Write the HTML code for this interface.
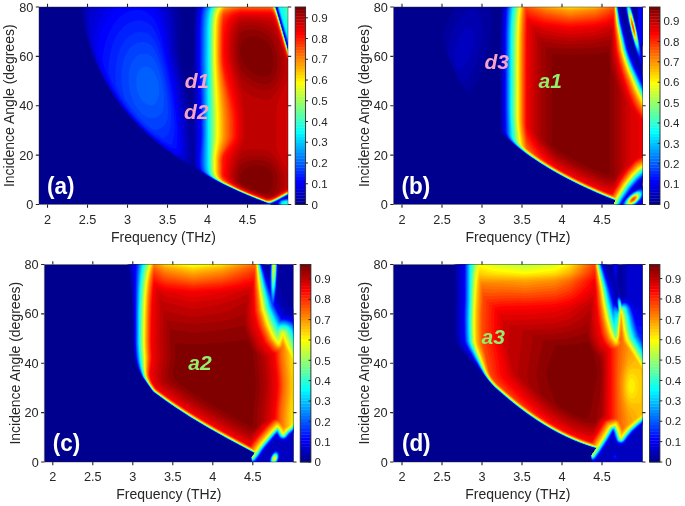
<!DOCTYPE html>
<html><head><meta charset="utf-8"><style>
html,body{margin:0;padding:0;background:#fff;width:685px;height:506px;overflow:hidden}
svg{display:block;font-family:"Liberation Sans",sans-serif;will-change:transform}
</style></head><body>
<svg width="685" height="506" viewBox="0 0 685 506">
<clipPath id="ca"><rect x="39" y="7" width="249" height="197.5"/></clipPath>
<g clip-path="url(#ca)">
<rect x="39.0" y="7.0" width="249.0" height="197.5" fill="#00008f"/>
<path fill="#00009f" d="M289.8 206.4l-22-0.2 0.4-0.4 0.6 0 0.4-0.5 0.6 0 0.4-0.5 0.6 0 0-0.2-2-0.6-0.3-0.2-2.3-0.7-0.4-0.4-1-0.1-0.4-0.4-0.6-0.1-0.7-0.3-0.9-0.2-0.3-0.4-2.1-0.6-0.4-0.4-1.2-0.2-0.2-0.2-0.8-0.2-0.4-0.4-1-0.2-0.3-0.2-0.7-0.2-0.5-0.4-1.1-0.2-0.2-0.2-0.8-0.2-0.4-0.4-2-0.6-0.4-0.4-0.6 0-0.6-0.4-1-0.2-0.3-0.4-0.7-0.1-0.4-0.4-2-0.6-0.4-0.3-0.6-0.2-0.4-0.4-2.2-0.6-0.3-0.4-0.7-0.1-0.3-0.3-0.7-0.2-0.4-0.4-2-0.6-0.4-0.4-0.6-0.1-0.4-0.3-0.6-0.2-0.4-0.4-0.6-0.1-0.6-0.4-0.4 0-0.7-0.5-0.9-0.2-0.2-0.2-0.8-0.2-0.3-0.4-0.7-0.1-0.3-0.3-0.7-0.2-0.3-0.4-0.7-0.1-0.3-0.3-0.7-0.2-0.4-0.4-0.6-0.1-0.4-0.3-0.6-0.2-0.4-0.4-0.6-0.1-0.4-0.3-0.6-0.2-0.4-0.4-0.6-0.1-3.4-1.9-0.6-0.1-0.4-0.4-0.6-0.1-0.4-0.4-0.6-0.1-0.3-0.3-1.7-0.8-0.2-0.2-0.8-0.3-5.4-3.1-7.6-4.6-3.1-2.6-1.2-1.4-0.1-0.8-2 0.2-1-0.3-2.6-1.2-5.4-3.2-8.6-5.6-7-5-9-7-6.4-5.5-9-8.3-7.4-7.3-6.8-7.6-5-6-5-6.4-5-7-4.5-7-4.9-8.6-4.2-8-4.4-9.4-3-7.6-2.4-7-2.5-8-2.4-9-1.8-8.4-1.4-8.6-1-9 96.2 0 1.4 4 0.9 3.6 0.7 3.4 0.4 4 0 7-0.8 16 0.1 7 0.6 6 0.8 5 3.4 16.6 3 16.2 2.4 15.6 2 14.6 0.3-7 1-48.4 0.3-40.5 0.5-13.1 0.5-5.4 0.7-4.6 29.3-0.1 46.4 0 4.6 0.1 14-0.1 0.1 0.1-0.1 48.6 0.2 4 0 8.4 0 122-0.2 7 0.1 11z"/>
<path fill="#0000af" d="M189.8 162.8l-2.6 0.3-1.3-0.3-3.1-1.8-5-3.1-6-4.1-7.6-5.5-6.4-5.1-7-6-10-9.3-5.1-5.1-5.1-5.6-8.3-10-4.2-5.4-3.8-5.6-7-11-6.2-11.4-5.1-11-2.4-6-2.6-7-1.9-6-1.9-7-2.4-10.6-1.3-10.4-0.4-10.6 88.6 0 1.4 3.6 1 3 1 4 0.5 3.4 0.4 7.6 0.3 19 0.5 6.7 0.5 4.3 0.9 5.5 3.3 15.5 2.6 13.4 2.4 15.6 2.1 15.4 1.5 14.6 1.1 18 0 4-0.8 3.4zM289.8 206.4l-22-0.2 0.4-0.4 0.6 0 0.4-0.4 0.6 0 0.4-0.5 0.6 0 0.1-0.1-0.1-0.4-1.6-0.4-2-0.8-1-0.2-0.2-0.2-6.2-2.3-0.3-0.3-2.3-0.7-0.3-0.3-2.1-0.7-0.3-0.3-5.7-2.1-0.4-0.3-5.6-2.3-0.3-0.3-0.7-0.1-0.5-0.3-2.1-0.8-1.3-0.8-4.1-1.7-0.3-0.3-0.7-0.2-0.4-0.2-9.2-4.3-9-4.6-10.8-6.1-5.8-4-1.7-1.6-0.7-1-0.5-1.4-0.2-2.6-0.7-23 0-30 0.9-84 0.7-13 0.6-4.4 0.7-3.6 48.5-0.1 26.6 0 4 0.1 14-0.1 0.1 0.1-0.1 48.6 0.2 7 0 127.4-0.2 7 0.1 11z"/>
<path fill="#0000bf" d="M186.8 160.8l-2 0-2.6-0.6-2.4-1.3-6-4-6.6-4.6-7.4-5.8-6.6-5.4-6.4-5.7-9.6-9.3-5-5.3-4.8-5.6-7.9-10-3.6-5-4-6-6.7-11-5.6-11-4.9-11.4-3.4-9.6-1.9-7-1.7-8-1.2-7-0.8-6-0.4-5.4 0.5-5.6 0.7-5 81.6 0 1.7 4 1 3 0.9 3.6 0.7 3.4 0.8 8 0.9 19.6 0.8 8.4 1 5.6 3.3 15.4 2.6 13.8 2.2 13.8 1.8 13.4 1.8 18.6 0.6 8.4 0.3 8 0 4.6-1.3 3.8zM289.8 206.4l-21.9-0.2 0.3-0.3 0.6 0 0.4-0.5 0.6 0 0.4-0.4 0.6 0 0.4-0.6 1.6-0.1 4.4-2.4 0.7-0.7-0.7 0.5-0.4-0.1-0.6 0.6-0.4-0.1-0.8 0.7-0.2 0.4-0.8 0-0.2 0.5-0.6-0.1-2 0.5-1 0-2.4-0.7-4-1.5-15-5.9-18-8-10.6-5.1-8.4-4.5-6.4-3.6-4.2-2.7-4.1-3.3-1.2-2-0.5-3-0.1-4-0.3-23.6 0.4-101 0.3-11.4 0.4-8 0.7-6 1.1-4.6 73.9-0.1 3.8 0.1 0.2 0.4 0.1-0.4 2.3 0 11.6-0.1 0.1 0.1-0.2 48.6 0.3 7 0 127.4-0.2 7 0.1 11zM276.3 7.2l-0.1-0.6zM276.8 8.8l0-0.4 0 0.5zM277.3 10.2l-0.1-0.1 0 0.4zM277.8 12.2l0-0.2zM278.4 13.8l-0.2-0.3 0 0.6zM278.8 15.8l0-0.2zM279.3 17.2l-0.1-0.2 0 0.5zM280.3 20.8l-0.1-0.3 0 0.5zM281.3 24.2l-0.1-0.2 0 0.4zM282.3 27.8l-0.1-0.3 0 0.4zM283.3 31.2l-0.1-0.2 0 0.4zM284.3 34.8l-0.1-0.3 0 0.4zM285.3 38.2l-0.1-0.2 0 0.4zM286.3 41.8l-0.1-0.3zM286.8 43.2l0 0.2zM287.3 45.2l-0.1-0.1zM287.8 46.8l0 0.1zM288.3 48.8l-0.1-0.2zM288.8 50.2l0-0.1 0 0.3zM289.3 52.2l-0.1-0.1zM284 198.2l4.9-2.4 0.5-0.6-0.3 0-0.3 0.5-0.6 0-0.4 0.5-0.6 0-0.4 0.5-0.6 0-0.4 0.5-0.6-0.1-0.4 0.6-0.6-0.1-0.4 0.6-0.7 0 0.1 0.2z"/>
<path fill="#0000cf" d="M184.8 158.9l-0.6 0.1-1 0-3-0.9-3-1.4-4-2.4-7.4-5.4-7.3-5.7-6.6-5.4-7.1-6.5-5.6-5.4-4.4-4.7-4.6-5-5-6-5.1-6.4-4-5.6-4-6-3.4-5.4-4-7-2.9-5.9-2.4-5.1-2.7-6.6-2.1-6-2.2-7-1.5-6-1.3-6-0.9-4.4-0.2-2.6 0-7.4 0.5-7.6 0.2-1.4 0.6-1.6 3.2-7 71.3 0 1.9 4 1.3 3.6 1.2 4 0.8 4 0.9 7 1.3 18 1.1 9.4 0.8 5 3 13.6 2.2 11.4 2 11.6 1.8 12 1.8 16.4 1.1 15.6 0.6 14.4-0.6 2zM289.8 206.4l-21.9-0.2 0.3-0.3 0.6 0 0.4-0.4 0.6 0 0.4-0.5 0.6 0.1 0.4-0.6 1 0.4 0.6-0.1 4.4-2.4 1-1.2-0.4-0.1-0.6 0.4-0.4 0-0.6 0.5-0.4 0-0.6 0.5-2 0.9-2.4 0.6-1-0.1-3-0.9-5.6-2.1-13.4-5.4-17-7.6-8.6-4.1-9.7-5-6.8-4-4.5-3-3-2.6-1.3-2-0.5-2.4-0.2-4.6 0.1-125.4 0.3-11.6 0.5-8 0.8-6 1.2-4 25.7-0.1 48.4 0 2.3 0.1 0.3 0.8 0.3 0.2 0.1 1.5 0.3-0.5-0.3-1.1-0.2-0.3 0-0.6 12.2-0.1 1.6 0 0.1 0.1 0 38-0.1 9.9-0.2 0.7 0.3 3 0.1 4-0.1 131.4-0.1 3-0.6-0.1-1 0.4-1.4 0.9-0.6 0.1-0.4 0.4-0.6 0.1-0.4 0.5-0.6 0-0.4 0.5-0.6 0.1-0.4 0.6-0.6 0.1 0.6 0 2.2-0.6 4.2-2.1 0.6-0.5 0.1 6.6 0 4zM277.5 10.8l-0.3-1.2-0.3-0.4 0.1-0.4-0.2-1-0.2 1 0.2 0.5 0.3 0.5 0.1 1.2zM278 12.2l-0.2-0.9-0.2 0.5 0.2 0.9zM278.4 14.2l0.1-0.4-0.3-0.8-0.1 0.8 0.1 0.6zM279 15.8l-0.2-1-0.2 0.4 0.2 0.9zM279.4 17.8l0.1-0.6-0.3-0.7-0.1 0.7 0.1 0.7zM280 19.2l-0.2-0.9-0.2 0.5 0.2 0.8zM280.9 22.8l-0.1-1.1-0.4-0.5 0.1-0.4-0.3-0.8-0.1 0.8 0.1 0.5 0.5 0.5-0.1 0.4 0.2 0.9zM281.9 26.2l-0.1-1-0.5-0.4 0.2-0.6-0.3-0.7-0.1 0.7 0.1 0.6 0.5 0.4-0.1 0.6 0.2 0.7zM282.9 29.8l-0.1-1.1-0.5-0.5 0.2-0.4-0.3-0.8-0.1 0.8 0.1 0.5 0.5 0.5-0.1 0.4 0.2 0.8zM283.9 33.2l-0.1-1-0.5-0.4 0.2-0.6-0.3-0.8-0.1 0.8 0.1 0.6 0.5 0.4-0.1 0.6 0.2 0.7zM284.5 34.8l-0.3-0.9-0.1 0.9 0.1 0.4zM284.9 36.8l-0.1-1.1-0.2 0.5 0.2 0.8zM285.5 38.2l-0.3-0.8-0.1 0.8 0.1 0.5zM285.9 40.2l-0.1-1-0.2 0.6 0.2 0.7zM286.5 41.8l-0.3-0.9-0.1 0.9 0.1 0.4zM286.9 43.8l-0.1-1.2-0.2 0.6 0.2 0.7zM287.5 45.2l-0.3-0.8-0.1 0.8 0.1 0.5zM287.9 47.2l-0.1-1.1-0.2 0.7 0.2 0.6zM288.5 48.8l-0.3-0.9-0.1 0.3 0.1 1zM288.9 50.8l0-0.6-0.1-0.6-0.2 0.6 0.2 0.7zM289.5 52.2l-0.3-0.9-0.1 0.5 0.1 0.8z"/>
<path fill="#0000df" d="M182.2 157.3l-1-0.1-2-0.7-3.4-1.7-5-3.1-6-4.1-6.6-4.9-6-4.9-5-4.6-6.3-6-8.7-9-6-6.9-4-5.1-3-4-5.4-8-3.6-6-3.1-5.4-2.9-5.6-2.8-6-2.3-5.4-2.5-6.6-2.1-6.4-1.8-6.6-0.5-2-0.3-4-0.4-9 0-3.4 0.3-1.6 1.7-5.4 2.3-5.6 2.4-5.1 2.9-4.9 58.9 0 1.8 3.2 1.6 3.4 1.3 3.4 1.1 3.6 1 4.3 1 6.7 1.7 17 1.1 8.4 0.9 5 2.8 12.6 2 10 2.1 11.4 1.5 10 2 17.6 2 27.4 0.1 4.6-0.8 1.9zM289.8 206.4l-21.8-0.2 0.2-0.2 0.6 0 0.4-0.5 0.6 0 0.4-0.4 0.6 0 0.4-0.4 1 0.6 0.6 0 1-0.5 3.4-1.9 2.2-2.7-0.2 0-0.4 0.4-1 0.3-4 2.1-3.6 0.9-3.4-1-10.6-4-12-5-9-4-12-5.7-7.7-4-7.3-4.1-6-3.8-2.4-2.1-1.9-2.4-0.6-2.6-0.2-4.4 0.4-25.6-0.4-72 0.1-29.4 0.3-11 0.6-8 0.9-5.6 0.5-2 0.8-2 44.9-0.1 26.6 0 3.6 0.1 3.5 11.6 10.5 36.4 0.4 1.5 0.1 2.1 0 136-0.1 2.3-0.6-0.1-0.4 0.1-6.9 3.7 0.3 0.2 0.6 0 3.1-0.8 3.9-1.9 0.1 5.9zM289.8 52.5l-13.6-47.3 12-0.1 1.6 0 0.1 0.1zM281.7 199.2l-0.5-0.1-0.2 0.1 0.2 0.2zM280.4 199.8l-0.3 0z"/>
<path fill="#0000ef" d="M179.2 155.3l-3.4-1.6-5-3-6-4.1-6.6-4.8-6-4.8-5-4.4-5.4-5.1-5.7-5.7-5-5.6-4.6-5.4-4.6-6-3.9-5.6-3.6-5.4-4-6.6-3.5-6.4-3-6-3.9-9-3.2-8.9-0.9-4.1-0.8-5.6-0.6-5.4-0.2-4.6 1.3-5 1.4-4.4 1.6-4.6 1.7-4 1.9-3.8 2.2-3.6 2.4-3.5 2.4-3.1 46.6 0 2.4 3.8 2 3.8 1.3 3 1.2 3.4 1.1 3.9 0.8 3.7 1 6 1.9 15 1.1 7 5.8 27.4 1.9 10.6 1.6 11 3.1 26.4 0.7 9 0.3 7.6 0.1 5.4-0.3 0.8-1 1.2zM270.2 203.8l-2-0.4-3-1.1-17.4-7-12.6-5.4-12.4-6-9-4.7-8-4.8-3.3-2.2-1.8-1.4-1.8-2.6-0.6-2.4-0.4-4.6 0.1-6.4 0.8-19.6-0.1-23.4-0.7-48 0.1-30 0.3-11.6 0.6-7.4 1-5.6 1.4-4 71.4-0.1 2.4 0.1 0.4 1 14.2 48.8 0.1 1.2 0 136-0.1 2.9-0.6-0.2-0.4 0.1-15 7.8zM289.8 52l-13.5-46.8 11.9-0.1 1.7 0.1zM289.8 206.4l-21.8-0.2 0.2-0.2 0.6 0 0.4-0.4 0.6 0 0.4-0.4 0.9 0 0.7 0.5 0.4 0.1 1-0.2 4-2.1 2-2.8 1.5-0.9 0.1-0.2 6.2-1.4 2.8-1.3z"/>
<path fill="#0000ff" d="M177.8 151.8l-2.6 0.1-1-0.1-1-0.5-5-3.2-7.4-5.3-6.6-5.1-6.4-5.5-6-5.6-6.7-6.8-4.9-5.6-4.9-6-4.1-5.4-4.1-6-4.1-6.6-3.7-6.4-3.3-6.6-2.8-5.9-1.8-6.1-1.5-5.4-1.4-6.6-0.9-5 0.1-2 1.4-6.4 1.5-5.6 1.9-5.4 2.3-5.1 2.4-4.6 2.9-4.3 2.8-3.6 3.3-3.3 3.4-2.7 30.3 0 2.9 3 2.4 3.2 2.1 3.4 1.9 4.1 2 6.1 1.7 7.2 4.1 23.6 3.8 17.4 2.6 13 1.9 11 1.9 13.1 1.1 8.5 0.9 9.3 0.6 7.7 0.2 7-0.2 8-0.6 0.5zM271.2 203.5l-1.4 0.2-1.6-0.4-10.4-4-14.6-6-16.4-7.5-11.9-6-8.1-4.9-3.3-2.1-1.9-1.6-1.8-2.4-0.6-2.6-0.4-4.4 0.1-6.6 1-14 0.2-6-0.2-23.4-1-48 0.1-29.6 0.3-11 0.5-7.4 0.6-4 0.6-3 1.2-3.6 43-0.1 26.6 0 3.4 0.1 3.5 11.6 11.1 38.5 0.1 0.9 0 134.6-0.1 4.2-1-0.2-13.6 7.1-2 0.9zM289.8 51.5l-13.3-46.3 11.7-0.1 1.7 0.1zM289.8 206.3l-16.6-0.1 4-2.1 1.9-2.9 0.7-0.7 1-0.6 1.4-0.5 6-1.2 1.6-0.7zM271.2 206.3l-3.1-0.1 0.1-0.1 0.6 0 0.4-0.5 0.6 0.1 0.4-0.5 1.4 1z"/>
<path fill="#0010ff" d="M271.2 203.3l-1.4 0.3-1.6-0.4-11-4.1-14-5.8-16.4-7.5-9-4.6-7.6-4.2-7.1-4.8-1.1-1-1.5-2-0.6-2.4-0.3-4.6 0.1-5.4 1.2-15 0.2-6.6-0.2-28.4-0.9-27.6-0.3-17 0.1-28.4 0.3-11 0.6-8 0.9-5.6 0.6-2 0.8-2 42.2-0.1 26.6 0 3.3 0.1 4.5 15 9.7 34 0.5 1.2 0 0.8 0.1 134.6-0.1 4.1-0.6-0.3-0.4 0-13.6 7.2-2 0.9zM289.8 50.9l-13.2-45.7 13.3 0zM176.2 148.4l-2 0.2-3-0.7-5-2.3-3.4-2.2-8-6.1-6.6-5.5-6.4-6-6.4-6.6-5.2-6-5.6-7-4.3-6-4.6-7-2.5-4-2-3.8-2.8-6.6-2.5-6.6-2.3-7.4-1.2-5 0.8-6.6 1.1-6 1.5-6 2-5.5 2-4.6 2.3-4.3 2.3-3.6 2.8-3.4 3-3 3-2.4 3-1.7 3.6-1.6 2.4-0.7 2.6-0.4 2.4-0.2 2 0.1 2 0.3 2 0.5 2 0.9 2 1.1 3.6 2.7 1.4 1.6 1.6 1.9 1.4 2.3 1.4 2.6 2.2 5.4 1.4 4.6 1.6 6 7.4 34 2.8 14 2.3 14 1.9 15.4 1 13 0.1 5.6-0.1 5-0.4 5-0.4 2.4zM289.8 206.3l-15.3-0.1 2.7-1.5 0.6-0.5 1.5-3 1.5-1.1 1.4-0.5 5-0.8 2.6-0.7zM270.2 206.3l-2.1-0.1 0.1-0.1 0.6 0 0.4-0.4 0.8 0.1 0.5 0.4z"/>
<path fill="#0020ff" d="M270.8 203.4l-1 0.1-2-0.5-15.6-6-13.4-5.8-15.6-7.2-10-5.3-7-4.5-3.3-2.4-1.6-2-0.2-0.6-0.6-2.4-0.3-4 0.2-7.6 1-14 0.2-6-0.1-23.4-1.2-48 0.1-31 0.4-11 0.6-7.6 1-5.4 1.4-3.6 41.4-0.1 26.6 0 3.2 0.1 4.1 13.6 9.7 34 1 2.6 0 0.8 0.1 135-0.1 3.6-0.6-0.3-0.4 0-13.6 7.1-2 1zM289.8 50.4l-13-45.2 13.1 0zM171.2 144.9l-3.4-1.5-5-2.5-5-2.9-5-3.3-4-3.3-6-5.5-5.1-5.1-4.9-5.5-4.7-5.5-3.8-5-4.3-7-3.3-6-2.8-5.6-2.6-6-2.5-6.5-0.4-1.5 0.1-5.4 0.5-5.6 0.7-5 0.9-4.4 1-4 1.3-4 1.7-4 1.7-3.6 1.9-3.1 2-2.7 2.4-2.6 2.2-2 2.4-1.8 2.6-1.4 3-1.2 2.3-0.6 2.1-0.4 2-0.1 2 0.2 2 0.4 2 0.6 1.6 0.7 2 1.3 3 2.8 1.4 1.9 1.6 2.4 2.4 5.3 2 5.7 3 10.9 3.6 14.2 2 9.1 3 15.5 2.2 15.9 1.2 13.6 0.2 6-0.1 5-0.4 4.4-0.7 3.9-1.1 3.7-0.5 1zM289.8 206.3l-14.3-0.1 1.7-0.9 0.6-0.5 1.8-3.6 1.2-0.9 2-0.7 7-1.2zM269.8 206.3l-1.7-0.1 0.7 0 0.4-0.5z"/>
<path fill="#0030ff" d="M270.8 203.3l-1 0.1-2-0.4-11-4.2-16.6-6.9-13.4-6.3-10-5.1-7-4.1-5.5-3.6-1.9-2-0.6-1-0.7-2.6-0.3-4.4 0.1-7.6 1-14 0.2-6-0.1-23.4-1.1-48 0.1-31 0.4-11 0.6-7.6 0.5-3 0.6-2.4 0.7-2 0.8-1.6 40.6-0.1 26.6 0 3.2 0.1 4 13.6 10.2 35.8 0.6 0.9 0 0.7 0.1 135-0.1 3.5-0.6-0.4-0.4 0-13.6 7.2-2 0.9zM289.8 49.9l-12.9-44.7 12.9 0zM163.8 137.8l-0.6 0.3-0.4-0.1-2-0.9-4.6-2.6-5-3.5-3.4-2.7-3.6-3.1-3.7-3.4-3.4-3.6-6.3-7.5-5.3-7.5-5.1-8.4-4.2-8.6-0.4-3-0.4-6 0-5 0.3-5 0.3-3.4 0.9-5 1-4 1.5-4.6 1.6-3.4 1.9-3.6 1.9-2.5 2-2.4 2.4-2.2 2.6-1.7 2.4-1.2 2.6-0.8 2.4-0.4 2-0.1 2.6 0.3 2 0.5 3.4 1.7 1.6 1.3 1.7 2.1 1.7 2.4 1.3 2.6 2.6 6 2.4 7.4 3.1 11 2.9 13 2.5 14 1.5 12.6 0.4 6 0.2 5-0.1 4.4-0.4 4-0.5 3-0.9 3-0.6 1.6-0.8 0.9-2 1.8zM289.8 206.3l-13.2-0.1 0.6-0.3 0.6-0.6 1.7-3.5 1.3-1.3 2-0.7 7-1.1zM268.8 206.3l-0.6-0.1 0.9 0z"/>
<path fill="#0040ff" d="M270.2 203.3l-1.4-0.1-3-1-14-5.5-12.8-5.5-15.2-7.1-8.6-4.5-5.6-3.4-4.4-3-1.9-2-0.8-1-0.7-2.4-0.4-4.6 0.1-8 0.9-14 0.2-6-0.1-23.4-1-48.6 0.1-30.4 0.4-11 0.6-7.6 0.5-3 0.7-2.3 0.8-2.1 0.8-1.6 39.8-0.1 26.6 0 3.1 0.1 5.1 17 9.2 32.6 0.6 0.8 0 0.6 0.1 135.6-0.1 2.8-0.6-0.4-0.6 0-13.8 7.4-2 0.9zM289.8 49.5l-12.8-44.3 12.8 0zM156.2 129.8l-2.4 0.3-1.6-0.8-2.6-2.1-4.2-3.4-3.6-3.5-3.6-3.6-3-3.5-5.8-7.4-4.6-7-1.1-4-1-4.6-0.6-4-0.5-4.4-0.2-4.6 0.1-4 0.8-7 0.8-4 1.1-3.9 1.5-3.5 1.5-3 1.6-2.3 2-2.3 2.1-2 2.3-1.4 2.3-1 2.3-0.6 2.4-0.2 2 0.1 2.5 0.7 2.1 0.8 2.4 1.5 1.6 1.8 1.4 2.2 1.6 2.8 1.4 3.4 3 8.6 2.6 9.1 2.4 11.6 1.6 9.6 1 10 0.2 9-0.2 3.3-0.5 3.3-1.1 3.3-2.4 2.9-1.6 1.3-2 1.2-2 0.8zM289.8 206.3l-12.4-0.1 1.3-2 1-2.4 1.1-1.1 2-0.8 7-1zM268.2 206.3l0.4-0.1z"/>
<path fill="#0050ff" d="M269.8 203.3l-1.6-0.3-2.4-0.9-17.6-6.9-13-5.7-12.4-5.9-8.6-4.6-6.6-4.2-2-1.6-1.5-1.4-0.9-1-0.3-1-0.6-2-0.3-4.6 0.1-8 0.8-14 0.2-6-0.1-23.4-1-48.6 0.2-31.4 0.4-11 0.7-7 1.2-5 0.8-2 0.9-1.6 39-0.1 26.6 0 3.1 0.1 4.6 15.6 9.7 34.1 0.6 0.8 0.1 1.1 0 135.4-0.1 2.2-0.6-0.3-0.7 0.1-13.7 7.3-4 1.6zM289.8 49.2l-12.7-44 12.7 0zM153.2 118.3l-1.4 0-2-0.2-2-0.6-2-0.9-3.6-2.4-2-1.9-1.4-1.7-3.1-4.4-2.8-5.4-2.1-6.1-1.4-5.9-0.8-6.6 0-6 0.6-5.6 0.7-2.8 0.8-2.6 1.1-2.4 1-1.9 1-1.7 1.4-1.6 1.6-1.4 1.4-1 1.6-0.8 2-0.5 1.4-0.2 1.9 0.1 1.7 0.3 1.4 0.5 2 1.1 1.6 1 2 1.8 0.4 0.7 2.6 5 2.4 7 2 7.5 1.6 7.5 1 7.1 0.4 6.5 0 5-0.6 4.4-0.8 2-1 1.7-1.1 1.3-1.5 1.5-1.4 1.1-1.6 0.7-1.4 0.5zM289.8 206.3l-11.9-0.1 0.9-1.5 1.2-2.9 0.9-1 1.9-0.7 7-1z"/>
<path fill="#0060ff" d="M271.2 202.9l-1 0.3-1.4-0.1-8-2.9-17.6-7.2-17-7.8-10-5.2-6.2-3.8-2.9-2-1.7-1.4-1.4-1.6-0.6-1.4-0.4-1.6-0.4-4.4 0.1-8 0.7-14.6 0.2-6-0.1-23.4-0.9-49 0.2-32 0.4-10 0.7-7 0.5-2.6 0.8-2.4 0.8-2 0.9-1.6 38.3-0.1 26 0 3.6 0.1 3.6 12 10.8 37.8 0.6 0.7 0 0.5 0.1 134.6-0.1 3.5-0.6-0.2-0.9 0.1-13.5 7.2zM289.8 48.8l-12.6-43.6 12.6 0zM152.2 105.3l-2 0.3-2.4-0.6-2.6-1.4-2-1.8-2-2.5-1.7-3.1-1.5-3.4-1.1-4-0.6-4-0.1-3.6 0.3-3.4 0.8-3.6 1.2-3 1.7-2.3 2-1.6 2-0.7 2-0.1 2.6 0.8 2 1.3 2 2 1.8 2.6 1.6 3.2 1.3 3.4 1 4 0.6 4 0.1 3.4-0.2 3.6-0.8 3.5-1 2.5-1.4 2.3-1.6 1.3zM289.8 206.3l-11.6-0.1 2-4.4 1-1 1.6-0.6 7-1z"/>
<path fill="#0070ff" d="M271.2 202.8l-1.4 0.4-1.6-0.3-11.4-4.3-17.6-7.4-16-7.5-9-4.9-5.5-3.6-1.9-1.4-2-2-1-2.6-0.6-5 0-8.4 0.9-20.6-0.1-23.4-0.8-49.6 0.2-32.4 0.5-10 0.8-6.6 1.1-4.4 1-2 0.9-1.6 65.5-0.1 1.5 0.1 0.7 2 13.8 48 0.6 0.6 0.1 1 0 134-0.1 3.4-0.6-0.2-1 0.2-13.4 7.1zM289.8 48.4l-12.4-43.2 12.4 0zM289.8 206.3l-11.3-0.1 1.9-4.4 0.4-0.6 0.8-0.4 1.2-0.5 7-0.9z"/>
<path fill="#0080ff" d="M270.8 202.9l-1.6 0.2-2-0.6-14-5.4-14-5.9-16-7.6-8-4.3-5.7-3.5-3.9-3.6-0.4-0.4-0.9-2.6-0.5-4.4 0-9 0.8-20.6-0.1-23.4-0.7-49.6 0.2-33 0.5-9.4 0.8-6.6 1.2-4.4 1-2 1-1.6 64.7 0 1.5 0 0.6 2 13.9 48 0.6 0.6 0.1 1 0 134.4-0.1 2.9-0.6-0.2-1 0.2-13.4 7.1zM289.8 48l-12.3-42.8 12.3 0zM289.8 206.3l-11-0.1 1.9-4.4 1.1-1 1-0.3 7-1z"/>
<path fill="#008fff" d="M270.8 202.8l-1 0.2-2-0.4-14.6-5.5-14-6-16-7.5-8.4-4.6-5.1-3.2-3.7-3.6-1-2.4-0.7-5 0.1-9 0.6-20.6 0-23.4-0.6-50 0.2-32.6 0.5-9.4 0.8-6.6 0.6-2.4 0.7-2 1-2 1.1-1.6 63.9 0 1.4 0 0.7 2 13.9 48 0.6 0.7 0 0.9 0.1 134.4-0.1 2.8-0.6-0.2-1 0.2-13.4 7.2zM289.8 47.6l-12.2-42.4 12.2 0zM289.8 206.3l-10.7-0.1 1.9-4.4 0.8-0.8 1-0.3 7-1z"/>
<path fill="#009fff" d="M270.2 202.9l-1.4-0.1-2.6-0.7-14-5.5-13-5.5-16-7.6-8.7-4.7-4.6-3-3.2-3-1.2-3-0.6-4.6 0.1-9.4 0.5-20.6 0-23-0.5-50.4 0.2-32.6 0.5-9.4 0.8-6.6 0.7-2.4 0.7-2 1.1-2 1.1-1.6 64.1 0 0.4 0 0.2 0.5 1.5 5.1 12.9 44.4 0.6 0.7 0 0.9 0.1 135.4-0.1 1.8-0.6-0.2-1 0.1-13.4 7.2zM289.8 47.2l-12.1-42 12.1 0zM289.8 206.3l-10.4-0.1 0.1-0.4 1.5-3.6 0.2-0.4 0.6-0.6 1.4-0.4 6.6-0.9z"/>
<path fill="#00afff" d="M270.2 202.9l-1.4-0.1-2.6-0.8-14-5.5-13-5.5-16-7.5-7.7-4.3-4.8-3-3.1-3-1.5-3-0.6-5 0.1-9.4 0.4-20.6-0.5-74 0.3-32 0.5-9.4 0.9-6.6 0.6-2.4 0.8-2 2.1-3.6 63.5 0 0.3 0 0.3 0.7 1.5 4.9 12.8 44.4 0.7 0.7 0 0.9 0.1 135.4-0.1 1.7-0.6-0.2-1 0.2-13.4 7.1zM289.8 46.9l-12-41.7 12 0zM289.8 206.3l-10-0.1 0-0.4 1.4-3.6 0.3-0.4 0.6-0.6 1.1-0.3 6.6-0.9z"/>
<path fill="#00bfff" d="M270.2 202.8l-1.4-0.1-2.6-0.7-14-5.5-13-5.5-16-7.6-7.6-4.2-4.6-3-3-3-1.3-3-0.6-4.4 0.4-30-0.4-75 0.3-31 0.4-9.6 0.9-6.4 0.6-2.6 0.7-2 2.2-4 34-0.1 29.3 0.1 3.8 12.6 10.8 37.4 0.7 0.8 0.1 10.2 0 122-0.1 5.6-0.6-0.2-1 0.2-13.4 7.1zM289.8 46.4l-11.8-41.2 11.8 0zM289.8 206.3l-9.7-0.1 0-0.4 1.4-3.6 0.3-0.4 0.4-0.4 1-0.3 6.6-1z"/>
<path fill="#00cfff" d="M269.8 202.8l-1.6-0.2-3-1-16.4-6.6-14-6.1-11.6-5.5-7.5-4.2-3.9-2.4-3.1-3-1.4-3-0.6-4.6 0.3-30.4-0.3-75.6 0.3-30.4 0.4-9 0.8-6.6 1.1-4 1.2-3 1.2-2 62.7 0 3.4 11 11.2 39 0.4 0.6 0.4 0.2 0.1 10.2 0 122-0.1 5.5-1-0.2-0.6 0.2-13.4 7.1-2.6 1.2zM289.8 45.6l-11.6-40.4 11.6 0zM289.8 206.3l-9.4-0.1 0-0.4 0.8-2.4 1-1.7 1.5-0.5 6.1-0.9z"/>
<path fill="#00dfff" d="M269.8 202.8l-1.6-0.3-3-1-16.4-6.5-12.6-5.5-13-6.2-7.4-4.1-3.8-2.4-2.7-2.6-1.3-3-0.7-4.4 0.2-31.6-0.2-79 0.2-25.4 0.5-9.6 0.7-6.4 0.7-3 1-3 0.9-2 0.9-1.6 62.1 0 3.5 11 11.2 39 0.3 0.6 0.5 0.2 0.1 10.2 0 122-0.1 5.4-1-0.1-0.6 0.1-14 7.4zM289.8 44.9l-11.4-39.7 11.4 0zM289.8 206.3l-9.1-0.1 0-1 1.1-2.2 0.9-1.2 2.1-0.6 5-0.7z"/>
<path fill="#00efff" d="M270.8 202.4l-1 0.3-2-0.4-11.6-4.3-17-7.2-16-7.5-7-3.9-3.4-2.2-3.2-3-1.1-3-0.6-4.4 0.1-31.6-0.1-79 0.2-25.4 0.5-10 0.9-7 1.3-5 0.9-2 1-1.6 61.6 0 3.5 11.1 11.2 38.9 0.2 0.6 0.6 0.3 0.1 10.1 0 122-0.1 5.4-1-0.2-0.6 0.2-13.4 7.1zM289.8 44.1l-11.2-38.9 11.2 0zM289.8 206.3l-8.8-0.1 0-1 0.8-1.6 1-1.4 0.9-0.4 2.1-0.6 4-0.5z"/>
<path fill="#00ffff" d="M270.8 202.3l-1 0.3-1.6-0.2-3-1-9-3.5-16.4-6.9-16.5-7.8-7.2-4-3.1-2-2.8-2.4-1.2-3-0.6-4.6 0-111 0.3-25.4 0.3-9 0.9-8 0.6-2.6 0.8-2.4 0.9-2 1.1-1.6 60.9 0 3.1 9.6 11.6 40.4 0.3 0.6 0.6 0.3 0.1 10.1 0 122-0.1 5.3-1-0.2-0.6 0.2-13.4 7.1zM289.8 43.3l-10.9-38.1 10.9 0zM289.8 206.3l-8.5-0.1 0-1 0.1-0.4 0.8-1.5 0.6-0.5 0.9-0.6 1.1-0.4 2.1-0.6 2.9-0.3z"/>
<path fill="#10ffef" d="M270.2 202.4l-0.4 0.2-1-0.1-2-0.6-14-5.4-13-5.5-16.4-7.8-6.4-3.4-3.2-2-3.3-3-1-2.6-0.6-5 0.1-32-0.1-79 0.2-26.4 0.5-10 0.8-6.6 0.6-2.4 0.7-2 1-2 1.1-1.6 60.4 0 3.6 11.3 11.1 38.7 0.3 0.7 0.6 0.3 0.1 10 0 122-0.1 5.2-1-0.1-0.6 0.1-13.4 7.1zM289.8 38.7l-2.6-8.9-2.3-6-1.7-7.6-3.1-11 9.7 0zM289.8 206.3l-8.1-0.1 0-1.4 1.1-1.5 3-1.5 2.4-0.6 1.6 0z"/>
<path fill="#20ffdf" d="M270.2 202.4l-0.4 0.1-1-0.1-2.6-0.7-13.4-5.3-13-5.5-16.3-7.7-6.4-3.4-3.1-2-2.8-2.6-0.4-0.4-1-2.6-0.5-4.4 0.2-32-0.2-76 0.2-30.6 0.5-9.4 0.8-6.6 0.6-2.4 0.7-2 1.1-2 1.1-1.6 59.8 0 3.7 11.5 11.1 38.5 0.3 0.7 0.6 0.3 0.1 10 0 122-0.1 5.1-1-0.1-0.6 0.1-13.4 7.2zM289.8 29.7l-0.9-1.9-2.2-4-1.1-3-1-4.6-1.4-8.9-0.5-2.1 7.1 0zM289.8 206.3l-7.5-0.1 0-1.4 0.2-0.6 0.5-0.4 3.9-2 2.9-0.2z"/>
<path fill="#30ffcf" d="M270.2 202.3l-0.4 0.1-1 0-2.6-0.7-13.4-5.3-13.6-5.8-16-7.5-5.9-3.3-3.7-2.6-2.2-2-1.2-3-0.6-4.4 0.1-11.6 0.4-21-0.4-74.4 0.2-31.6 0.5-9.4 0.9-6.6 0.6-2.4 0.7-2 1-2 1.2-1.6 59.2 0 1.6 4.6 2.2 7 10.7 37.4 0.5 1.6 0.8 0.4 0.1 10 0 122-0.1 5.1-1-0.2-0.6 0.2-13.4 7.1zM289.8 24.8l-2.6-3.5-1.1-3.1-1-5-0.8-8 5.5 0z"/>
<path fill="#40ffbf" d="M269.8 202.4l-1.6-0.2-2.4-0.8-17.6-6.9-13-5.7-12-5.8-5-2.8-4.4-3-2.1-2-1.1-2.4-0.6-5 0.1-11.6 0.5-21 0-23-0.5-51 0.2-32 0.5-9.4 0.9-6.6 0.6-2.4 0.7-2 1.1-2 1.2-1.6 58.7 0 1.5 4.6 2.2 7 10.8 37.4 0.5 1.6 0.8 0.5 0.1 9.9 0 122-0.1 5-1-0.1-0.6 0.1-13.4 7.1-3.2 1.5zM289.8 19.5l-1.6-0.1-0.8-1.2-0.6-1.6-0.6-2.4-0.5-3-0.1-6 4.2 0z"/>
<path fill="#50ffaf" d="M269.8 202.3l-1.6-0.1-2.4-0.8-17.6-7-12.9-5.6-12.1-5.8-4.8-2.8-4.4-3-1.7-1.4-1.3-3-0.6-4.6 0.1-12 0.7-21-0.1-23.4-0.7-50 0.3-32.6 0.5-9.4 0.9-6.6 0.6-2.4 0.8-2 1.1-2 1.2-1.6 58.1 0 1.6 4.6 2.1 7 11 38 0.3 1 0.9 0.5 0.1 9.9 0 122-0.1 4.9-1-0.1-0.6 0.1-14 7.4-2.7 1.3zM289.8 13.6l-1.6 0-0.4-0.1-0.3-0.7-0.4-2 0-5.6 2.7 0z"/>
<path fill="#60ff9f" d="M269.8 202.3l-1.6-0.2-2.4-0.7-17.6-7-12.8-5.6-12.2-5.9-5.5-3.1-4.1-3-1-1-1.3-3-0.5-4.6 0-12 0.9-21-0.1-23.4-0.8-50 0.1-20 0.2-13 0.5-9 0.9-6.6 0.6-2.4 0.8-2 1.2-2 1.3-1.6 57.4 0 1.6 4.6 2.2 7 10.9 38 0.4 1 0.9 0.6 0.1 9.8 0 122-0.1 4.9-1-0.1-0.6 0.1-14 7.3-2.9 1.4z"/>
<path fill="#70ff8f" d="M270.8 201.9l-1.6 0.3-1.4-0.2-8-3-16-6.6-16.6-7.6-6.9-3.6-5.5-3.7-1.6-1.3-1.4-3-0.6-5 0-12 0.9-15 0.2-6-0.1-23.4-1-49.6 0-20 0.3-13.4 0.5-9.6 0.4-3.4 0.6-3 0.7-2.6 0.9-2 1.2-1.7 1.3-1.3 56.7 0 1.6 4.6 2.1 7 11 38 0.3 1 0.4 0.4 0.6 0.2 0.1 9.8-0.1 126.8-1-0.1-1 0.3-10.6 5.7-3.4 1.7z"/>
<path fill="#80ff80" d="M270.8 201.8l-1.6 0.3-1.4-0.2-6.6-2.4-17.4-7.1-16.6-7.6-6.7-3.6-5.7-3.8-1.3-1.2-1.4-3-0.5-4 0-10.4 1.1-20.6 0.1-14.4-0.2-15.6-1-45.4 0-20.6 0.3-14 0.5-9.4 0.5-3.6 0.6-3 0.9-2.4 1-2 0.8-1.3 1.5-1.3 55.9 0 1.4 3.6 2.2 7.2 11.4 39.2 0.2 0.6 0.4 0.4 0.6 0.3 0.1 9.7-0.1 126.7-1-0.1-1 0.4-11 5.8-3 1.5z"/>
<path fill="#8fff70" d="M270.2 201.9l-1 0.2-1.4-0.2-10.6-4-17-7.1-12.9-6-6.7-3.6-5.2-3.4-1.2-1-1.6-3-0.7-4.6 0-10.4 0.2-5 1.2-15.6 0-14.4-0.2-15.6-1.1-45.4 0-20.6 0.3-14.4 0.6-9.6 0.5-3.4 0.6-2.6 0.8-2.4 1-1.9 1-1.2 1.6-1.5 55.1 0 1.4 3.6 2.2 7 11.4 39.4 0.7 1 0.6 0.3 0 136.4-1-0.1-1 0.3-11 5.9-3.6 1.7z"/>
<path fill="#9fff60" d="M270.2 201.8l-1 0.2-1.4-0.2-10.6-3.9-17-7.1-12.8-6-6.6-3.6-5.2-3.4-1.2-1-1.4-3-0.7-4.6 0-10.4 0.3-5 1.2-15.6 0.1-14.4-0.2-15.6-1.3-45.4 0-21 0.3-14.6 0.6-9.4 0.6-3.6 0.6-2.4 0.7-2 0.8-1.6 1.3-1.4 1.8-1.6 54.3 0 1.4 3.3 2.1 6.7 11.6 40 0.6 1 0.7 0.4 0 136.2-1-0.1-1 0.3-11 5.9-3.6 1.7z"/>
<path fill="#afff50" d="M270.2 201.8l-1.4 0.1-1-0.1-10.6-3.9-13.5-5.7-14.2-6.4-6.9-3.6-6.1-4-1.3-1-0.4-0.4-1.5-3-0.6-4 0-11 0.3-5 1.3-15.6 0.1-14-0.2-16-1.4-45.4 0-21 0.2-14.6 0.7-9.4 0.6-3.6 0.6-2.4 0.9-2.2 0.8-1.4 1.4-1.4 1.8-1.6 53.5 0 1.5 3.4 2.1 6.6 11.5 40 0.6 1 0.8 0.4 0 136.1-1-0.1-1 0.4-11 5.8-3.6 1.8z"/>
<path fill="#bfff40" d="M269.2 201.8l-1.3 0-1.7-0.6-12.8-5-13-5.4-10.8-5-6.9-3.6-6-4-1.2-1-1.7-3-0.7-4.4 0-11 0.3-5 1.5-15.6 0.1-14-0.3-16-1.2-32-0.4-13.4 0-21 0.3-15 0.7-9 0.5-3 0.6-2.7 0.8-1.9 1.2-2 1.4-1.4 2-1.6 52.6 0 1.6 3.6 2 6.3 11.6 40.1 0.5 1 0.9 0.5 0 136-1-0.1-1 0.3-14 7.4-2.6 1.1z"/>
<path fill="#cfff30" d="M268.8 201.8l-2.4-0.6-1.4-0.4-16.4-6.6-11.4-4.9-9.5-4.5-4.9-2.6-5.9-4-1-1-1.1-1.7-0.7-1.3-0.7-4.4 0.1-11 0.3-5 1.6-15.6 0.1-14-0.3-16-1.3-32-0.4-13.4 0-21.6 0.3-15 0.7-8.4 0.6-3.6 0.7-2.2 1-2.1 1-1.7 2-1.9 1.5-1.1 51.8 0 1.7 3.9 2 6.2 11.5 39.9 0.6 1 0.9 0.5 0 135.9-1-0.1-1 0.3-14.6 7.7-2 0.8z"/>
<path fill="#dfff20" d="M270.8 201.4l-2.6 0.3-1.6-0.5-2.8-1-18.6-7.4-14.3-6.6-8.1-4.1-5.1-3.3-1.1-1-1.8-2.9-0.3-0.7-0.7-4 0.1-12 0.3-5 1.7-14.4 0.1-14.6-0.3-16-1.4-32-0.4-13.4 0-21.6 0.3-15 0.3-5 0.5-4 0.3-2 0.9-3 0.9-2 1.4-2 1.4-1.4 2.2-1.6 50.8 0 1.8 4 2.1 6.2 11.5 39.8 0.5 1 1 0.6 0 135.7-1 0-1 0.3-11.2 6-3.4 1.6z"/>
<path fill="#efff10" d="M270.8 201.3l-1 0.2-1.6 0.1-3-0.8-17.4-7-12.6-5.6-11.4-5.7-3.7-2.3-2.7-2-2.3-3.4-0.9-4.6 0-11.4 0.4-5 1.4-11 0.5-4.6 0.1-14.4-0.3-14.6-1.6-33.4-0.4-13.6 0-20.4 0.3-15.6 0.7-8 0.7-3.4 0.8-2.6 1.2-2.4 1.2-1.8 1.4-1.2 2.3-1.6 49.9 0 1.8 4 2.2 6.4 11.3 39.2 0.6 1.4 1.1 0.7 0 135.6-1-0.1-1 0.3-11.4 6.1-3.2 1.5z"/>
<path fill="#ffff00" d="M270.2 201.3l-2 0.2-2.8-0.7-2.7-1-18.5-7.6-13-6-8.4-4.4-4-2.6-1.1-1-1-1.4-1-1.6-0.3-1-0.8-3.4 0.1-12.6 0.5-6.2 1.4-8.8 0.5-5 0.1-14.4-0.1-8.6-0.4-11.4-1.4-26-0.5-13.6-0.1-21.4 0.3-15 0.3-5.6 0.5-4 0.7-3.4 0.8-2.6 1-2 1.5-2 1.5-1.4 2.4-1.6 48.9 0 0.6 1 1 2.3 2.6 7.3 11.4 39.4 0.6 1.2 1 0.5 0 135.5-1-0.1-1 0.3-11.6 6.2-3 1.5z"/>
<path fill="#ffef00" d="M270.2 201.3l-1.4 0.2-3.2-0.7-12.8-5.1-13-5.5-8.6-4.1-7.4-3.8-3.3-2.1-2-1.4-2.2-3-0.9-3.6-0.3-1.4 0.1-13.6 0.6-5 2-11.4 0.4-6-0.1-13.6-0.2-10-2.1-36-0.6-13 0-21 0.4-15 0.3-4.4 0.5-4 0.8-3.6 0.9-2.4 1.1-2 1.1-1.6 1.9-1.6 2.3-1.4 47.8 0 0.9 1.3 0.6 1 2.4 7 11.9 40.7 0.7 1.3 1 0.5 0 135.3-1 0-1 0.2-11.7 6.3-3 1.4z"/>
<path fill="#ffdf00" d="M269.8 201.3l-1 0.1-2.9-0.6-17.7-7-12.4-5.6-13-6.6-3.5-2.4-1.6-2-1-1.4-1-4 0-12 0.1-3 0.6-4.6 2.2-11 0.5-6 0-13.4-0.3-10-2.4-36.6-0.6-13-0.1-21 0.4-15 0.3-4.4 0.5-4 0.7-3 0.9-2.6 1.3-2.4 1.2-1.6 1.7-1.4 2.1-1.2 2.6-0.4 44.6 0 1.2 1.5 0.6 1.1 2.4 7 11.8 40.4 0.8 1.3 1 0.6 0 135.2-1-0.1-1 0.2-11.8 6.4-3.1 1.4z"/>
<path fill="#ffcf00" d="M269.2 201.3l-0.4 0-2.7-0.5-17.9-7.1-12.4-5.6-13-6.6-2.7-1.7-2.7-3.6-1.2-4.4 0-12 0.1-3 0.8-4.6 2.3-11 0.5-3 0.2-3-0.1-13.4-0.3-10-0.7-10.6-2-26-0.7-13-0.1-20 0.4-15.4 0.3-4.6 0.5-4 0.6-3 0.8-2.4 1-2 1.4-2 2-1.9 1-0.7 0.6-0.1 5.8-0.9 41.2 0 1.2 1.6 0.8 1.2 2.2 6.2 3.6 12 8.4 29 0.4 1 0.4 0.4 1 0.5 0 135.1-1-0.1-1 0.2-12 6.5-3 1.4z"/>
<path fill="#ffbf00" d="M270.2 200.9l-1.4 0.3-2.6-0.5-13.4-5.2-13-5.6-8.6-4.1-7.8-4-3-2-2.3-3-0.3-0.6-1-4-0.1-12.4 0.2-3 0.8-4.6 2.7-11.4 0.4-3 0.2-3 0-13.6-0.4-10-0.8-10.4-2.2-25-0.8-13-0.1-18.6 0.3-16.4 0.8-8.6 0.6-3.4 0.8-2.6 0.9-2 1.4-2 2-2 0.7-0.5 0.6-0.1 9.8-1.4 36.4 0 0.8 0.4 2 2.6 2.1 6 3.6 12 8.4 29 0.4 1 0.5 0.5 1 0.5 0 134.8-1 0-1 0.2-11.1 6-3.9 1.9z"/>
<path fill="#ffaf00" d="M270.2 200.8l-1.4 0.3-2.6-0.5-13.4-5.2-13-5.6-8.5-4-7.7-4-2.4-1.6-2.8-3.4-1.2-4.6 0-12.4 0.2-3 0.9-4.6 3-11.4 0.5-3 0.1-3 0-13.6-0.4-10-0.9-10.4-2.4-25-0.9-13-0.1-17 0.3-17 0.7-8.6 0.4-3 0.6-2.5 1-2.5 1.2-2 1.2-1.4 1.6-1.6 8-1.3 7.4-0.7 30.3 0 1.9 0.7 2 2.7 2 5.6 3.2 10.6 9 31 0.7 1 1.1 0.4 0 134.7-1-0.1-1 0.3-11.4 6.1-3.6 1.7z"/>
<path fill="#ff9f00" d="M269.8 200.9l-1 0.1-2.6-0.5-17.4-6.9-13-5.8-12-6-2.2-1.6-2.4-3-0.4-0.4-1-4-0.1-13 0.3-3 0.9-4.6 3.3-11.4 0.5-3 0.2-3-0.1-13.6-0.4-10-1-10.4-2.6-25-0.9-13-0.2-15.6 0.3-17.4 0.6-9 0.5-3 0.6-2.6 0.9-2.4 1.1-2 1.1-1.6 1.4-1.4 8-1.5 9.6-0.8 27.4 0 0.6 0.1 2 0.7 0.8 0.9 1.2 1.9 1 2.2 1 3 3.3 10.9 8.8 30.6 0.7 1 1.2 0.5 0 134.5-1-0.1-1 0.2-11.6 6.3-4 1.8z"/>
<path fill="#ff8f00" d="M269.2 200.9l-1 0-2-0.5-18-7.1-12.4-5.5-11.8-6-1.6-1-2.9-3.6-1.3-4.4 0-13 0.3-3 1-4.6 3.6-11.4 0.5-3 0.2-3 0-13.6-0.5-10-1-10.4-2.8-24.6-1.1-13.4-0.2-6.6 0-12 0.4-17.4 0.4-4.6 0.6-4 0.7-3 0.9-2.4 1.5-2.6 1.5-1.7 3.3-0.7 5.3-1 9-0.9 28 0.1 2.4 1.1 2 3.3 1.6 4.4 12 41 0.6 1 1.4 0.6 0 134.2-1 0-1 0.2-11.6 6.3-4 1.8z"/>
<path fill="#ff8000" d="M269.2 200.8l-1 0-2-0.4-18-7.2-12.4-5.6-11.6-5.8-1.4-1.1-2.5-2.9-0.3-0.6-1.3-4.4 0.1-13 0.3-3 1.1-4.7 3.8-10.9 0.7-3 0.3-3-0.1-14-0.6-10-1-10.4-3.3-25.6-1.1-13-0.2-6.4 0.1-15 0.1-9 0.4-7 0.6-5 0.8-4 1.1-3 1.5-2.6 0.9-0.9 8-1.9 9.6-1.1 26.4 0.1 1.6 0 2.4 1.1 2 3.4 1.6 3.9 11.9 41 0.6 1 0.9 0.6 0.6 0.1 0 134-1 0-1.2 0.3-11.4 6.1-4 1.9z"/>
<path fill="#ff7000" d="M268.8 200.8l-2.6-0.6-17.7-7-8.7-3.7-12.6-6.3-4.4-2.9-1.8-2.1-0.5-1-1.2-4 0-13.4 0.4-3 1.2-4.6 3.3-8 1.2-3.4 0.7-3 0.2-3 0-13.6-0.7-10-1.2-10.4-3.6-25.6-1.3-13-0.2-6.4 0-13.6 0.2-10 0.4-7 0.5-5 0.8-4 1-3 1.6-2.7 0.4-0.3 2.6-0.8 5.4-1.4 9-1.1 7-0.1 21.6 0.1 0.4 0.1 2 1 0.7 0.8 1.5 3 1.8 4.9 11.4 39.1 0.6 1 1 0.7 0.6 0.1 0 133.8-1.6 0-0.9 0.4-11.5 6.2-3.7 1.8z"/>
<path fill="#ff6000" d="M269.8 200.3l-1 0.2-2.3-0.3-8.7-3.3-17.6-7.3-9.9-4.8-2.6-1.6-4.9-3.3-1.7-2.1-1.2-4 0-14 0.3-2.9 1.5-4.7 3.6-8 1.4-3.4 0.7-3 0.3-3-0.1-13.6-0.7-10-1.3-10.4-4.1-25.6-0.9-7-0.5-6-0.3-6.4 0-12.6 0.2-10 0.4-7.4 0.4-4.6 0.7-4 0.9-3 1.4-2.7 2.9-1.3 5.5-1.6 9.6-1.2 26.4 0 2 0.1 2.6 1.5 2 4 2 5.6 10.7 37.2 0.7 1.1 1 0.7 0.6 0 0 133.7-1.6 0-1 0.3-11.4 6.3-4 1.9z"/>
<path fill="#ff5000" d="M268.8 200.3l-1.6 0-1.4-0.4-12.6-4.9-13-5.5-9.6-4.7-7.8-5.3-1-1.3-1.4-4.4 0.1-14 0.4-3 1.6-4.6 3.9-8 1.5-3.4 0.9-3 0.3-3-0.1-13.6-0.8-10-1.5-10.4-4.5-25.6-0.9-7-0.6-6-0.3-6 0-12.4 0.2-10.6 0.4-7.4 0.4-4.6 0.6-3.4 0.9-3 0.9-2.1 4.2-1.9 4.9-1.6 8.9-1.3 26.4 0.1 2 0.1 2.6 1.5 0.7 1.2 1.1 2.4 2.2 5.9 3.5 11.7 7.1 25 0.8 1.3 0.6 0.4 1 0.2 0 133.4-1.6 0-1 0.4-11.4 6.3-4.4 2z"/>
<path fill="#ff4000" d="M267.2 200.3l-8-3-11-4.4-8.3-3.7-7.1-3.4-4.6-2.9-5.4-3.8-0.6-0.9-1.3-4.4 0.2-14 0.4-3 0.6-2 1.1-2.6 4.3-8 1.5-3 1-3 0.4-3 0-14-0.9-10-1.6-10.4-5-26-1.1-7-0.6-6-0.3-6.6 0.1-16 0.3-10 0.6-7 0.8-5 1.1-3 3.3-2 4.7-1.8 9.4-1.8 29 0.1 1.2 0.5 1.8 1.5 2 4.5 2.4 7 9.9 34 1.3 1.4 1 0.3 0 133.1-1.6 0-1 0.3-11.4 6.4-4 1.8-1 0.3z"/>
<path fill="#ff3000" d="M269.8 199.8l-2.6 0.2-1.3-0.2-2.7-1-15-6-8-3.5-4.1-2.1-5.3-3.1-7.2-4.9-0.8-0.9-1.3-4.1 0.1-14.4 0.5-3 0.7-2 1.2-2.6 4.7-8 1.5-3 1.1-3 0.5-3-0.1-14-0.3-5-0.6-5-1.8-10.4-5.4-26-1.1-7-0.7-6-0.3-6.6 0-15.4 0.4-10.6 0.5-7 0.8-4.4 0.6-1.5 2.4-2.1 2.5-1.4 3.1-1.5 4.3-1.1 5.1-0.9 29 0.1 0.6 0.1 0.4 0.3 2 1.7 0.6 0.8 1.2 2.9 2.4 7 9.9 34 0.9 1.2 1.6 0.7 0 132.8-1.6 0-1 0.3-11.9 6.6-3.5 1.6-1 0.3z"/>
<path fill="#ff2000" d="M267.2 199.8l-0.9 0-8.1-3-0.4-0.4-2-0.6-0.6-0.3-2-0.7-0.4-0.3-5.6-2.2-7.9-3.5-8.1-4.7-5.6-3.9-2.8-3.3-0.7-2.1 0.1-15 0.4-2.6 0.9-2.4 1.2-2.6 5.1-8 1.9-3.4 1.1-3 0.4-3-0.1-13.6-0.4-5-0.6-5-1.9-10.4-5.9-26-1.2-7-0.7-6-0.4-6.6 0.1-16 0.3-10.4 0.7-7 0.1-1.3 0.6-1.1 1.1-1.6 1.9-2 2.7-2 2.9-1.6 3.8-1 5-1.1 29 0.2 1 0.2 1.4 1.3 1.2 1.1 0.4 1 2.3 6.3 10.6 36 0.7 1 0.4 0.4 1.6 0.7 0 132.4-1-0.1-1.6 0.3-11.4 6.5-4 1.8z"/>
<path fill="#ff1000" d="M270.2 199.3l-3.4 0.3-2-0.7-12.3-4.7-12.6-5.4-7.7-4.5-4.6-3.1-4.4-5-0.4-0.8-0.2-0.6 0.2-14.6 0.4-3.1 0.6-1.4 1.4-3 1.6-2.5 4.2-6 2-3.4 1.2-3 0.3-1.6 0.1-1.4-0.1-13-0.4-5.6-0.6-4.4-1-5.6-1.5-7-5.8-23.4-1.4-7.8-0.7-4.8-0.5-6.4 0-11 0.2-11.3 0.4-7.6 1.1-3.7 1.3-3 1.7-2.4 1.9-2 2-1.6 1-0.5 4-1.5 5-1.2 27.6 0.2 2.4 0.1 0.6 0.5 2.4 2.9 1.6 3.9 3.6 11.6 7.5 26 0.6 1 0.6 0.6 0.7 0.4 1 0.3 0 131.8-1.6 0-1 0.4-11.4 6.6-3.6 1.4z"/>
<path fill="#ff0000" d="M267.8 199.3l-1-0.1-11-4-8-3.3-8-3.6-7.6-4.3-3.2-2.2-4.9-6-0.2-0.6 1.1-15.4 0.5-2.6 0.7-2 1.2-2.4 5.4-8.4 1.7-3.2 1.4-3.4 0.3-3-0.1-14-0.4-5.6-0.8-5.4-2.5-12.6-6.2-26-1.1-5.4-0.7-5-0.5-5.6-0.2-8.4 0.2-7 0.4-6 0.8-5.6 1-4 1.5-3.4 1.6-2.6 1.8-2 1.5-1 3.3-1.5 5-1.6 15.4-0.1 12.6 0.3 3 0.3 1.3 1.6 1.3 2 0.8 1.6 0.6 1.4 3.7 12 7.2 25 1.1 1.6 1 0.6 1 0.3 0 131.1-1.6 0.1-1.4 0.6-11.4 6.7-5.2 1.8z"/>
<path fill="#ef0000" d="M269.8 198.8l-2.6 0.3-4.4-1.6-11.6-4.4-11-4.9-9.2-5.4-3-3.6-2.3-3 0.7-9 0.8-7.4 0.5-2.6 0.8-2 1.2-2.4 5.1-8.5 1.5-3.1 1.3-3.4 0.3-3-0.1-14.6-0.5-6-0.8-6-1.2-6.4-1.5-7.5-5.9-24.5-1.6-9.6-0.5-5-0.2-7 0.1-6 0.3-6 0.7-5.4 1-4.6 1.1-3.4 1.6-3 1.4-1.8 2.5-1.8 2.8-1.4 3.7-1.5 8-0.1 10 0.2 10.4 0.3 2.6 0.3 0.4 0.2 2.5 4 2.1 4.9 9.7 33.1 0.5 1 0.8 0.8 0.4 0.4 1.6 0.5 0 130.5-1.6 0.1-1.4 0.5-12 7.2z"/>
<path fill="#df0000" d="M268.8 198.8l-1.6 0-9-3.3-9.3-3.7-9.1-4.2-6.6-3.8-2.4-2.5-3.2-4.1 0.1-3.4 0.4-5 1.2-9 0.5-2 0.7-2 1.1-2.6 4.8-8.4 1.7-3.6 1.2-3.4 0.3-3-0.2-15-0.5-6-0.9-7-1.2-7-1.5-7.6-5.7-23.4-1.5-9-0.5-4.6-0.2-6.4 0-5.6 0.3-5 0.6-5 0.8-4.4 0.9-3.6 1.2-3 1.5-2 2.1-2 3-2 3-1.5 8.4-0.1 9 0.3 10.6 0.5 2.4 0.4 1.6 0.4 1.4 2.6 1.1 2.4 2.6 7 2.3 7.3 0.8 2.7 0.2 0.5 0.2 1.1 0.8 2.4 0.2 1 0.8 2.4 3.2 11.2 0.8 1.2 1 0.7 1.6 0.6 0 129.7-1.6 0.1-1.4 0.5-12 7.2z"/>
<path fill="#cf0000" d="M269.2 198.4l-1.4 0.2-8-2.8-10.6-4.2-9-4-4.6-2.8-4.8-4.8-1.4-1.8-0.2-0.4 0.2-4.6 0.6-5 0.8-4.6 1-4.4 1.8-4.4 4.7-8.6 1.9-4 1.3-4 0.4-3.4-0.1-14.6-0.4-6-0.7-6.4-1.3-8-1.5-7.6-1.8-7-3.9-13-1.9-9.4-0.7-5-0.4-5.6-0.1-6 0.3-6 0.4-4.4 0.7-4.6 0.7-3.1 1-2.4 1.7-2.9 2-2.6 2.3-2 2.6-1.6 9-0.2 9 0.4 10 0.9 2.4 0.5 2 0.8 0.6 0.5 1.1 2.7 2.9 8 4.1 13 3.9 13.6 0.5 1 0.9 1.1 1 0.7 1.6 0.5 0 43.5-2 1.4-0.6 0.9-0.4 1.7-0.5 2.6-0.3 7-0.1 16.6 0.1 11.4 0.4 5 0.4 1.8 0.4 1.3 0.6 0.8 2 1.8 0 32.7-1.6 0.1-1.4 0.4-12.7 7.7z"/>
<path fill="#bf0000" d="M268.2 198.3l-0.5-0.1-4.4-1.4-8.5-3.3-7.6-3.1-6.9-3.2-1.7-1-1.8-1.4-4.1-4-1.7-2 0.1-4 0.5-4 0.9-4 1.4-5 0.8-2.6 1-2.4 4.9-9 1.8-4 1.4-4 0.6-4 0-12-0.2-6.6-0.7-8.4-1.1-8.6-1-5.4-1.4-5.6-5.4-17.4-1.9-7-1.3-7-0.5-7 0-5.6 0.3-5.4 0.7-4.6 1.2-4.4 1.5-4 1.7-3 2.4-3 1.5-1.5 0.6-0.3 5-0.3 5.4 0 5 0.3 5.6 0.6 7.4 1.4 2.6 1.1 2.2 1.7 1.2 1.3 1.9 5.1 3.9 12.6 4.2 14.4 0.6 1.1 1 1.2 1 0.7 2 1 0 11.3-0.4 1.7-0.8 3-1 2.6-7.3 16-2.2 6-0.9 3.4-0.5 4-0.3 4.6-0.1 6.4 0.1 22 0.1 3.6 0.4 3 0.8 3 1.2 3 6.6 13 2.6 6 0.9 3 0.4 2.4 0.1 3-0.3 2.6-0.5 2.4-0.5 1-1.4 0.4-13 7.9z"/>
<path fill="#af0000" d="M269.2 99.9l-1 0.2-1 0-4.4-0.5-4-1-3.6-1.3-4-1.8-4-2.4-4-2.8-0.4-1.1-5.6-16.4-2-7-1.5-7.6-0.6-7.4 0-4.6 0.3-4.4 0.5-4 0.9-4 1.1-3.6 1.5-3.4 1.9-3 0.9-1.3 0.6-0.2 3.4-0.5 3.6-0.3 3.4 0 3.6 0.3 3.6 0.4 3.8 0.8 3.6 1 3 1.1 1.4 0.9 1.6 1.2 2.5 3 2.6 4.6 2.9 6.3 0.7 2.7 0.3 0.3 0.1 1.1 0.3 0.6 0.8 3 0.3 0.4 0.6 3 0.3 0.6 1.1 5 0.4 4 0.1 3.4-0.1 3.6-0.5 3.4-0.9 4-1.3 4-1.4 3.6-2 4-2.8 4.8-2.6 3.5-2 2.3zM270.8 197.3l-1.6 0.3-6.4-1.7-6.6-2.2-8.5-3.5-7.5-3.7-3-2.5-3.8-3.8-0.3-0.4 0-0.6 0.3-5 0.6-4 1-4 1.2-3.8 1.6-3.8 1.7-3.4 2.3-3.7 3-0.9 3-0.7 3.4-0.6 3.6-0.2 3 0 3.4 0.3 3.6 0.5 3 0.7 1 0.4 1 0.6 2 1.8 3 3.6 3 4.3 2 3.5 1.7 3.4 1.2 3 1 3 0.6 3 0.2 3 0 3-0.4 3-1.1 4-0.6 0.6-8.9 5.4z"/>
<path fill="#9f0000" d="M269.2 90.3l-1 0.3-2 0-4-0.3-3.4-0.9-4-1.5-4-2.1-4-2.7-4.6-4-0.4-0.5-0.6-1-2.6-7.8-1.9-7-1-6.6-0.4-6.4 0.3-7 1.1-6.6 0.8-3 1.1-3 1.6-3.3 0.6-0.3 2.4-0.7 3-0.5 2.6-0.2 3-0.1 3 0.3 3 0.5 3 0.8 3 1 4.4 2.2 2.6 2.1 1.4 1.9 1.3 1.9 2.6 5 1.4 3.4 1.3 4 1 4 0.7 3.6 0.4 3.4 0.2 3.6-0.1 3.4-0.3 3.6-0.7 3.4-0.9 3.6-1.3 3.4-1.6 3-1.6 2.6-1.8 2.2-2 1.6zM271.2 196.8l-1 0-1.4-0.2-6.6-1.8-6-2.1-6.4-2.6-5-2.3-4.6-2.4-4.5-4.2-0.3-0.4 0-4 0.3-3 0.5-3 0.7-3 1-3 1.9-4.6 0.4-0.7 4.6-2.1 4.4-1.3 4.6-0.6 5-0.1 5 0.7 4.4 1.3 2.6 1.4 1.4 1.3 1.6 1.6 1.5 2.1 1.6 2.4 1.3 2.7 1.2 2.9 0.8 2.9 0.5 2.5 0.3 3-0.1 2.6-0.3 2.4-0.5 2.6-0.8 2.4-1 2.6-0.5 0.4-0.6 0.2-0.2 0.4-4.2 2.4z"/>
<path fill="#8f0000" d="M267.8 83.8l-3.6 0.2-3.4-0.4-4-1.2-3.6-1.6-3.4-2.2-3.5-2.8-2.9-3-2.6-3.5-1.6-5.5-1.1-6-0.4-5.6 0-6 0.7-6 1.4-5.7 0.4-1.4 2.6-1.5 2-0.8 2-0.6 2-0.3 2.4-0.2 4.6 0.4 4.4 1.2 4.6 2 2.2 1.5 1.8 1.3 1.4 1.6 1 1.4 2 3.6 1.3 3.1 1 3 0.8 3 0.7 3.4 0.4 3 0.1 3.6-0.3 6-0.5 3-0.8 3-0.9 2.4-1.2 2.5-1.6 2.2-1.4 1.5-1.6 1zM271.8 195.9l-1 0-1.6-0.2-4.4-1.2-5-1.6-5-1.9-5.6-2.3-5.4-2.6-3.6-1.8-1.7-1.5-0.5-0.6-0.2-0.4-0.1-3.6 0.2-3 0.9-5.4 1-3.3 0.4-0.9 3.4-2.4 3.6-1.7 4-1.1 4-0.5 4.6 0.1 4.4 0.9 4 1.4 1.6 0.8 1.3 1.1 2.4 3 1.2 2 0.9 2 1.3 4.6 0.5 4.4-0.2 4.6-0.4 2-0.8 2.4-1.1 2.6-1.1 2-1.6 2z"/>
<path fill="#800000" d="M266.2 76.3l-3 0.3-3.4-0.3-3.2-1.1-3.4-1.7-3-2.3-3-2.9-2.3-3.1-2-3.4-1.6-4-0.9-3.6-0.2-3 0.1-4 0.9-3.3 1.5-2.7 2.1-2.2 2.4-1.6 3-1 3-0.2 3.6 0.4 3 0.9 3.4 1.7 3 2.3 2.6 2.5 1.4 2.5 1.7 4.3 1.1 5 0.3 5-0.3 5-0.9 4-0.7 2-0.8 1.4-0.8 1.2-1 0.9-1 0.5zM266.2 193.4l-0.4 0.2-1.6-0.3-9.4-3.4-8.5-3.7-4-2-1.3-1-0.4-1.4-0.3-2 0.1-2 0.4-1.9 0.6-1.7 0.8-1.6 1-1.4 1.4-1.4 2.6-2 3-1.4 3-0.8 3.6-0.4 3.4 0.3 3.4 0.7 3.5 1.6 2.1 1.5 1 1.2 1 1.7 1.2 3 0.6 4-0.1 4-0.7 3.6-1.4 3.1-1 1.3-1 0.9z"/>
</g>
<rect x="39" y="7" width="249" height="197.5" fill="none" stroke="#262626" stroke-opacity="0.55" stroke-width="0.8"/>
<path d="M47.5 204.5v3.2M47.5 7v-3.2M87.5 204.5v3.2M87.5 7v-3.2M127.5 204.5v3.2M127.5 7v-3.2M167.5 204.5v3.2M167.5 7v-3.2M207.5 204.5v3.2M207.5 7v-3.2M247.5 204.5v3.2M247.5 7v-3.2M39 204.5h-3.2M288 204.5h3.2M39 155.12h-3.2M288 155.12h3.2M39 105.75h-3.2M288 105.75h3.2M39 56.38h-3.2M288 56.38h3.2M39 7h-3.2M288 7h3.2" stroke="#262626" stroke-width="1.1" fill="none"/>
<g font-size="12.7" fill="#262626"><text x="47.5" y="223.8" text-anchor="middle">2</text><text x="87.5" y="223.8" text-anchor="middle">2.5</text><text x="127.5" y="223.8" text-anchor="middle">3</text><text x="167.5" y="223.8" text-anchor="middle">3.5</text><text x="207.5" y="223.8" text-anchor="middle">4</text><text x="247.5" y="223.8" text-anchor="middle">4.5</text><text x="33.4" y="209.1" text-anchor="end">0</text><text x="33.4" y="159.72" text-anchor="end">20</text><text x="33.4" y="110.35" text-anchor="end">40</text><text x="33.4" y="60.98" text-anchor="end">60</text><text x="33.4" y="11.6" text-anchor="end">80</text></g>
<text x="163.5" y="241.5" font-size="14" fill="#262626" text-anchor="middle">Frequency (THz)</text>
<text transform="translate(14.2 105.75) rotate(-90)" font-size="14" fill="#262626" text-anchor="middle">Incidence Angle (degrees)</text>
<rect x="295.2" y="201.41" width="10.4" height="3.44" fill="#00008f"/><rect x="295.2" y="198.33" width="10.4" height="3.44" fill="#00009f"/><rect x="295.2" y="195.24" width="10.4" height="3.44" fill="#0000af"/><rect x="295.2" y="192.16" width="10.4" height="3.44" fill="#0000bf"/><rect x="295.2" y="189.07" width="10.4" height="3.44" fill="#0000cf"/><rect x="295.2" y="185.98" width="10.4" height="3.44" fill="#0000df"/><rect x="295.2" y="182.9" width="10.4" height="3.44" fill="#0000ef"/><rect x="295.2" y="179.81" width="10.4" height="3.44" fill="#0000ff"/><rect x="295.2" y="176.73" width="10.4" height="3.44" fill="#0010ff"/><rect x="295.2" y="173.64" width="10.4" height="3.44" fill="#0020ff"/><rect x="295.2" y="170.55" width="10.4" height="3.44" fill="#0030ff"/><rect x="295.2" y="167.47" width="10.4" height="3.44" fill="#0040ff"/><rect x="295.2" y="164.38" width="10.4" height="3.44" fill="#0050ff"/><rect x="295.2" y="161.3" width="10.4" height="3.44" fill="#0060ff"/><rect x="295.2" y="158.21" width="10.4" height="3.44" fill="#0070ff"/><rect x="295.2" y="155.12" width="10.4" height="3.44" fill="#0080ff"/><rect x="295.2" y="152.04" width="10.4" height="3.44" fill="#008fff"/><rect x="295.2" y="148.95" width="10.4" height="3.44" fill="#009fff"/><rect x="295.2" y="145.87" width="10.4" height="3.44" fill="#00afff"/><rect x="295.2" y="142.78" width="10.4" height="3.44" fill="#00bfff"/><rect x="295.2" y="139.7" width="10.4" height="3.44" fill="#00cfff"/><rect x="295.2" y="136.61" width="10.4" height="3.44" fill="#00dfff"/><rect x="295.2" y="133.52" width="10.4" height="3.44" fill="#00efff"/><rect x="295.2" y="130.44" width="10.4" height="3.44" fill="#00ffff"/><rect x="295.2" y="127.35" width="10.4" height="3.44" fill="#10ffef"/><rect x="295.2" y="124.27" width="10.4" height="3.44" fill="#20ffdf"/><rect x="295.2" y="121.18" width="10.4" height="3.44" fill="#30ffcf"/><rect x="295.2" y="118.09" width="10.4" height="3.44" fill="#40ffbf"/><rect x="295.2" y="115.01" width="10.4" height="3.44" fill="#50ffaf"/><rect x="295.2" y="111.92" width="10.4" height="3.44" fill="#60ff9f"/><rect x="295.2" y="108.84" width="10.4" height="3.44" fill="#70ff8f"/><rect x="295.2" y="105.75" width="10.4" height="3.44" fill="#80ff80"/><rect x="295.2" y="102.66" width="10.4" height="3.44" fill="#8fff70"/><rect x="295.2" y="99.58" width="10.4" height="3.44" fill="#9fff60"/><rect x="295.2" y="96.49" width="10.4" height="3.44" fill="#afff50"/><rect x="295.2" y="93.41" width="10.4" height="3.44" fill="#bfff40"/><rect x="295.2" y="90.32" width="10.4" height="3.44" fill="#cfff30"/><rect x="295.2" y="87.23" width="10.4" height="3.44" fill="#dfff20"/><rect x="295.2" y="84.15" width="10.4" height="3.44" fill="#efff10"/><rect x="295.2" y="81.06" width="10.4" height="3.44" fill="#ffff00"/><rect x="295.2" y="77.98" width="10.4" height="3.44" fill="#ffef00"/><rect x="295.2" y="74.89" width="10.4" height="3.44" fill="#ffdf00"/><rect x="295.2" y="71.8" width="10.4" height="3.44" fill="#ffcf00"/><rect x="295.2" y="68.72" width="10.4" height="3.44" fill="#ffbf00"/><rect x="295.2" y="65.63" width="10.4" height="3.44" fill="#ffaf00"/><rect x="295.2" y="62.55" width="10.4" height="3.44" fill="#ff9f00"/><rect x="295.2" y="59.46" width="10.4" height="3.44" fill="#ff8f00"/><rect x="295.2" y="56.38" width="10.4" height="3.44" fill="#ff8000"/><rect x="295.2" y="53.29" width="10.4" height="3.44" fill="#ff7000"/><rect x="295.2" y="50.2" width="10.4" height="3.44" fill="#ff6000"/><rect x="295.2" y="47.12" width="10.4" height="3.44" fill="#ff5000"/><rect x="295.2" y="44.03" width="10.4" height="3.44" fill="#ff4000"/><rect x="295.2" y="40.95" width="10.4" height="3.44" fill="#ff3000"/><rect x="295.2" y="37.86" width="10.4" height="3.44" fill="#ff2000"/><rect x="295.2" y="34.77" width="10.4" height="3.44" fill="#ff1000"/><rect x="295.2" y="31.69" width="10.4" height="3.44" fill="#ff0000"/><rect x="295.2" y="28.6" width="10.4" height="3.44" fill="#ef0000"/><rect x="295.2" y="25.52" width="10.4" height="3.44" fill="#df0000"/><rect x="295.2" y="22.43" width="10.4" height="3.44" fill="#cf0000"/><rect x="295.2" y="19.34" width="10.4" height="3.44" fill="#bf0000"/><rect x="295.2" y="16.26" width="10.4" height="3.44" fill="#af0000"/><rect x="295.2" y="13.17" width="10.4" height="3.44" fill="#9f0000"/><rect x="295.2" y="10.09" width="10.4" height="3.44" fill="#8f0000"/><rect x="295.2" y="7" width="10.4" height="3.44" fill="#800000"/>
<rect x="295.2" y="7" width="10.4" height="197.5" fill="none" stroke="#262626" stroke-width="0.9"/>
<path d="M305.6 204.5h2.4M305.6 183.75h2.4M305.6 163.01h2.4M305.6 142.26h2.4M305.6 121.52h2.4M305.6 100.77h2.4M305.6 80.03h2.4M305.6 59.28h2.4M305.6 38.53h2.4M305.6 17.79h2.4" stroke="#262626" stroke-width="1" fill="none"/>
<g font-size="11.5" fill="#262626"><text x="311.6" y="208.7">0</text><text x="311.6" y="187.95">0.1</text><text x="311.6" y="167.21">0.2</text><text x="311.6" y="146.46">0.3</text><text x="311.6" y="125.72">0.4</text><text x="311.6" y="104.97">0.5</text><text x="311.6" y="84.23">0.6</text><text x="311.6" y="63.48">0.7</text><text x="311.6" y="42.73">0.8</text><text x="311.6" y="21.99">0.9</text></g>
<text transform="translate(46.9 193.6) scale(1 1.04)" font-size="22.5" font-weight="bold" fill="#fff">(a)</text>
<clipPath id="cb"><rect x="393.5" y="7" width="249" height="197.5"/></clipPath>
<g clip-path="url(#cb)">
<rect x="393.5" y="7.0" width="249.0" height="197.5" fill="#00008f"/>
<path fill="#00009f" d="M469.2 94.3l-1-0.8-2.4-3.4-5-7.7-4.3-7.6-3.9-8-4-9.6-2.9-8.4-2.6-9.6-0.4-2 0-1.4 2.8-8.6 3.5-8.4 3.4-7 3.8-6.6 33.4 0 0.8 4.6 0.6 5 0.2 5.4 0 6-0.5 6.6-0.7 6-1 6-1.4 6.4-1.6 6.6-1.8 6-2.1 6-2.2 5.4-2.5 5.6-2.6 5-2.7 4.4zM644.2 206.3l-31 0.1-0.4-0.2 0.5-0.4 0-1 0.5-0.6 0-0.4 0.5-0.6 0-0.4 0.5-0.6 0-0.4 0.5-0.6-0.1-0.5-0.4-0.1-0.4-0.4-0.6 0-0.6-0.5-1-0.1-0.3-0.4-0.7 0-0.4-0.5-1-0.1-0.4-0.4-0.6 0-0.6-0.5-1-0.2-0.2-0.3-0.8-0.1-0.3-0.3-2.1-0.7-0.4-0.3-0.6-0.1-0.6-0.5-1-0.1-0.3-0.3-0.7-0.2-0.3-0.4-0.7 0-0.5-0.4-0.9-0.2-0.4-0.4-0.6-0.1-0.4-0.3-0.6-0.1-0.5-0.5-2.1-0.6-0.3-0.4-0.7-0.1-0.3-0.3-0.7-0.1-0.4-0.5-2-0.6-0.4-0.4-0.6-0.1-0.4-0.3-0.6-0.1-0.5-0.5-0.5 0-0.6-0.5-0.4 0-0.7-0.5-1.9-0.6-0.3-0.4-0.7-0.1-0.3-0.3-0.7-0.2-0.4-0.4-0.6-0.1-0.3-0.3-0.7-0.2-0.3-0.4-0.7 0-0.4-0.4-0.6-0.1-0.4-0.5-0.6 0-0.4-0.4-0.6-0.1-0.4-0.5-0.6 0-0.4-0.4-0.6-0.1-0.4-0.5-0.6 0-0.4-0.4-0.6-0.2-0.3-0.4-0.7-0.1-0.3-0.3-0.7-0.2-0.3-0.4-1.7-0.6-0.3-0.4-0.7-0.2-1.4-0.8-0.5-0.4-0.5-0.1-0.6-0.5-0.4 0-0.5-0.4-0.5-0.2-0.4-0.4-0.6-0.1-2-1.4-0.6 0-0.4-0.5-0.6-0.1-1.9-1.3-0.5-0.1-0.5-0.5-0.5-0.1-0.4-0.3-0.6-0.3-1-0.8-0.6-0.1-0.3-0.4-0.7-0.1-0.9-0.9-0.5-0.1-2-1.4-0.6-0.1-1.9-1.4-0.5-0.1-1-0.9-0.6-0.1-1.9-1.3-0.5-0.3-1-0.7-0.6-0.2-1-0.9-0.4-0.1-1-0.9-0.6-0.1-0.9-0.8-0.5-0.2-1-0.8-0.6-0.3-0.9-0.7-1.1-0.7-1-0.9-0.4-0.1-3-2.4-0.6-0.1-1.4-1.4-0.6-0.1-1.4-1.3-0.6-0.3-1.4-1.3-3-2.2-6-5-5.6-5.2-2.6-3-0.5-1-0.4-1.6-0.3-4-0.1-68 0.4-33.4 0.4-10.6 0.8-9 23.9-0.2 88 0 5.4 0.2 25.1 0 0 73.6 0.2 75.4z"/>
<path fill="#0000af" d="M644.2 206.3l-23 0-8 0.1-0.4-0.2 0.5-0.4 0-1 0.5-0.6 0-0.4 0.5-0.6 0-0.4 0.5-0.6 0-0.4 0.5-0.6-0.1-0.6-0.6-0.4-0.8-0.1-0.6-0.4-2-0.6-0.4-0.4-2-0.6-0.6-0.4-2-0.7-0.2-0.2-3.2-1.2-0.6-0.4-2-0.7-0.2-0.3-0.8-0.1-0.4-0.4-2-0.7-0.3-0.2-0.7-0.2-0.4-0.4-3.2-1.2-0.2-0.2-0.8-0.2-0.4-0.4-3-1.2-0.3-0.2-0.7-0.2-0.4-0.4-0.6-0.1-0.4-0.3-0.6-0.2-0.5-0.4-5.1-2.2-1.2-0.8-0.8-0.1-0.3-0.3-0.7-0.2-0.3-0.4-0.7-0.1-0.3-0.3-0.7-0.2-0.3-0.4-0.7-0.1-0.3-0.3-0.7-0.2-0.3-0.4-0.7-0.1-0.3-0.3-0.7-0.3-0.2-0.3-0.8-0.2-5-2.8-0.4-0.1-0.6-0.4-0.4-0.1-0.6-0.4-0.4-0.1-3-1.9-2.6-1.2-2-1.3-0.4-0.1-3-1.9-0.6-0.2-1.8-1.3-0.6-0.2-2-1.3-0.6-0.2-0.9-0.7-0.5-0.2-2-1.4-0.6-0.2-0.9-0.8-0.5-0.1-4.6-3-4.4-3-1-0.9-0.6-0.2-7.4-5.5-6.6-5.1-6-5.1-3.1-3.1-3.1-3.4-1.3-2.6-0.5-4-0.2-25.4 0-47 0.2-22.6 0.5-15.4 0.9-11.6 23.2-0.2 88 0 6.8 0.2 0.1 2 3.6 14.6 8.2 25.4 4.3 9.8 0-0.9-0.5-0.3-0.1-1.3-0.3-0.3-0.1-1.4-0.4-0.6-0.2-1.1-0.3-0.3-0.1-1.3-0.3-0.3-0.3-1.5-0.3-0.5-0.1-1.2-0.4-0.8-0.2-1-0.2-0.4-0.2-1.5-0.3-0.5-0.3-1.4-0.3-0.6-1.9-8-2.9-13-2.5-13.6 6.9 0 3 11 2.3 9.5 0.2 0.5 0.2 1.7 0.1-22.7 7 0-0.1 41.5-3 0 0 0.5 1.1 7.6 0.8 6.4 0.1 4.6-0.3 1.4-0.3 0.6 0 0.4 1.6 3 0.3 52.6 0 37-0.3 20.9-4.5 4.5 0.5-0.4 1.2 0 0.4-0.4 1-0.1 1.4-1.5zM462.8 84.2l-0.2-0.4-0.8-0.9-3.1-5.1-2.5-4.6-2.6-5.4-2-4.6-2.4-6-2-5.8 0-1 1.9-8.2 2.5-8 3.2-7.4 3.4-6.5 3.6-4.9 2-2.2 2-1.8 2-1.3 2-0.9 2-0.4 1.4 0.1 1.6 0.4 1 0.6 2 1.9 1 1.4 1 2 1.3 4 0.7 4.6 0.4 5.4-0.1 6-0.7 6.6-1.2 6.4-1.6 6.6-2 6.4-2.4 5.9-2.5 5.1-2.9 5-3 4zM637.3 57.8l-0.1 0.1z"/>
<path fill="#0000bf" d="M644.2 206.3l-23 0-8 0.1-0.4-0.2 0.5-0.4 0-1 0.5-0.6 0-0.4 0.5-0.6 0-0.4 0.5-0.6 0-0.4 0.5-0.6-0.1-0.7-19.4-8-0.3-0.3-9.7-4.2-0.3-0.2-8.3-3.8-14.4-7.5-12.6-7.1-6.4-3.9-8.6-5.5-8-5.5-5.4-4.1-7-5.5-5.4-4.7-3.1-3-2.3-3-1.2-2-0.4-1.4-0.4-2.6-0.3-26 0-47.4 0.2-22.6 0.5-15.4 0.9-11.6 22.5-0.2 88 0 5.3 0.2 0.1 2.6 3 14 7.4 26.4 3.6 9 4 8.9 7 13.5 0.3 44.2-0.1 37-0.2 19.8-7.1 7.2 0.1 0.1 2.6-0.9 3-0.8 1.4-1.7zM641.8 65.3l-0.6-0.3-1-1.4-1.7-3.8-2.4-7-2.6-8.6-2.5-9.4-2.6-11-1.9-9.6-1.6-9 6.3 0 3.3 12 2.7 11.9 0.3-1.9 0-22 6.8 0-0.1 40.6-3.4 0.1-0.1 0.3 1.3 8.6 0.5 5.4-0.1 3.6-0.2 1zM461.2 68.3l-1 0.2-1 0-1.4-0.5-0.8-0.8-0.8-0.9-1-2.4-0.6-3.1-0.2-3.6 0.2-4 0.6-4 0.9-4 1.2-4 1.7-4 1.8-3.4 2-2.8 2-2.1 2-1.2 1-0.2 1 0 1.4 0.5 1 1 1.1 1.8 0.7 2.4 0.5 3 0.1 3-0.2 3.6-0.6 4-0.9 4-1.1 3.4-1.1 3-1.5 3.2-1.4 2.6-2 2.6-2 1.8z"/>
<path fill="#0000cf" d="M644.2 206.3l-23 0-8 0.1-0.4-0.2 0.5-0.4 0-1 0.5-0.6 0-0.4 0.5-0.6 0-0.4 0.5-0.6 0-0.4 0.5-0.6-0.1-0.7-0.3-0.3-4.7-1.7-11-4.6-15.4-6.9-10.6-5.1-8.4-4.4-13.6-7.5-7.4-4.6-7-4.5-11.6-7.9-6-4.6-6.8-5.6-4.4-4-2.2-2.6-1.9-3-0.7-2-0.4-2-0.3-14.4-0.1-39 0.2-40.6 0.4-17.4 1-12.6 21.8-0.1 88 0 4.9 0.1 0.1 2 3.1 15 7.1 26 3.5 9 4.3 9.4 7.4 14.7 0.3 42.5-0.1 36.4-0.2 19.3-3.4 3.3-7.1 7.4 5.1-2.4 1.4-0.4 2.6-0.5 1.4-1.8zM641.2 63.3l-0.4-0.4-1-1.5-1.7-3.6-2.1-6-2.5-8.6-2.5-9.4-2.5-10.6-2-10-1.4-8 5.8 0 3.6 13 2.7 11.7 0.5 0.3 0.1 2.1 0-27.1 6.5 0-0.1 39.8-3.4 0-0.4 0.2 1.1 8 0.5 5.6-0.1 3.4-0.1 0.6z"/>
<path fill="#0000df" d="M644.2 206.3l-23 0-8 0.1-0.4-0.2 0.5-0.4 0-1 0.5-0.6 0-0.4 0.5-0.6 0-0.4 0.5-0.6 0-0.4 0.5-0.6-0.1-0.8-0.2-0.2-16.8-6.8-16.4-7.4-17-8.6-13.6-7.5-14.4-9-11.6-8-6-4.6-6.1-5.1-3.9-3.4-2.7-3-1-1.6-0.9-2-1-3.4-0.5-20 0-46 0.2-29.6 0.4-17 0.9-12 21.2-0.1 88 0 4.6 0.1 0.1 2 3 15 7.1 26.6 3.4 9 4.1 9 8.1 16.2 0.3 40.8-0.1 36-0.2 18.7-4.4 4.2-6.6 6.9-1.6 2.2 0.2 0.1 0.4-0.1 3-2 3-1.4 2.6-0.7 2-0.1 1.4-1.8zM641.2 61.4l-0.4 0.2-0.6-0.4-1-1.7-1-2.3-2.1-6-2.6-8.4-2.5-9.6-2.5-11-2-10-1.2-7 5.4 0 3.8 13.6 3 12.4 0.3 1.8 0.2-1.2 0-26.6 6.3 0-0.1 38.9-4 0-0.1 0.7 1.4 11.4 0.1 3.6z"/>
<path fill="#0000ef" d="M644.2 206.3l-23 0-8 0.1-0.4-0.2 0.5-0.4 0-1 0.5-0.6 0-0.4 0.5-0.6 0-0.4 0.5-0.6 0-0.4 0.5-0.6-0.1-0.9-0.1-0.1-16.9-6.8-16.4-7.5-16-8-13.6-7.5-13-8-7.4-5-6.6-4.6-7.2-5.6-5.3-4.4-3.8-3.6-2.1-2.4-1.1-2-1.3-4.6-0.6-25.4 0.2-72 0.5-16 0.8-11.6 20.5-0.1 88 0 4.3 0.1 0.1 2 2.9 15 6.9 26.6 3.3 9 4.2 9.4 8.7 17.6 0.3 39-0.1 35.4-0.2 18.2-2.3 2.4-2.4 2-6.7 7.3-4.6 6.1 4-3.1 3.6-2.2 2-0.9 2-0.7 1.4-0.2 2-0.1 1-1.3zM640.8 60.2l-0.6-0.1-0.4-0.6-1.9-3.7-1.9-5.6-2.5-8-2.5-9.4-2-9-2-9.6-1.5-9 5 0 4 14 3.3 14.5 0.3-0.5 0.1-1 0-27 6.1 0-0.1 38-4.4 0-0.1 0.6 0.9 6 0.6 6 0 3z"/>
<path fill="#0000ff" d="M620.2 206.3l-7 0.1-0.4-0.2 0.5-0.4 0-1 0.5-0.6 0-0.4 0.5-0.6 0-0.4 0.5-0.6 0-0.4 0.5-0.6-0.1-1-18-7.3-9-4-10.4-5-9-4.5-8.6-4.5-8-4.6-7.4-4.5-7-4.4-7.6-5.1-10.8-8.1-4.9-4-4.4-4-2.2-2.4-1.4-2-0.8-2-0.6-3-0.6-26 0.2-72 0.4-16 0.9-11.6 19.8-0.1 88 0 4.1 0.1 0 2 2.9 15.3 6.6 26.3 3.5 9.4 3.9 9 9.4 19.4 0.3 37.2-0.1 35-0.2 17.6-2.4 2.5-2.9 2.3-6.8 7.6-8.6 12-1 2-0.3 0.2-1.7 3.2zM640.2 59l-0.4-0.4-1-1.6-1.6-3.8-2.2-6.4-2-7-2.6-10-1.9-8.6-1.5-8-1.3-8 4.7 0 2.1 7 2 7.6 3.3 14.5 0.2 0.5 0.2 2 0.3-0.6 0-31 5.8 0-0.1 36.9-4.4 0-0.2 0.1 0 1.6 0.9 6.4 0.5 5-0.2 3 0 0.4zM633.8 206.3l-12.2-0.1 0.3-2 0.3-0.3 0.2-0.7 0.4-0.4 0-0.6 0.5-0.4 0.1-0.6 0.4-0.2 0.5-0.8 0.1-0.4 3.3-3.6 3.5-3.1 4-2.6 3.6-1.6 1.4-0.3 1.6-0.2 1 0.2 1 0.4 0.4 0.5 0 4.9-0.7 1.8-2 3-2.6 3-3.7 3.3-1.1 0.7z"/>
<path fill="#0010ff" d="M619.8 206.3l-6.6 0.1-0.3-0.2 0.5-0.4 0-1 0.5-0.6 0-0.4 0.5-0.6 0-0.4 0.5-0.6 0-0.4 0.5-0.6-0.2-1-18-7.4-9-4-10.4-4.9-9-4.5-8.6-4.6-8-4.5-9-5.4-13-8.6-10.7-8.1-4.9-4-3.9-3.4-2.2-2.6-1.4-2-0.9-2-0.6-3-0.4-25.4 0.2-75.6 0.5-16 0.7-9 19.2-0.1 88 0 3.9 0.1 0 2.6 0.4 1 1.1 7.5 0.9 3.9 0.1 1.7 4.4 16.9 2.2 9.5 3.4 9.9 0.4 0.6 3.6 8.9 7.6 15.6 1.9 3.9 0.4 0.6 0.1 0.3 0.1 4.7 0.1 61.4-0.2 21.3-2.4 2.5-3.3 2.8-7.3 7.9-8 11.4-3.2 6.1zM640.2 57.9l-0.4-0.1-0.6-0.6-1-1.9-1-2.4-2.2-6.7-2-7-2.4-9.4-2.1-9-1.5-8-1.2-7.6 4.4 0 2.8 9.6 3 12 2.2 10.5 0.4 0.5 0.2 2.2 0.4 0.2 0 2 0.8 5.6 0.6 5.4 0.1 3zM633.2 206.3l-11.3-0.1 0.4-1.4 0.5-1.6 2.2-3.4 3-3.6 3.2-2.8 3.6-2.4 3.4-1.6 1.6-0.4 1.4-0.2 1 0.1 1 0.4 0.6 0.5 0.4 0.7 0 3-0.6 1.7-0.8 1.6-1.7 2.4-2.9 3.3-3.4 3-1.1 0.7z"/>
<path fill="#0020ff" d="M619.2 206.3l-6 0.1-0.3-0.2 0.5-0.4 0-1 0.5-0.6 0-0.4 0.5-0.6 0-0.4 0.5-0.6 0-0.4 0.5-0.6-0.2-1-19-7.8-9-4.1-9.4-4.5-16.6-8.5-8-4.5-10-6-12.4-8.2-5.4-3.8-5.9-4.6-4.8-4-3.3-3-1.8-2-1.9-2.4-0.9-2-0.8-3-0.4-25.6 0.2-73.4 0.4-15.6 0.9-12 18.7-0.1 88 0 3.8 0.1 0.1 2.6 2.5 14.4 6.5 26.6 3.3 9.4 4 9.6 9.2 19 1 1.9 0.2 10.1 0 56-0.2 20.2-2.4 2.5-3.6 3-7 7.8-8.4 12-3.1 5.9zM639.8 56.9l-0.6-0.4-1-1.7-1.6-4-2.1-6.6-2-7-2-8-2-9-1.5-8-1-7 4.1 0 3.4 11.6 3 12.4 2.5 12 1 7.6 0.4 4.4-0.1 3zM633.2 206.3l-10.9-0.1 0.2-1.4 0.6-1.6 1.8-3 2.4-3 3.5-3.2 3.4-2.5 3.6-1.7 1.4-0.4 1.6-0.2 1 0 1 0.3 0.4 0.3 0.7 1 0.2 1.4-0.4 2-1.1 2.6-1.7 2.4-2.2 2.6-2.9 2.7z"/>
<path fill="#0030ff" d="M619.2 206.3l-6 0.1-0.3-0.2 0.5-0.4 0-1 0.5-0.6 0-0.4 0.5-0.6 0-0.4 0.5-0.6 0-0.4 0.5-0.6-0.2-1.1-19-7.8-10-4.5-8.4-4-16.6-8.5-8-4.5-9.4-5.7-12.7-8.3-9.6-7-8.4-7-2.4-2.6-2.5-3-1.1-2.4-0.6-2.6-0.5-25.4 0.2-73.6 0.5-16.4 0.9-11.6 18.2-0.1 88 0 3.7 0.1 0.1 2.6 2.5 14.4 6.4 26.6 3.3 9.4 4 9.6 9.1 19 1.3 2.4 0.1 9 0.1 56.6-0.2 19.9-2.4 2.4-3.7 3.1-7.1 8-8.5 12-3.1 6zM639.8 56l-0.6-0.2-0.4-0.6-2-4.5-2.3-6.9-2-7-2-8-2-9-1.4-8-1-6.6 3.8 0 3.6 12 3 12.6 2.4 12 1.3 10 0 3zM632.8 206.3l-10.2-0.1 0.2-1.4 0.6-1.6 1.7-3 2.9-3.4 3.2-3 3.6-2.3 3-1.4 1.4-0.5 1.6-0.1 1 0.1 1 0.4 0.4 0.5 0.5 0.7 0.1 1.6-0.5 2-1.3 2.4-2.2 3-2 2.3-3 2.6-1.7 1.1z"/>
<path fill="#0040ff" d="M618.8 206.3l-5.6 0.1-0.3-0.2 0.5-0.4 0-1 0.5-0.6 0-0.4 0.5-0.6 0-0.4 0.5-0.6 0-0.4 0.5-0.6-0.2-1.1-10-4-10-4.3-18-8.3-16-8.3-10.4-5.9-7.5-4.5-12.5-8.3-10.5-7.7-7-6-2.9-3-1.8-2.6-1-2-0.7-3-0.6-25.4 0.1-50.6 0.2-23.4 0.5-16 0.9-11.6 17.8-0.1 88 0 3.6 0.1 0.1 2.6 2.5 14.4 6.5 27 3.1 9 4 9.6 9.2 19.2 1.4 2.7 0.2 14.5 0 51.6-0.2 18.6-6.4 5.8-7 7.9-8.2 11.7-3.4 6.4zM639.8 54.9l-0.6 0.2-0.4-0.5-1.6-3.1-2.2-6.3-2-7-2.5-10-2-9-1.4-8-0.8-6 3.5 0 3.2 10.6 3 12 2.5 12.4 1.4 10 0.1 3zM632.8 206.3l-9.9-0.1 0.1-1 0.4-1.4 1.6-3 2.3-3 3.5-3.4 3.4-2.4 3-1.5 1.6-0.5 1.4-0.2 1 0 1 0.3 0.6 0.4 0.5 0.7 0.2 1.6-0.5 2-0.9 2-1.7 2.4-2.2 2.6-2.4 2.3z"/>
<path fill="#0050ff" d="M618.8 206.3l-5.6 0.1-0.3-0.2 0.5-0.4 0-1 0.5-0.6 0-0.4 0.5-0.6 0-0.4 0.5-0.6 0-0.4 0.5-0.6-0.2-1.1-10-4.1-10-4.2-18-8.3-16-8.3-10.4-6-7.4-4.4-12.6-8.4-10.4-7.6-4.2-3.6-2.7-2.4-3.3-3.6-1.3-2-0.9-2-0.7-2.4-0.6-25.6 0.1-50.4 0.2-23.6 0.5-16.4 1-11.6 17.3-0.1 88 0 3.5 0.1 0.1 2.6 2.4 14.4 6.4 26.6 3.2 9.4 4 9.6 9.2 19.4 1.6 3 0.2 11.6 0 53-0.2 19.3-6.4 5.7-7.1 8-8.5 12.1-3.3 6.3zM639.2 54.3l-0.4-0.3-0.6-0.8-1.7-4-2-6-1.9-7-2.2-8.4-1.9-9-1.4-8-0.7-5.6 3.3 0 1.8 5.6 1.9 7 3.2 13 2.3 12.4 0.9 8 0 2.1zM632.2 206.3l-9-0.1 0-0.4 0.6-2.6 1.7-3 2.5-3 3.2-3 3.6-2.3 3-1.4 2.4-0.5 1 0.1 1 0.5 0.6 0.5 0.3 0.7 0.1 1.4-0.6 2-1.3 2.6-1.9 2.4-2.2 2.3-3 2.5z"/>
<path fill="#0060ff" d="M618.2 206.3l-5 0.1-0.3-0.2 0.5-0.4 0-1 0.5-0.6 0-0.4 0.5-0.6 0-0.4 0.5-0.6 0-0.4 0.5-0.6-0.2-1.2-10-4-10-4.2-18-8.4-16-8.3-7.8-4.3-9.9-6-12.7-8.4-5.6-4-4.7-3.6-4.8-4-2.1-2-2.8-3-1.4-2-0.9-2-0.7-2.6-0.7-25.4 0.1-51 0.1-23.6 0.6-16.4 1-11.6 16.9-0.1 88 0 3.4 0.1 0 2 2.5 15 6.4 27 3.3 9.6 4 9.4 8.9 19 1.9 3.5 0.2 13.5 0 51.6-0.2 17.9-0.7 0.5-6.1 5.6-7 8-8.4 12-3.3 6.4zM639.2 53.5l-0.4-0.1-0.6-0.6-1.4-3.3-2.2-6.3-2.1-7.4-2-8-2-9.6-1.4-8-0.6-5 3 0 2 6 2 7 3 12.6 2 10.4 1.1 8.6 0 2.4zM631.8 206.3l-8.3-0.1 0-1 0.4-1.4 1.5-3 1.4-2 2.4-2.6 2.6-2.2 2.4-1.7 2.6-1.2 2-0.7 2-0.1 1.1 0.5 0.8 1 0.2 1.4-0.5 2-1.3 2.6-1.9 2.4-2.4 2.6-3.6 2.8-1 0.6z"/>
<path fill="#0070ff" d="M618.2 206.3l-5 0.1-0.3-0.2 0.5-0.4 0-1 0.5-0.6 0-0.4 0.5-0.6 0-0.4 0.5-0.6 0-0.4 0.5-0.6-0.2-1.2-10-4-9.9-4.2-9.5-4.4-12-5.8-8.6-4.3-8-4.4-7.1-4.1-9.3-5.8-13-8.8-9-7-2.9-2.4-3.5-3.6-1.8-2-1.1-2-1.3-3.4-0.7-26 0-51 0.2-23.6 0.6-16.4 1-11.6 16.5-0.1 88 0 3.3 0.1 0.1 2 2.4 15 6.4 27 3.2 9.6 4 9.4 8.9 19 2.1 4 0.2 13 0 51.6-0.2 17.6-1 0.7-6 5.4-7 8-8.4 12.3-3.3 6.4zM638.8 52.8l-1-1.4-1.8-4.2-2-6.4-1.9-7-2.1-8.6-1.5-7.4-1.1-6.6-0.8-6 2.8 0 2 6 2.5 9 2.6 11 2.1 11 0.6 4.6 0.2 3.4-0.2 2.3zM631.8 206.3l-8-0.1 0-1 0.3-1.4 1.5-3 1.9-2.6 1.9-2 2.4-2 2.4-1.7 2-1 2.6-0.8 1.4-0.2 1.6 0.5 0.4 0.5 0.4 0.7 0 1.6-0.6 2-1.1 2-1.9 2.4-2.2 2.4-3 2.5z"/>
<path fill="#0080ff" d="M617.8 206.3l-4.6 0.1-0.3-0.2 0.5-0.4 0-1 0.5-0.6 0-0.4 0.5-0.6 0-0.4 0.5-0.6 0-0.4 0.6-0.6-0.3-1.3-10-4-9.8-4.1-9.6-4.4-12-5.8-8.5-4.4-8.1-4.4-9.5-5.6-7.3-4.4-12.5-8.6-9.7-7.4-5.7-5.6-1.3-1.4-1.2-2-1-2.6-0.4-1.4-0.7-25.6 0-51.4 0.2-23.6 0.6-16.4 1.1-11.6 16-0.1 88 0 3.2 0.1 0.1 2 2.4 15 6.3 27 3.2 9.6 3.9 9.4 8.9 19 2.4 4.5 0.2 15.5 0 48.6-0.2 17.3-1 0.6-6.1 5.5-7 8-8.6 12.6-3.3 6.4zM638.8 52.1l-0.6-0.3-0.4-0.8-1.6-3.8-2.1-6.4-2.1-7.6-2-8.4-1.5-7.6-1.1-6.4-0.6-5.6 2.5 0 2.2 6.6 2.5 9 2.5 11 2 10.4 0.8 7.6-0.1 1.4zM631.2 206.3l-7.1-0.1-0.1-1 0.3-1.4 0.6-1.6 1.2-2 1.5-2 2.2-2.1 2.4-2.1 2-1.3 2.6-1.3 2-0.5 1.4-0.1 1.3 0.4 0.8 1 0.1 1.6-0.6 2-1.4 2.4-2 2.6-2.2 2.1-3 2.3-1.6 1z"/>
<path fill="#008fff" d="M617.8 206.3l-4.8-0.1 0.5-0.4 0-1 0.5-0.6 0-0.4 0.5-0.6 0-0.4 0.5-0.6 0-0.4 0.5-0.6-0.3-1.3-10-4-10.4-4.5-9-4.1-12-5.7-8.4-4.4-8.2-4.4-9-5.2-7.7-4.8-12.3-8.4-8-6.2-3-2.4-4-4-1.4-1.6-1.5-2.4-1-2.6-0.2-1-0.8-25.4 0-52 0.2-23.6 0.6-16.4 0.5-6 0.6-5.6 15.6-0.1 88 0 3.1 0.1 0.1 2 2.4 15 6.2 27 3.2 9.6 3.9 9.4 9.1 19.5 2.4 4.5 0.2 12.6 0 50-0.2 18-1 0.6-6.4 5.8-7 8-8.2 12-3.6 7zM638.8 51.4l-0.6-0.1-0.4-0.7-1.6-3.4-2.1-6.4-2-7.6-2-8.4-1.6-7.6-1-6.4-0.6-5.6 2.2 0 0.1 0.3 2.2 6.3 2.5 9 2.6 11 1.6 8.4 0.9 7.6 0 2.4zM631.2 206.3l-6.8-0.1-0.2-1 0.3-1.4 0.6-1.6 1.2-2 1.5-2 2-2 2-1.7 2.4-1.7 2-1 2-0.6 1.6-0.2 1.4 0.4 0.6 0.5 0.3 0.9 0 1.4-0.7 2-1.2 2-1.5 2-2.5 2.5-2.4 2z"/>
<path fill="#009fff" d="M617.8 206.3l-4.8-0.1 0.5-0.4 0-1 0.5-0.6 0-0.4 0.5-0.6 0-0.4 0.5-0.6 0-0.4 0.5-0.6-0.3-1.4-10-4-10.4-4.4-9-4.1-12-5.8-8.3-4.3-8.3-4.4-9-5.3-7.6-4.7-12.4-8.4-8-6.2-2.8-2.4-3.6-3.6-1.7-2-1.3-2-1.3-3.4-0.6-14-0.3-12 0.1-52 0.2-23.6 0.6-16.4 0.5-6 0.7-5.6 15.1-0.1 88 0 3.1 0.1 0 2 2.4 15 6.1 27 3.2 9.6 3.9 9.4 9 19.6 2.7 5 0.2 12 0 50-0.2 17.7-1.3 0.7-6.1 5.7-7.3 8.3-8.3 12.2zM638.8 50.5l-0.6 0.2-0.4-0.5-1.6-3.3-2.1-6.7-2.1-7.4-2-8.6-1.5-7.4-1-6.6-0.4-5 1.9 0 0.2 0.7 2.3 6.3 2.5 9 2.4 10.6 1.6 8.4 0.8 6.6 0.1 2.4zM630.8 206.3l-6.1-0.1-0.2-1.4 0.3-1.6 0.7-1.4 1.3-2 1.6-2 1.8-1.9 2.6-1.9 2-1.3 2-0.9 2-0.5 1.4 0 1 0.5 0.6 1 0.1 1.4-0.7 2-1.5 2.6-2.1 2.4-2.4 2.2-2.4 1.8z"/>
<path fill="#00afff" d="M617.2 206.3l-4.2-0.1 0.5-0.4 0-1 0.5-0.6 0-0.4 0.5-0.6 0-0.4 0.5-0.6 0-0.4 0.5-0.6-0.3-1.4-10-4-10.4-4.5-9-4-12-5.8-8.2-4.3-8.3-4.4-7.7-4.6-8.9-5.4-12.5-8.5-7.8-6.1-3.4-3-3-3-1.3-1.4-1.6-2.6-1.2-3-0.6-14-0.3-12 0.1-52.4 0.2-23.6 0.6-16.4 0.5-6 0.7-5.6 14.7-0.1 88 0 3 0.1 0 2 2.4 15 6.1 27 3.1 9.6 3.9 9.4 8.9 19.6 3 5.5 0.2 28.5-0.2 50.4-1.4 0.8-6.3 5.8-7.3 8.4-8.1 12-3.5 7zM638.2 50.2l-0.4-0.5-0.6-0.8-1.6-4.1-2-6.6-2-7.4-1.6-7-1.5-7.6-1-6.4-0.3-4.6 1.6 0 1 2.2 2.2 6.8 2.4 9 2.1 9.6 1.6 9 0.7 6.4-0.1 1zM630.2 206.3l-5.1-0.1-0.4-1 0.2-1.4 0.8-2 1.2-2 1.7-2 1.6-1.7 2-1.6 2-1.4 2-1 2-0.6 1.6 0 1 0.3 0.4 0.4 0.3 0.6 0.1 1.4-0.6 2-1.5 2.6-2.1 2.4-2.2 2.1-3 2.1-1.6 0.8z"/>
<path fill="#00bfff" d="M617.2 206.3l-4.2-0.1 0.5-0.4 0-1 0.5-0.6 0-0.4 0.5-0.6 0-0.4 0.5-0.6 0-0.4 0.5-0.6-0.3-1.4-10-4-10.4-4.5-9-4.1-12-5.8-16.4-8.6-7.8-4.6-8.9-5.4-10.9-7.4-7.5-5.6-4.6-4-3.1-3-1.3-1.6-1.6-2.4-1.1-2.6-0.2-1-0.7-13.4-0.3-12 0.1-52.6 0.2-24 0.7-16.4 0.5-6 0.7-5.6 14.2-0.1 88 0 2.9 0.1 0 2 2.4 15 6 27 3.1 9.6 4 9.9 8.8 19.1 3.2 6 0.2 19 0 43-0.2 16.1-1.5 0.9-6.5 5.8-7 8.2-8.4 12.4zM638.2 49.5l-0.4-0.2-0.6-0.8-1.4-3.6-2.2-6.7-2.1-8-2-9-1.3-7.4-0.7-5.6 0-3 1.1 0 1.2 2.5 2.1 6.5 2.6 9.6 2 9 1.5 8.4 0.6 6-0.1 1.6zM630.2 206.3l-4.8-0.1-0.3-0.4-0.2-1 0.3-1.6 0.6-1.4 1.3-2 1.6-2 2.1-2 2-1.5 2-1.3 2-0.9 1.4-0.4 1.6 0 1 0.4 0.4 0.6 0.2 0.5 0 1.6-0.8 2-1.6 2.4-1.8 2.1-2.4 2.2-2 1.5z"/>
<path fill="#00cfff" d="M616.8 206.3l-3.8-0.1 0.5-0.4 0-1 0.5-0.6 0-0.4 0.5-0.6 0-0.4 0.5-0.6 0-0.4 0.5-0.6-0.2-1.4-15.5-6.4-18-8.1-16.1-8.1-14.9-8.3-13.1-8.1-11.5-8-4.4-3.6-4.5-4-3-3-2-3-1.2-2.4-0.3-1-0.7-13.6-0.3-12 0-53 0.3-24 0.7-16.2 0.5-6.2 0.7-5.6 13.8-0.1 88 0 2.8 0.1 0.1 2 2.2 15 6 27 3.1 9.6 4 10 8.8 19.1 3.4 6.5 0.2 28.8-0.2 48.4-1.9 1.2-6.1 5.4-7.3 8.6-8.1 12.1-3.7 7.3zM638.2 48.8l-0.4 0-0.6-0.7-1.4-3.4-2.2-6.9-2.1-8-1.9-8.6-1.4-8-0.6-5 0-2 0.1-1 0.6 0 0.5 0.7 1.4 3.4 2.2 6.9 2.1 8 1.9 8.6 1.4 8 0.6 5 0 2zM629.8 206.3l-4-0.1-0.6-1 0-1 0.3-1.4 1.1-2 1-1.6 3.2-3.2 2-1.6 2-1.3 2-0.8 1.4-0.4 1.6 0 0.7 0.3 0.7 1 0 1.6-0.7 2-1.6 2.4-1.8 2-2.3 2.2-2.6 1.7z"/>
<path fill="#00dfff" d="M616.8 206.3l-3.8-0.1 0.5-0.4 0-1 0.5-0.6 0-0.4 0.5-0.6 0-0.4 0.5-0.6 0-0.4 0.5-0.6-0.1-1.4-15.6-6.4-18-8.1-16-8.1-15-8.4-13-8-11.5-8-5-4-4.4-4-2.3-2.6-2-3-1.4-3-0.7-14-0.3-12 0-53 0.3-24 0.7-16.4 0.5-6 0.8-5.6 13.3-0.1 88 0 2.7 0.1 0.1 2 2.3 15.6 5.9 26.5 3 9.5 4 10 8.9 19.4 3.5 6.7 0.2 28.3-0.2 48.1-2 1.1-6.4 5.8-7 8.4-8.2 12.2-3.7 7.4zM637.8 48.3l-0.6-0.5-1-2.1-1.5-4.5-2.2-7.4-2-8.6-1.5-7.4-1-6.6-0.3-4.4 0.1-0.6 0.4-0.5 0.6 0.5 1 2.1 1.5 4.5 2.2 7.4 2 8.6 1.5 7.4 1 6.6 0.3 4.4-0.1 0.6zM629.2 206.3l-3-0.1-0.4-0.4-0.3-0.6-0.1-1 0.3-1.4 0.7-1.6 1.4-2 3-3.1 3.4-2.5 2-1 1.6-0.5 1.4 0 1 0.3 0.6 0.5 0.2 0.9-0.1 1.4-0.9 2-1.7 2.6-2.1 2.2-2.4 2-2.6 1.5z"/>
<path fill="#00efff" d="M616.2 206.3l-3.2-0.1 0.5-0.4 0-1 0.5-0.6 0-0.4 0.5-0.6 0-0.4 0.5-0.6 0-0.4 0.5-0.6 0.1-1.4-15.8-6.5-18-8.1-15.9-8-8.1-4.4-7.1-4-13.6-8.6-5.9-4-5.4-4-5.5-4.4-3.8-3.6-2.4-3-1.5-2.4-0.9-2-1-20-0.2-6 0.1-45.6 0.1-24 0.4-15.4 0.7-11.6 1.1-9 12.9-0.1 88 0 2.6 0.1 0.1 2 2.3 15.6 5.9 27 3.1 9.4 3.8 9.6 8.8 19.4 3.8 7.2 0.2 58.8-0.2 16.7-2.2 1.3-6.2 5.8-7.1 8.2-8.3 12.6-3.7 7.4zM637.8 47.8l-0.6-0.4-0.4-0.9-2-5.3-1.8-6-2-8-1.9-9-0.9-6-0.4-4.4 0.2-1 0.2-0.6 0.6 0.4 0.4 0.9 2 5.3 1.8 6 2 8 1.9 9 0.9 6 0.4 4.4-0.2 1zM628.8 206.3l-2-0.1-0.8-0.4-0.4-1 0-1 0.5-1.6 0.8-1.4 1.4-2 2.9-3 3.6-2.4 2-0.8 1.4-0.4 1 0.1 1 0.4 0.6 1.1 0 1-0.2 1-1 2-1.4 2-2 2-2.4 2.1-2.6 1.5z"/>
<path fill="#00ffff" d="M616.2 206.3l-3.2-0.1 0.6-0.4-0.1-1 0.6-0.6-0.1-0.4 0.6-0.6-0.1-0.4 0.6-0.6-0.1-0.4 0.6-0.6-0.1-1 0.2-0.4-15.9-6.5-17.9-8.1-9.1-4.4-9.6-5-12.4-7-13.6-8.6-6-4-5.4-4-5.4-4.4-3.7-3.6-2.4-3-1.4-2.4-0.7-1.6 0-0.4-0.9-13.6-0.4-11 0.1-52 0.1-21.4 0.4-14 0.8-11 1.1-8.6 12.4-0.1 88 0 2.6 0.1 0 2 2.3 15.6 5.9 27 3 9.4 3.8 9.6 8.7 19.4 4.1 7.7 0.2 58.3-0.2 16.4-2.4 1.5-6.2 5.7-7.2 8.4-8.3 12.6-3.6 7.4zM637.8 47.2l-0.6-0.2-0.4-0.8-1.6-3.7-2.1-7.3-2.1-8-1.4-7-1.2-7-0.4-4.4 0.2-2 0.6 0.2 0.4 0.8 1.6 3.7 2.1 7.3 2.1 8 1.4 7 1.2 7 0.4 4.4zM629.8 205.9l-1.6 0.3-1-0.1-1-0.5-0.4-0.8 0-1 0.4-1.6 0.8-1.4 1-1.6 1.3-1.4 1.9-1.9 3.6-2.3 1.4-0.7 1.6-0.4 1-0.1 1.1 0.4 0.5 0.4 0.2 0.6-0.1 1.4-0.8 2-1.3 2-1.7 2-2.5 2.2-2.4 1.6z"/>
<path fill="#10ffef" d="M616.2 206.3l-3.1-0.1 0.5-0.4 0-1 0.5-0.6 0-0.4 0.5-0.6 0-0.4 0.5-0.6 0-0.4 0.5-0.6-0.1-1 0.3-0.5-16-6.5-17.7-8-8.3-4-10.6-5.4-12.3-7-13.6-8.6-6.1-4.1-5.8-4.3-4.8-4-3.3-3-2.4-3-1.7-3-0.5-1-0.3-3.6-0.6-10.4-0.5-11.6 0.1-55.4 0.2-20 0.4-13 0.7-10.6 1.1-8 12-0.1 90.5 0.1 0 2 2.3 15.6 5.8 27 3 9.4 3.8 9.8 8.7 19.2 4.3 8.2 0.2 57.8-0.2 16.2-2.4 1.3-6.6 6-7 8.4-8.3 12.7zM637.8 46.5l-0.6 0.1-0.4-0.7-1.6-3.7-1.7-5.4-1.9-7.6-1.6-7-1.3-7.4-0.5-4.6 0-2.7 0.6-0.1 0.4 0.7 1.6 3.7 1.7 5.4 1.9 7.6 1.6 7 1.3 7.4 0.5 4.6zM629.2 205.9l-1.4 0.1-1-0.2-0.6-0.6-0.2-1 0.1-1 0.5-1.4 0.9-1.6 1.1-1.4 2.6-2.7 2-1.5 1.6-0.9 1.4-0.7 1.6-0.4 1 0 1 0.4 0.4 0.6 0.2 0.6-0.2 1.6-0.9 2-1.4 2-1.9 2-2.2 1.8-2.6 1.5z"/>
<path fill="#20ffdf" d="M615.8 206.3l-2.7-0.1 0.5-0.4 0-1 0.5-0.6 0-0.4 0.5-0.6 0-0.4 0.5-0.6 0-0.4 0.5-0.6-0.1-1 0.3-0.5-15.9-6.5-17.7-8-17-8.4-13.4-7.6-7.6-4.6-6.8-4.4-6.2-4.2-5.7-4.2-4.8-4-3.2-3-2.3-3-1.7-3-0.4-1-0.5-6.6-0.9-18.4 0.1-59.6 0.2-18 0.4-12.4 0.7-9.6 1.1-8 102 0 0.1 2 2.2 15.6 5.7 27 3 9.4 4 10 8.6 19.4 4.4 8.3 0.2 58.9-0.2 14.3-2.4 1.2-6.6 6.1-7 8.4-8.4 12.7-3.7 7.7zM637.2 46.1l-1-1.6-1.4-4-2.2-7.3-1.7-7-1.4-7-1-6-0.3-4.4 0.2-0.6 0.4-0.3 1 1.6 1.4 4 2.2 7.3 1.7 7 1.4 7 1 6 0.3 4.4-0.2 0.6zM628.8 205.8l-1 0-1-0.4-0.5-0.6-0.1-1 0.2-1 0.6-1.6 2.2-3 3-2.8 3-1.8 2.6-0.8 1 0 0.9 0.4 0.5 1 0 1-0.3 1-1 2-1.6 2-2.1 2.1-2.4 1.9-2 1z"/>
<path fill="#30ffcf" d="M615.8 206.3l-2.7-0.1 0.5-0.4 0-1 0.5-0.6 0-0.4 0.5-0.6 0-0.4 0.5-0.6 0-0.4 0.5-0.6-0.1-1 0.3-0.4 0-0.2-15.7-6.4-17.9-8-16.8-8.4-15.1-8.6-12.7-8-6.4-4.3-5.6-4.1-4.2-3.6-3.2-3-2.5-3-2-3.4-1-13-0.5-12.6 0-62.4 0.3-16.6 0.4-12 0.7-9.4 1.1-7.6 101.4 0 0.1 2 2.2 15.6 5.6 27 3.1 9.4 3.8 10 8.7 19.6 4.6 8.6 0.2 58.4-0.2 14-2.8 1.4-6.4 6-7.1 8.6-8.5 13-3.5 7.4zM637.2 45.6l-0.4-0.4-0.6-1-1.4-3.9-1.8-6.1-1.9-7.4-1.5-7-0.9-6-0.3-4 0.4-1.4 0.4 0.4 0.6 1 1.4 3.9 1.8 6.1 1.9 7.4 1.5 7 0.9 6 0.3 4zM630.2 205.3l-1.4 0.3-1 0-1-0.5-0.4-0.9 0-1 0.3-1 0.7-1.4 1.1-1.6 2.7-2.9 3-2.1 1.6-0.7 1.4-0.5 1 0 1.1 0.2 0.5 0.6 0.2 0.4-0.1 1.6-0.6 1.4-1.3 2-1.8 2-2 1.8-2 1.3z"/>
<path fill="#40ffbf" d="M615.2 206.3l-2.1-0.1 0.5-0.4 0-1 0.5-0.6 0-0.4 0.5-0.6 0-0.4 0.5-0.6 0-0.4 0.5-0.6 0-1 0.3-0.4-0.1-0.3-15.6-6.3-18-8-16.7-8.4-7.3-4-7.8-4.6-12.7-8-6.5-4.4-5.5-4-4.2-3.6-3.1-3-2.4-3-1.7-3-0.3-1-0.8-11.4-0.6-13.6 0-61 0.3-17 0.4-12.4 0.7-9.6 1.1-8 101 0 0 2 2.1 15.6 5.7 27 3 9.4 3.8 10 8.6 19.6 4.9 9.1 0.2 57.9-0.2 13.7-3 1.5-6.4 6.1-7.2 8.7-8.2 12.4-2.6 5.5-1.1 2.5zM637.2 45l-0.4-0.2-0.6-0.9-1.4-3.8-1.6-5.3-1.7-6.6-1.4-6.4-1.1-6.6-0.5-4 0.1-1.4 0.2-0.8 0.4 0.2 0.6 0.9 1.4 3.8 1.6 5.3 1.7 6.6 1.4 6.4 1.1 6.6 0.5 4-0.1 1.4zM629.8 205.3l-1 0.2-1-0.1-1-0.6-0.2-0.6 0-1 0.2-1 0.8-1.4 1-1.6 2.6-2.7 3-2.2 1.6-0.7 1.4-0.4 1-0.1 1 0.4 0.6 0.7-0.1 1.6-0.8 2-1.4 2-1.7 1.8-2 1.6-2 1.3z"/>
<path fill="#50ffaf" d="M615.2 206.3l-2.1-0.1 0.5-0.4 0-1 0.5-0.6 0-0.4 0.5-0.6 0-0.4 0.5-0.6 0-0.4 0.5-0.6 0-1 0.3-0.4-0.1-0.3-15.6-6.3-18-8.1-16.6-8.3-14.4-8.1-13.4-8.5-6.6-4.4-5.4-4-4.2-3.6-2.6-2.4-2.4-3-1.8-3-0.3-1-0.7-8.6-0.8-16.4 0.1-59.6 0.2-18.4 0.4-12.6 0.7-10 1.2-8 100.4 0 0 2 2.1 15.6 5.6 27 3 9.4 3.8 10 8.6 19.6 5.1 9.6 0.2 57.4-0.2 13.4-3.1 1.6-6.3 6-7.5 9-8.1 12.4-3 6.2-0.7 1.8zM637.2 44.3l-0.4 0.1-0.6-0.8-1-2.3-1.4-4.7-1.8-6.4-1.5-6.4-1.3-7-0.5-4.6 0.1-2.5 0.4-0.1 0.6 0.8 1 2.3 1.4 4.7 1.8 6.4 1.5 6.4 1.3 7 0.5 4.6zM628.8 205.3l-1-0.1-0.7-0.4-0.3-0.6 0-1 0.2-1 0.7-1.4 1.9-2.6 2.6-2.4 3-1.8 1.6-0.6 1-0.1 1 0.2 0.4 0.3 0.4 1-0.2 1.4-0.9 2-1.6 2-2 2-2.1 1.6-2 1z"/>
<path fill="#60ff9f" d="M615.2 206.3l-2.1-0.1 0.5-0.4 0-1 0.5-0.6 0-0.4 0.5-0.6 0-0.4 0.5-0.6 0-0.4 0.5-0.6 0-1 0.3-0.4-0.1-0.4-15.6-6.3-18-8.1-16.4-8.3-14.6-8.1-13.4-8.5-11.3-7.9-4.8-4-2-2-2.2-2.4-2.2-3.6-0.3-1-0.6-7-1-18 0.1-57.4 0.2-19.6 0.4-13.4 0.8-10.6 1.1-8 99.9 0 0 2 2.1 15.6 5.6 27 2.9 9.4 3.8 10 8.5 19.6 5.4 10.1 0.2 56.9-0.2 13.1-3.4 1.8-6.4 6.1-7.2 8.7-8.2 12.7zM636.8 44l-1-1.7-1.6-4.2-1.6-5.9-1.6-6.4-1.3-6.6-0.7-5-0.2-3 0.2-1 0.2-0.2 1 1.7 1.6 4.2 1.6 5.9 1.6 6.4 1.3 6.6 0.7 5 0.2 3-0.2 1zM630.2 204.8l-1.4 0.3-1-0.2-0.6-0.4-0.3-0.7 0.1-1 0.3-1 1.6-2.6 2.3-2.5 3-2.1 2.6-1 1-0.1 1 0.3 0.4 0.4 0.2 0.6 0 1-0.5 1.4-1.3 2-1.4 1.6-2 1.8-2 1.4z"/>
<path fill="#70ff8f" d="M614.8 206.3l-1.7-0.1 0.5-0.4 0-1 0.5-0.6 0-0.4 0.5-0.6 0-0.4 0.5-0.6 0-0.4 0.6-0.6-0.1-1 0.4-0.4-0.2-0.5-15.6-6.2-18-8.1-16.4-8.3-14.6-8.1-13.4-8.5-6.3-4.3-5.5-4-4.7-4-1.8-2-1.7-2-2.2-3.6-1.2-14-0.6-11.4 0.1-61.6 0.2-18 0.5-12.4 0.7-9.6 1.1-8 99.4 0 0.1 2 2 15.6 5.5 27 2.9 9.4 3.9 10.4 8.6 19.5 5.4 10.3 0.1 61.4-0.1 7.8-3.4 1.7-6.6 6.2-7.1 8.7-8.3 13-3.7 8zM636.8 43.5l-0.6-0.5-0.4-1-1.6-4.1-1.5-5.7-1.5-6-1.1-5.4-0.9-5.6-0.3-3.4 0.3-1.3 0.6 0.5 0.4 1 1.6 4.1 1.5 5.7 1.5 6 1.1 5.4 0.9 5.6 0.3 3.4zM629.8 204.8l-1 0.1-1-0.2-0.6-0.7-0.1-0.8 0.6-2 1.7-2.4 2.6-2.6 2.8-1.7 1.4-0.6 1-0.2 1 0 0.6 0.3 0.4 0.8-0.1 1.4-0.6 1.6-1.4 2-1.9 1.9-2 1.5-2 1.1z"/>
<path fill="#80ff80" d="M614.8 206.3l-1.7-0.1 0.6-0.4-0.1-1 0.6-0.6-0.1-0.4 0.6-0.6-0.1-0.4 0.6-0.6 0-0.4 0.5-0.6-0.1-1 0.4-0.4-0.2-0.6-15.6-6.2-18-8.1-13-6.5-15-8.2-13.8-8.4-6.2-4.2-7.4-5.4-3.7-3-2.5-2.4-2.2-2.6-2.3-3.4-0.1-0.6-1.1-12-0.7-13 0.1-60 0.2-19 0.5-13 0.7-10 1.2-8 98.9 0 0 2 2 15.6 5.4 27 3.1 10 3.8 10 8.5 19.4 5.6 10.7 0.1 57.9-0.1 10.5-3.4 1.7-6.6 6.2-7.4 9-8.3 13-3.6 8zM636.8 43l-0.6-0.4-0.4-0.9-1-2.5-1.6-5-1.6-6.4-1.4-6.6-1-5.9-0.1-2.5 0.1-1.8 0.6 0.4 0.4 0.9 1 2.5 1.6 5 1.6 6.4 1.4 6.6 1 5.9 0.1 2.5zM629.2 204.8l-1-0.1-0.6-0.5-0.2-0.4-0.1-1 0.8-2 1.9-2.6 2.2-2 2.6-1.6 1.4-0.6 1-0.2 1 0.2 0.5 0.2 0.4 1-0.3 1.6-0.7 1.4-1.6 2-1.7 1.8-2 1.4-2 1z"/>
<path fill="#8fff70" d="M614.2 206.3l-1-0.1 0.5-0.4 0-1 0.5-0.6 0-0.4 0.5-0.6 0-0.4 0.5-0.6 0-0.4 0.5-0.6-0.1-1 0.4-0.4-0.2-0.6-15.6-6.3-18-8.1-13-6.4-15-8.2-13.7-8.4-6.3-4.3-7.3-5.3-3.6-3-2.5-2.4-2.1-2.6-2-3-0.3-1-0.9-10.4-0.9-14.6 0.1-57.4 0.2-20 0.4-13.6 0.8-10.4 1.2-8.6 98.4 0 0 2 2 15.6 5.4 27 3 10 3.8 10 8.4 19.4 5.9 11.2 0.1 61.4-0.1 6.2-3.6 1.8-6.8 6.4-7 8.8-8.2 12.8-3.1 6.4-0.8 2zM636.8 42.3l-0.6 0-1-2-1.4-4.5-1.7-6-1.3-6.1-1.1-5.5-0.5-4 0-2.5 0.6 0 1 2 1.4 4.5 1.7 6 1.3 6.1 1.1 5.5 0.5 4zM630.8 204.3l-1 0.2-1 0.1-0.8-0.4-0.4-0.4-0.1-1 0.3-1 1.4-2.6 2.5-2.4 2.5-1.8 1.6-0.7 1-0.3 1 0 0.5 0.2 0.5 0.5 0.1 0.5-0.1 1-0.6 1.6-1 1.4-1.3 1.6-1.7 1.4-2 1.4z"/>
<path fill="#9fff60" d="M614.2 206.3l-1-0.1 0.5-0.4 0-1 0.5-0.6 0-0.4 0.5-0.6 0-0.4 0.5-0.6 0-0.4 0.5-0.6-0.1-1 0.5-0.4-0.3-0.7-15.6-6.2-18-8.1-13-6.5-15-8.2-13.5-8.3-6.5-4.4-7.2-5.2-3.5-3-2.5-2.4-1.7-2-2.1-3-0.3-1-0.8-8.6-1-16.4 0-55 0.2-21.6 0.4-14.4 0.8-11 1.2-8.6 97.9 0 0 2 2 15.6 5.5 27.4 2.8 9.6 3.8 10 8.3 19.4 6.2 11.7 0.1 60.3-0.1 6.5-1.4 0.6-2.6 1.5-6.7 6.4-6.9 8.6-8.3 13-3 6.4-0.8 2zM636.2 41.9l-1-1.9-1-2.8-1.4-5.2-1.6-6.2-1-5-0.7-5-0.2-2.6 0-0.4 0.5-0.7 1 1.9 1 2.8 1.4 5.2 1.6 6.2 1 5 0.7 5 0.2 2.6 0 0.4zM630.2 204.3l-1 0.1-0.8-0.2-0.5-0.4-0.2-0.6 0.1-1 0.3-1 1.7-2.4 2.4-2.4 2.6-1.6 2-0.6 1 0 0.4 0.3 0.5 0.7-0.2 1.6-0.7 1.4-1.1 1.6-1.4 1.4-1.5 1.3-2 1.2z"/>
<path fill="#afff50" d="M614.2 206.3l-1-0.1 0.5-0.4 0-1 0.5-0.6 0-0.4 0.5-0.6 0-0.4 0.5-0.6 0-0.4 0.5-0.6 0-1 0.4-0.4-0.3-0.8-15.6-6.2-17.8-8-13.1-6.6-15.1-8.2-13.4-8.2-6.6-4.4-7.1-5.2-1.8-1.4-4.5-4.6-2-2.4-1.3-2-0.4-3-1-11-0.6-11.6 0-59 0.2-20 0.5-13.4 0.8-10.6 1.2-8 97.3 0 0.1 2 1.9 15.6 5.4 27.4 2.9 9.6 3.7 10 8.3 19.4 3.6 7 2.8 5.3 0.1 59.7-0.1 6.2-1.4 0.6-2.4 1.2-0.6 0.6-6.6 6.3-6.9 8.7-8.2 13zM636.2 41.4l-0.4-0.6-0.6-1-1-2.8-2.6-9.8-1.9-10-0.2-3.4 0.3-1.2 0.4 0.6 0.6 1 1 2.8 2.6 9.8 1.9 10 0.2 3.4zM631.2 203.8l-2 0.4-1-0.3-0.3-0.7 0-1 0.4-1 1.2-2 2.3-2.3 2.4-1.7 1.6-0.6 1-0.2 1 0.1 0.4 0.3 0.3 1-0.1 1-0.5 1-0.9 1.4-1.4 1.6-1.4 1.2-1.4 1z"/>
<path fill="#bfff40" d="M613.8 206.3l-0.6-0.1 0.5-0.4 0-1 0.5-0.6 0-0.4 0.5-0.6 0-0.4 0.5-0.6 0-0.4 0.5-0.6 0-1 0.4-0.4-0.3-0.8-15.5-6.2-17.8-8-13.1-6.6-14.6-8-13.9-8.4-6.7-4.5-7-5.1-1.7-1.4-3.6-3.6-1.3-1.4-2.5-3.6-0.3-1.4-1.1-11-0.8-13 0-57 0.2-21 0.5-14 0.8-11 1.2-8.6 96.9 0 0 2 1.9 15.6 5.4 27.5 2.8 9.5 3.7 10 8.5 19.9 3.4 6.9 3 5.4 0.1 63.8-0.1 1.3-1.4 0.6-2.9 1.5-6.7 6.6-7.1 9-8.2 13-3.1 6.4-0.7 2zM636.2 40.9l-0.4-0.4-0.6-1-1-2.8-2.4-9.2-1.1-4.7-0.9-5.9-0.2-2.7 0.2-1.1 0.4 0.4 0.6 1 1 2.8 2.4 9.2 1.1 4.7 0.9 5.9 0.2 2.7zM630.8 203.9l-1.6 0.2-0.7-0.3-0.4-0.6 0.1-1.4 0.5-1 0.9-1.6 2.2-2.1 2.4-1.8 2-0.7 1 0 0.6 0.2 0.4 0.4 0.1 1-0.5 1.6-1 1.4-1.3 1.6-1.7 1.4-1.6 1z"/>
<path fill="#cfff30" d="M613.8 206.3l-0.6-0.1 0.5-0.4 0-1 0.5-0.6 0-0.4 0.5-0.6 0-0.4 0.5-0.6 0-0.4 0.5-0.6 0-1 0.5-0.4-0.2-0.6-0.2-0.3-15.3-6.1-17.8-8-13.1-6.6-15.4-8.3-13.9-8.7-8.1-5.4-5.4-4.1-5.2-4.9-3.2-4.6-1.4-14-0.7-11.4 0.1-59.6 0.2-20 0.4-13.4 0.9-10.6 1.2-8 96.3 0 0 2 1.9 15.6 5.3 27.4 2.8 9.6 3.8 10.4 8.3 19.6 3.6 7 3.1 5.7 0.1 61.7-0.1 2.7-1.4 0.5-3 1.6-6.9 6.8-7.1 9-8 12.8-3.2 6.6-0.7 2zM636.2 40.1l-0.4 0-1-2.1-1-3.1-1.6-5.5-2-9.6-0.4-3.6 0-2.3 0.4 0 1 2.1 1 3.1 1.6 5.5 2 9.6 0.4 3.6zM630.2 203.8l-1 0.1-0.4-0.2-0.4-0.5-0.1-0.4 0.1-1 0.4-1 1.4-2 2.1-2 2.5-1.6 2-0.5 1 0.3 0.3 0.8-0.1 1-0.6 1.4-1.1 1.6-1.5 1.4-1.6 1.3-1.4 0.8z"/>
<path fill="#dfff20" d="M615.8 201.4l-0.1-1.2 0.5-0.4-0.1-0.6-0.3-0.4-15.2-6-9.1-4-9.7-4.6-15.9-8-8.1-4.4-7-4-12.7-8-5.8-4-5.5-4.2-4.5-4.4-3.1-4-0.3-1-1.1-9.8-1.1-15.2 0-46 0.2-27.4 0.4-16.6 0.8-12.4 0.6-5 0.8-4.6 95.8 0 0 2 1.9 15.6 5.1 27 2.9 10 3.7 10 8.3 19.9 3.6 7.1 3.4 6.2 0.1 18.8-0.1 44.8-1.4 0.5-3 1.6-7.2 7.1-7.1 9-7.8 12.4zM635.8 39.7l-1-2-1-3-2.6-9.9-1-5.3-0.3-2.7 0-2 0.3-0.5 1 2 1 3 2.6 9.9 1 5.3 0.3 2.7 0 2zM631.2 203.4l-1 0.3-1-0.1-0.4-0.3-0.3-0.5 0.2-1.6 1.2-2 1.9-2 2.4-1.6 2-0.7 1 0.1 0.4 0.2 0.3 0.6 0 1-0.4 1-0.9 1.4-1.4 1.5-1.1 1.1-1.3 0.9zM615.2 202.5l0-0.7 0.4 0zM614.8 203.6l-0.1-0.8 0.4 0zM613.8 206.1l-0.1-1.3 0.5-0.6 0-0.4 0.5 0zM613.2 206.3l0.5-0.1z"/>
<path fill="#efff10" d="M616.2 199.9l0-0.7-0.4-0.4-0.6-0.3-9.4-3.7-9.6-4-10-4.5-8.4-4.1-11.8-6-11.7-6.4-6.7-4-7.8-5-11.3-8-1.7-1.4-3.3-3.2-2.2-2.4-1.7-2.6-1-7-0.7-7-0.8-11.4 0.1-50.6 0.1-25 0.5-16 0.8-12 1.3-9 95.3 0 0.1 2 1.7 15.6 5.1 27 0.6 2 2.5 8.4 3.4 9.6 8.4 20 3.5 7 3.7 6.8 0.1 1.2-0.1 61.5-2 0.7-2.4 1.4-7.5 7.4-7 9-7.8 12.4zM635.8 39.3l-0.6-0.7-1-2.6-2.4-9.2-1.6-8-0.2-3 0.2-1.1 0.6 0.7 1 2.6 2.4 9.2 1.6 8 0.2 3zM631.2 203.3l-1.4 0.2-0.8-0.3-0.3-0.4 0.2-1.6 1.2-2 1.9-2 2.2-1.4 1.6-0.6 1-0.1 0.5 0.1 0.4 0.6 0 1-0.3 1-1 1.4-1.2 1.4-1.3 1.2-1.1 0.7zM615.8 201l-0.1-0.8 0.4 0zM615.2 202l0-0.2 0.2 0zM614.8 203.1l-0.1-0.3 0.2 0zM614.2 204.2l0-0.4 0.3 0zM613.8 205.5l-0.1-0.7 0.3 0zM613.2 206.3l0.3-0.1z"/>
<path fill="#ffff00" d="M616.2 199.4l-0.2-0.6-0.8-0.4-7-2.6-9.4-4-16.7-7.6-15.9-7.9-10.9-6.1-7.6-4.4-7.8-5-10.7-7.7-2.4-1.9-2.6-2.4-2.4-2.9-1.6-2.1-1.9-14.6-0.7-11 0-43.4 0.1-29.6 0.4-17.4 0.8-12.6 0.7-5.4 0.8-4.6 94.7 0 0.1 2 1.8 16 4.9 26.6 2.6 9 4.1 11.4 7.9 19 4 8 3.7 6.9 0.1 0.7-0.1 61.2-2 0.7-3 1.7-7 7-7.2 9.4-7.5 12zM635.8 38.7l-0.6-0.4-1-2.5-2-7.1-1-4.5-1-5.8-0.1-2.2 0.1-0.9 0.6 0.4 1 2.5 2 7.1 1 4.5 1 5.8 0.1 2.2zM630.8 203.3l-1 0-0.6-0.2-0.2-0.3-0.2-0.6 0.4-1.4 1.4-2 1.6-1.6 2-1.3 2-0.7 1 0.4 0.3 0.6-0.1 1-0.4 1-1.1 1.6-1.1 1.1-1.6 1.2-1.4 0.8zM615.8 200.5l-0.1-0.3 0.2 0zM613.8 205l0-0.2z"/>
<path fill="#ffef00" d="M616.2 198.7l-6.5-2.5-8.5-3.4-17.9-8-16.1-8-10.9-6-12.3-7.6-5.8-3.7-6.6-4.7-5.7-4.6-2.4-2.4-2.8-3.6-1.8-14.4-0.9-11 0-31 0.1-38.6 0.4-19 0.7-13.8 0.7-5.6 0.9-5.6 94.2 0 0 2 2 16.6 4.8 26.4 2.6 9 3.9 11 8.1 19.6 4 8 3.8 6.9 0 60.9-2 0.7-3 1.6-7.3 7.3-6.9 9-8.1 13zM635.2 37.9l-1-2.4-1-3.2-2-8.3-1-6.6 0-1.1 0.6-0.2 1 2.4 1 3.2 2 8.3 1 6.6 0 1.1zM631.8 202.8l-1.6 0.4-0.4-0.1-0.6-0.3-0.1-0.6 0.1-1 1.1-2 1.9-1.9 2-1.3 1.6-0.5 1 0.1 0.3 0.2 0.2 0.4-0.1 1-1.1 2-1.9 2z"/>
<path fill="#ffdf00" d="M615.8 198.4l-12-4.7-17.1-7.5-16.5-8-13-7-13-8-6-3.9-6-4.3-6-4.6-2.4-2.6-2.4-3-0.8-5-1.2-9.6-0.9-12 0-59 0.3-25 0.4-9.4 0.4-7.6 0.7-6.4 0.9-5.6 48.5 0 0 1.6 0.5 0 0.3 0 0-1.6 44.4 0 0 2 1.7 15.6 4.9 27.4 2.9 10 3.5 10 4.1 10 4.2 10.3 3.6 7.1 3.5 6.6 0.9 1.5 0.1 6.5-0.1 52.9-2.4 0.9-3 1.7-7 7.1-7 9.1-7.9 12.9-0.8 1.4zM635.2 37.4l-0.4-0.8-1-2.8-2-7.7-1.2-6.9-0.1-2 0.3-0.6 0.4 0.8 1 2.8 2 7.7 1.2 6.9 0.1 2zM631.2 202.8l-1 0.2-0.4-0.2-0.5-0.6 0-0.4 0.3-1 0.9-1.6 1.4-1.4 1.9-1.4 1.4-0.7 1 0 0.6 0.1 0.3 0.4 0 1-1.1 2-2.2 2.3-1.2 0.7z"/>
<path fill="#ffcf00" d="M615.8 198.2l-12-4.6-17-7.5-13.2-6.3-15.4-8.2-7-4.1-6.4-4-6.4-4.3-5.6-4-6.5-5-4.3-5-0.2-0.4-0.4-2.6-1.4-11-0.7-6.4-0.3-6 0-59 0.3-25 0.3-9.6 0.5-7.4 0.6-6.6 1-6 41.7 0 0 1.6 2 0.4 4.8 0.6 6.8-0.6 2.9-0.4 0-1.6 34.9 0 0 2 1.7 16 4.7 27 2.8 10 3.5 10 8.1 20 3.7 7.6 3.5 6.5 1.4 2.3 0.1 0.6-0.1 57.3-2.4 0.9-3.3 1.8-7.3 7.5-6.8 9.1-7.9 13zM635.2 36.9l-0.4-0.7-1-2.7-2-7.7-1.1-5.6-0.1-2 0.2-1.1 0.4 0.7 1 2.7 2 7.7 1.1 5.6 0.1 2zM630.8 202.8l-0.6-0.1-0.4-0.2-0.3-0.7 0.5-1.6 1.1-1.4 1.6-1.6 1.5-0.9 1.6-0.5 0.4 0.1 0.6 0.3 0.1 0.6-0.2 1-0.5 1-1 1.2-2 1.8-1.4 0.7z"/>
<path fill="#ffbf00" d="M615.2 197.9l-12-4.7-16.4-7.2-13-6.3-15.6-8.2-10.4-6.3-6.6-4.2-6.1-4.2-8.3-6.4-4.2-4.6-0.2-0.6-0.6-3.9-1.3-9.5-0.7-6.6-0.3-6 0-59.4 0.3-25 0.3-9.6 0.4-7.4 0.7-6.6 0.9-6 35 0 0 1.6 1.9 0.4 11.2 1.4 16.4-1.4 2.8-0.4 0-1.6 25.3 0 0 2 1.6 15.6 4.6 27.4 2.8 10 3.4 10 8 20 3.6 7.6 3.5 6.7 2 3.1 0.1 14.2-0.1 42.2-2.4 0.9-3.6 2-7.1 7.3-6.9 9.1-8 13.1-0.6 1.4zM635.2 36.2l-0.4-0.3-0.6-1.2-2-7-1-4.9-0.4-3.2 0-1.8 0.4 0.3 0.6 1.2 2 7 1 4.9 0.4 3.2zM631.8 202.3l-1 0.2-0.6 0-0.4-0.5 0.1-1.2 0.9-1.6 1.4-1.4 1.6-1.1 1.4-0.6 0.6 0 0.6 0.1 0.3 0.6 0 0.4-0.4 1-0.6 1-1.9 2z"/>
<path fill="#ffaf00" d="M615.2 197.7l-1-0.3-9-3.5-18-7.8-13.4-6.5-15-8-11-6.5-6.7-4.3-6.3-4.5-8-6.1-3.5-4-0.2-0.4-0.9-4.7-1-7.9-0.8-7.4-0.4-6 0-59.6 0.3-25.4 0.7-17 0.6-6.6 0.9-6 28.3 0 0 1.6 1.8 0.4 17.6 2.1 24.6-1.9 0.6-0.2 1-0.4 0-1.6 18.2 0 0 2 1.6 16 4.4 27 2.7 10 3.6 10.6 7.9 20 3.4 7.1 3.6 6.9 2.4 3.7 0.1 4.3-0.1 50.6-3 1.2-3 1.7-7.4 7.7-7 9.2-7.8 13zM634.8 35.4l-0.6-1-1-3.1-1.4-6.1-0.9-5.4 0.1-1 0.2-0.2 0.6 1 1 3.1 1.4 6.1 0.9 5.4-0.1 1zM631.2 202.3l-1-0.1-0.2-0.4-0.1-0.6 0.4-1 0.9-1.3 1.6-1.4 1.4-0.9 1-0.3 0.6 0 0.4 0.2 0.3 0.7-0.1 0.6-0.5 1-0.8 1-1.9 1.6z"/>
<path fill="#ff9f00" d="M614.8 197.4l-4-1.4-6.9-2.8-17-7.4-13.1-6.4-15-7.9-11-6.6-11.6-7.7-9.4-7.3-2.4-2.7-0.7-1-1.3-7.4-0.9-6.6-0.6-6-0.4-6 0-60 0.3-25.4 0.7-17 0.6-6.6 0.8-6 21.8 0 0 1.6 1.5 0.4 24 3 25-2 3.6-1 0.9-0.4 0-1.6 14.8 0 0 2 1.4 15.6 4.5 28 2.7 10 3.4 10 7.8 20 3.5 7.4 3.7 7 2.7 4.3 0.1 13.7-0.1 39.7-3 1.1-3.4 2-7.4 7.8-7.1 9.4-8.2 14zM634.8 34.9l-1-2.2-1.6-5.5-1-5.2-0.1-1.8 0.1-1.1 1 2.2 1.6 5.5 1 5.2 0.1 1.8zM632.2 201.8l-1 0.3-0.4 0-0.5-0.3 0-1 0.8-1.6 1.5-1.4 1.6-1 1-0.3 0.8 0.3 0.2 0.4 0 0.6-0.8 1.4-1.5 1.6z"/>
<path fill="#ff8f00" d="M614.8 197.1l-0.6 0-1-0.3-7.4-2.9-18.6-8.1-13.4-6.5-15-8-10.3-6.1-9.1-6-6.6-4.8-5.9-4.6-2.3-2.6-0.2-0.4-0.9-5-1.5-9-0.6-6-0.4-6 0-60.6 0.3-25.4 0.6-17 0.6-6.6 0.9-6 17.5 0 0 1.6 1 0.4 2.9 0.8 17.7 2.2 7.7 1.5 11.1-1.5 13.9-1.2 7-1.8 0.9-0.4 0-1.6 11.3 0 0 2 1.3 15.6 4.4 28 2.7 10 3.3 10 7.9 20.4 3.3 7 3.6 7 3.3 5.2 0.1 11.4-0.1 40.6-3.4 1.3-3.4 2.1-7.2 7.5-7 9.5zM634.8 34l-0.6-0.4-1.4-4.7-1-4.5-0.6-3.2 0-1.2 0.6 0.4 1.4 4.7 1 4.5 0.6 3.2zM631.8 201.8l-1 0-0.4-0.6 0.3-1 0.6-1 0.9-1 1.6-1 1-0.4 0.4-0.1 0.6 0.2 0.1 0.3 0 0.6-0.7 1.4-1.5 1.6z"/>
<path fill="#ff8000" d="M614.2 196.9l-2-0.7-7.6-3-17.1-7.4-13.3-6.4-13.5-7.2-9.5-5.4-11-7.1-10.4-7.9-3-2.4-1.5-1.6-0.2-0.6-1-5-1.4-9-0.8-6-0.4-6 0-61 0.2-25.4 0.7-17 0.6-6.6 0.8-6 13.3 0 0 1.6 0.9 0.4 3.2 0.9 4 0.9 9.6 1.2 9.4 2 6 1.1 25-3.3 10.4-2.8 0.9-0.4 0-1.6 7.7 0 0.1 2 1.3 16 4.2 27.6 2.6 10 3.3 10 7.8 20.4 3.5 7.6 3.3 6.4 3.9 6.1 0.1 11.9-0.1 38.6-3.4 1.4-3.6 2-7.4 8-7 9.6-8.3 14zM634.2 33.2l-1-2.8-1-3.9-0.6-4.3 0-1 0.2-0.4 1 2.8 1 3.9 0.6 4.3 0 1zM632.2 201.4l-1 0.2-0.5-0.4 0.2-1 0.6-1 1-1 1.3-0.8 1-0.4 0.4 0 0.4 0.2 0.1 0.6-0.1 0.4-0.6 1-1.2 1.3z"/>
<path fill="#ff7000" d="M614.2 196.5l-0.4 0.1-1.1-0.4-6.5-2.4-14-6-13.9-6.6-15.5-8-10.6-6-12-7.8-10.4-7.8-3-2.5-1-1.3-2.6-14.6-0.7-5.4-0.5-6 0-60 0.2-26.6 0.6-15.2 0.4-6.8 1-8 9.1 0 0 1.6 0.9 0.4 2.6 0.8 20 4.4 13.4 2.5 24.6-3.2 3.5-1.5 10.8-3 0.7-0.4 0-1.6 4.2 0 0 2 1.5 16.6 4 27 2.5 10 3.4 10.4 7.8 20.6 3.4 7.4 3.1 6 4.5 7.1 0.1 10.9-0.1 38.1-3.4 1.3-3.7 2.2-7.5 8-7 9.4zM634.2 32.4l-0.2-0.6-0.2-0.2-1-3.4-1-4.9 0-1.7 0.2 0.6 0.2 0.2 1 3.4 1 4.9zM631.8 201.3l-0.6-0.1-0.2-0.4 0.4-1 0.8-1 1-0.9 1-0.5 0.6-0.1 0.4 0.2 0.1 0.7-1 1.6-1.2 1z"/>
<path fill="#ff6000" d="M613.8 196.3l-2.6-0.8-7.4-2.9-16.7-7.4-12.4-6-12.4-6.4-10.4-6-10.1-6.6-8.9-6.4-6.2-5-0.3-0.6-1-5-1.5-9-0.8-6-0.6-6 0.1-62 0.2-25.4 0.7-17 0.5-6.6 0.8-6 4.7 0 0 1.6 0.8 0.4 11.4 3 3.5 1.5 13 2.7 12 2 24.6-2.9 3.1-1.3 4.5-2 10.1-3 0.7-0.4 0-1.6 0.6 0 0 1.6 0.3 2.4 1.3 15.6 3.7 26 2.6 10.4 3.2 10 7.8 21 3.2 7 3 6 0.8 1.6 4.5 6.7 0.1 40.7-0.1 6.4-4 1.6-3.4 2.1-7.6 8.1-7.1 9.8-4.9 8.5zM633.8 31l-1-3.2-0.6-2.3-0.1-1.7 0.1-0.8 1 3.2 0.6 2.3 0.1 1.7zM632.8 200.8l-1 0.2-0.4-0.2 0-0.6 0.6-1 0.8-0.7 1-0.7 0.4-0.2 0.7 0.2 0.1 0.4-0.5 1-0.7 0.9z"/>
<path fill="#ff5000" d="M613.2 196l-10-3.8-16-7.1-13.1-6.3-15.3-8.2-11-6.7-7.6-5-4.3-3.1-7-5.6-2.1-3.3-2.4-12.7-0.7-5.4-0.6-6 0.1-61.6 0.2-25.4 0.6-17.6 0.5-6.4 0.7-5.9 0.5 0.3 0 0.6 0.8 0.4 10.6 3 8.1 3.3 13 2.6 12 1.9 24.6-2.8 6-2.3 5.7-2.7 7.3-2.2 1.1 15.2 3.7 27 2.6 11 3.3 10.6 7.5 20.4 3.2 7.3 2.9 5.7 1.1 2 5 7.7 0.1 40.9-0.1 4.2-4 1.5-4 2.5-7.4 8.2-6.9 9.6-5.1 8.9-3.2 5.1zM632.8 27.2l-0.2-2 0.2-0.2 0.4 1.8zM633.2 29l-0.4-1.8 0.4-0.4 0.2 2zM632.8 200.4l-0.6 0.2-0.4-0.4 0.4-1 0.6-0.5 1-0.6 0.4-0.1 0.4 0.2-0.4 1-0.4 0.6z"/>
<path fill="#ff4000" d="M613.2 195.6l-1-0.1-7-2.7-18-7.9-16.4-8.1-15-8.1-7.2-4.5-6.4-4.1-10-7.3-0.9-1-4.5-7.7-1.7-9.3-0.8-5.6-0.6-6 0.1-62 0.2-25.4 0.6-18 0.8-8.6 0.4-0.9 6.7 1.9 6.3 2.9 6.4 2.3 12.9 2.4 12.1 1.7 25-2.6 7-2.7 4.5-2 3.9-2 3.2-1 0.8 14 3.6 27.6 2.5 10.4 3.2 10.6 7.6 21 3.3 7.4 3.4 6.9 6 9.1 0.1 39.6-0.1 3.5-4.4 1.8-3.6 2.2-1 0.9-7 7.8-6.8 9.8-4.2 7.2zM633.2 199.8l-0.4 0.2-0.4-0.2 0.3-0.6 0.5-0.4 0.6-0.2 0.2 0.2-0.2 0.4z"/>
<path fill="#ff3000" d="M612.8 195.3l-6.6-2.3-9.4-4-18-8.4-16-8.2-7-4-7-4.3-8.9-5.9-5.2-4-2.9-4.3-5-8.7-1.8-10.4-0.7-7 0.1-62 0.2-25.6 0.6-18.4 0.6-6.9 0.1-0.7 0.3-0.5 1.7 0.5 4 2 4.3 1.9 8.6 3.1 11.4 2 13.6 1.9 13-1.2 12.4-1.3 5-1.6 4.6-1.8 4.3-2 4.1-2.1 0.4 0.7 0.8 11.4 3.4 27.6 2.5 11 3.2 10.4 7.4 21 3.1 7 3.5 7 6.7 10.3 0.1 38.3-0.1 2.8-4.4 1.8-4 2.6-7.6 8.2-7.1 10-4.3 7.8z"/>
<path fill="#ff2000" d="M612.2 195l-6-2.2-9.4-4-9.6-4.3-12-5.8-8.4-4.4-10.6-5.8-10.8-6.7-5.8-4-1.8-1.6-5-7.3-2.5-4.1-3.5-6.6-1.3-8-0.6-6 0.2-83.4 0.4-17 0.7-11.9 4.6 2.1 4.1 1.8 4.9 1.7 5 1.5 12.4 2 13 1.6 25-2.2 5-1.5 4.6-1.7 4.4-1.8 4-1.9 0.6 2.5 0.3 7.2 3.4 28 2.3 10.6 2.9 10 7.3 21 3.4 8 1.9 4 1.9 3.4 6 9.2 1 1.2 0.1 37.2-0.1 2.1-2.4 0.9-2.6 1.2-4 2.6-7.4 8.4-7 10-4 7.1-4.1 6.7z"/>
<path fill="#ff1000" d="M612.2 194.6l-1-0.1-4.4-1.7-10-4.3-9.6-4.2-12-5.8-8.4-4.4-10.6-5.8-11.1-7.1-2.9-2-2.6-3-6.8-10-5.2-9.4-0.8-1.8-0.7-4.2-0.6-6 0.2-83.6 0.4-18 0.4-7 0.3-1.5 4 1.7 4.4 1.7 9.6 2.8 12.4 1.8 13 1.5 25-2.1 9.7-2.9 4.3-1.6 4-1.7 0.4 2.9 0.3 4.4 3.1 28 2.3 10.6 3 10.4 7.1 21 3.4 8 1.9 4 1.9 3.6 6.2 9.1 1.4 1.7 0.1 36.2-0.1 1.4-2.4 1-2.6 1.1-4.3 2.9-7.6 8.6-6.9 10-3.6 6.5z"/>
<path fill="#ff0000" d="M611.8 194.3l-0.6 0-0.4-0.4-0.9-0.1-3.7-1.4-8.5-3.6-9.9-4.5-8.5-4.1-8-4-9.1-4.8-6.4-3.6-4.2-2.6-1.8-1.3-0.6-0.1-1-0.9-0.4-0.3-8-8.6-3-4.2-4-6.4-3.3-6.2-2.7-5.9-0.7-6.1 0.1-83.4 0.5-18.6 0.2-4.4 0.3-1.4 8.1 2.8 9.5 2.6 25.4 3.1 25-2 9.9-2.7 8.1-2.9 0.4 5.5 3 27.4 2.2 10.6 3.1 11 7 21 4.7 11 2.5 4.4 6 9 1.1 1.5 1 0.9 0 36-2.4 0.9-2.6 1.2-4.4 2.9-7.6 8.5-7 10.1-3.4 6.3-4.6 7.2z"/>
<path fill="#ef0000" d="M612.2 192.5l-3.4-0.2-3.6-0.7-0.4-0.3-0.6-0.1-0.4-0.3-2-0.7-0.6-0.4-0.5 0-0.5-0.4-2-0.7-0.4-0.4-0.6-0.1-0.4-0.3-0.6-0.1-0.4-0.4-0.9-0.2-0.7-0.4-0.4-0.1-0.6-0.4-0.5-0.1-0.5-0.3-0.5-0.1-1.9-1-0.5 0-0.5-0.5-0.6-0.1-0.4-0.4-0.6 0-1.4-0.9-3.9-1.7-0.7-0.4-0.4 0-1.6-1-0.4-0.1-0.6-0.4-0.4-0.1-0.6-0.4-0.4-0.1-0.6-0.4-0.4-0.1-0.6-0.4-0.4 0-0.6-0.5-0.4-0.1-0.6-0.4-0.4 0-0.6-0.5-0.4-0.1-0.6-0.4-0.4-0.1-0.6-0.4-3.4-1.9-0.6-0.2-0.4-0.4-0.6 0-0.4-0.5-0.6 0-0.4-0.5-0.5 0-2.1-1.4-0.5-0.2-0.5-0.4-0.5 0-0.5-0.5-0.4-0.1-2-1.3-0.6-0.1-8-7-8-8.6-5.2-8-2.9-5-3-6.4-2.3-6.5-0.1-0.5 0.1-73.5 0.4-29.1 0.3-2.4 0.3-0.7 8 2.5 9 2.1 13.4 1.8 12 1.3 24.6-1.9 10-2.5 8.4-2.6 0.3 4.4 2.6 26 2.4 11.6 3 11 6.6 20 4.4 10.4 3 5.6 6 9 1.3 1.4 1.4 1.3 0.1 34.3-3.1 1.2-3 1.5-3.4 2.4-2.8 2.9-5.9 7-6.1 9-2.8 5-4 6.5z"/>
<path fill="#df0000" d="M612.2 190.4l-3.4-0.2-3-0.6-2.6-0.9-5.7-2.5-12.7-5.8-9-4.4-11.1-5.8-8.5-4.7-8.4-7.6-7.6-8.3-4.1-6.4-3.3-6.1-1.1-2.3-2.6-7 0.1-77.6 0.2-17.4 0.4-9.6 15 3.7 10 1.3 9 1.9 6.4 1.1 24.6-3.1 8-2 10-2.9 2.5 28.6 2.1 10.4 2.8 11 6.6 21 3.2 8 1.3 3 2.4 4.6 3.6 5.4 1.4 2.6 0 39-0.5 0-0.4 0.4-4.6 3.5-7.2 8.5-7 10.6-2.2 4-4 6.4z"/>
<path fill="#cf0000" d="M612.8 188.1l-3 0-3.6-0.5-2.6-0.8-5.4-2.4-13-5.9-8.4-4.1-11.6-6.1-9-5-8-7.3-8-9.1-1.3-2.1-4.2-7.6-2.4-5.4-0.5-1.6-0.1-1 0-79.4 0.3-18.6 0.1-4.4 0.1-0.4 7.4 1.8 5.6 2.2 12.1 2.4 12.9 1.8 14.3-1.4 10.3-1.1 4.4-1.7 5-2.2 8-2.3 0.3 1.3 1.9 24.6 1.9 11 2.8 11 6.3 21 3.2 8.4 1.6 3.6 0 55.4-5.6 7-6.4 9.8-1.4 2.8z"/>
<path fill="#bf0000" d="M612.2 185.8l-3.4-0.1-3.6-0.6-2-0.7-8.2-3.6-9.2-4.3-12-6-8-4.2-9.6-5.4-8-7.5-3.7-4.2-4.3-5.4-2.6-4.6-2.9-6.4-0.3-1 0.1-74 0.3-26.6 5.7 2 4.7 1.3 13 1.9 12 1.3 25-2 9-2.8 4-1.6 3.6-1.7 0.4 3.2 1.2 19 1.9 11.4 2.6 11 6 21 1.9 5.6 0 1 0 64-2.6 3.6-10 16-0.4 0.3z"/>
<path fill="#af0000" d="M612.8 183.3l-2.6 0.2-3.4-0.4-2.6-0.7-4-1.6-13-6-9-4.4-11-5.7-11-6.3-5.4-5.1-3-3.1-6.3-8-1.7-2.7-2.2-4.7-0.2-1 0.1-78 0.1-18.6 0.2-0.6 7.4 1.8 12.4 1.4 12.6 1.1 25-1.7 8.6-2 7.4-2.3 0.4 1.9 0.7 15.4 1.7 11 2.5 11.6 5.4 20 0.2 1.4 0 73-0.8 1.6-7.5 11.9-0.6 0.5z"/>
<path fill="#9f0000" d="M610.8 180.8l-3.6-0.1-3-0.6-11.4-5.1-9-4.3-11.6-5.8-7.6-4.1-8.4-4.9-4.1-4.1-4.3-4.7-1.6-1.9-5.5-8.4 0-69 0.2-26 0.3-0.1 4 0.7 6.6 0.8 18.4 1.6 24.6-1.5 6-1.2 10-2.4 0.4 13.1 1.4 11 2.3 11.4 3.4 13.6 0.1 1.4 0 83-0.5 1.6-3.7 5.4z"/>
<path fill="#8f0000" d="M610.2 177.8l-2 0.3-3-0.5-2-0.6-6-2.7-12-5.6-8.4-4.3-7.6-4-10-5.6-3.2-2-3-3-4.8-5.9-2.4-3.7-0.1-0.4 0-80.6 0.1-11.4 0.2-0.6 24.2 1.5 24.6-0.9 7.4-1.1 7.6-1.3 0.2 7.8 1.3 11 3.3 17.6 0 94-0.3 0.4-0.5 0.3z"/>
<path fill="#800000" d="M608.8 174.3l-3 0-2.6-0.7-13-5.9-15.4-7.8-10.6-5.8-8-4.7-4.3-5.2-0.1-0.4 0-89 0.1-0.6 0.3-0.1 19 0.9 23.6-0.9 13.5-1.9 0.5 2.5 0.9 10.1 0 109-0.5 0.4z"/>
</g>
<rect x="393.5" y="7" width="249" height="197.5" fill="none" stroke="#262626" stroke-opacity="0.55" stroke-width="0.8"/>
<path d="M402 204.5v3.2M402 7v-3.2M442 204.5v3.2M442 7v-3.2M482 204.5v3.2M482 7v-3.2M522 204.5v3.2M522 7v-3.2M562 204.5v3.2M562 7v-3.2M602 204.5v3.2M602 7v-3.2M393.5 204.5h-3.2M642.5 204.5h3.2M393.5 155.12h-3.2M642.5 155.12h3.2M393.5 105.75h-3.2M642.5 105.75h3.2M393.5 56.38h-3.2M642.5 56.38h3.2M393.5 7h-3.2M642.5 7h3.2" stroke="#262626" stroke-width="1.1" fill="none"/>
<g font-size="12.7" fill="#262626"><text x="402" y="223.8" text-anchor="middle">2</text><text x="442" y="223.8" text-anchor="middle">2.5</text><text x="482" y="223.8" text-anchor="middle">3</text><text x="522" y="223.8" text-anchor="middle">3.5</text><text x="562" y="223.8" text-anchor="middle">4</text><text x="602" y="223.8" text-anchor="middle">4.5</text><text x="387.9" y="209.1" text-anchor="end">0</text><text x="387.9" y="159.72" text-anchor="end">20</text><text x="387.9" y="110.35" text-anchor="end">40</text><text x="387.9" y="60.98" text-anchor="end">60</text><text x="387.9" y="11.6" text-anchor="end">80</text></g>
<text x="518" y="241.5" font-size="14" fill="#262626" text-anchor="middle">Frequency (THz)</text>
<text transform="translate(368.7 105.75) rotate(-90)" font-size="14" fill="#262626" text-anchor="middle">Incidence Angle (degrees)</text>
<rect x="649.5" y="201.41" width="10.5" height="3.44" fill="#00008f"/><rect x="649.5" y="198.33" width="10.5" height="3.44" fill="#00009f"/><rect x="649.5" y="195.24" width="10.5" height="3.44" fill="#0000af"/><rect x="649.5" y="192.16" width="10.5" height="3.44" fill="#0000bf"/><rect x="649.5" y="189.07" width="10.5" height="3.44" fill="#0000cf"/><rect x="649.5" y="185.98" width="10.5" height="3.44" fill="#0000df"/><rect x="649.5" y="182.9" width="10.5" height="3.44" fill="#0000ef"/><rect x="649.5" y="179.81" width="10.5" height="3.44" fill="#0000ff"/><rect x="649.5" y="176.73" width="10.5" height="3.44" fill="#0010ff"/><rect x="649.5" y="173.64" width="10.5" height="3.44" fill="#0020ff"/><rect x="649.5" y="170.55" width="10.5" height="3.44" fill="#0030ff"/><rect x="649.5" y="167.47" width="10.5" height="3.44" fill="#0040ff"/><rect x="649.5" y="164.38" width="10.5" height="3.44" fill="#0050ff"/><rect x="649.5" y="161.3" width="10.5" height="3.44" fill="#0060ff"/><rect x="649.5" y="158.21" width="10.5" height="3.44" fill="#0070ff"/><rect x="649.5" y="155.12" width="10.5" height="3.44" fill="#0080ff"/><rect x="649.5" y="152.04" width="10.5" height="3.44" fill="#008fff"/><rect x="649.5" y="148.95" width="10.5" height="3.44" fill="#009fff"/><rect x="649.5" y="145.87" width="10.5" height="3.44" fill="#00afff"/><rect x="649.5" y="142.78" width="10.5" height="3.44" fill="#00bfff"/><rect x="649.5" y="139.7" width="10.5" height="3.44" fill="#00cfff"/><rect x="649.5" y="136.61" width="10.5" height="3.44" fill="#00dfff"/><rect x="649.5" y="133.52" width="10.5" height="3.44" fill="#00efff"/><rect x="649.5" y="130.44" width="10.5" height="3.44" fill="#00ffff"/><rect x="649.5" y="127.35" width="10.5" height="3.44" fill="#10ffef"/><rect x="649.5" y="124.27" width="10.5" height="3.44" fill="#20ffdf"/><rect x="649.5" y="121.18" width="10.5" height="3.44" fill="#30ffcf"/><rect x="649.5" y="118.09" width="10.5" height="3.44" fill="#40ffbf"/><rect x="649.5" y="115.01" width="10.5" height="3.44" fill="#50ffaf"/><rect x="649.5" y="111.92" width="10.5" height="3.44" fill="#60ff9f"/><rect x="649.5" y="108.84" width="10.5" height="3.44" fill="#70ff8f"/><rect x="649.5" y="105.75" width="10.5" height="3.44" fill="#80ff80"/><rect x="649.5" y="102.66" width="10.5" height="3.44" fill="#8fff70"/><rect x="649.5" y="99.58" width="10.5" height="3.44" fill="#9fff60"/><rect x="649.5" y="96.49" width="10.5" height="3.44" fill="#afff50"/><rect x="649.5" y="93.41" width="10.5" height="3.44" fill="#bfff40"/><rect x="649.5" y="90.32" width="10.5" height="3.44" fill="#cfff30"/><rect x="649.5" y="87.23" width="10.5" height="3.44" fill="#dfff20"/><rect x="649.5" y="84.15" width="10.5" height="3.44" fill="#efff10"/><rect x="649.5" y="81.06" width="10.5" height="3.44" fill="#ffff00"/><rect x="649.5" y="77.98" width="10.5" height="3.44" fill="#ffef00"/><rect x="649.5" y="74.89" width="10.5" height="3.44" fill="#ffdf00"/><rect x="649.5" y="71.8" width="10.5" height="3.44" fill="#ffcf00"/><rect x="649.5" y="68.72" width="10.5" height="3.44" fill="#ffbf00"/><rect x="649.5" y="65.63" width="10.5" height="3.44" fill="#ffaf00"/><rect x="649.5" y="62.55" width="10.5" height="3.44" fill="#ff9f00"/><rect x="649.5" y="59.46" width="10.5" height="3.44" fill="#ff8f00"/><rect x="649.5" y="56.38" width="10.5" height="3.44" fill="#ff8000"/><rect x="649.5" y="53.29" width="10.5" height="3.44" fill="#ff7000"/><rect x="649.5" y="50.2" width="10.5" height="3.44" fill="#ff6000"/><rect x="649.5" y="47.12" width="10.5" height="3.44" fill="#ff5000"/><rect x="649.5" y="44.03" width="10.5" height="3.44" fill="#ff4000"/><rect x="649.5" y="40.95" width="10.5" height="3.44" fill="#ff3000"/><rect x="649.5" y="37.86" width="10.5" height="3.44" fill="#ff2000"/><rect x="649.5" y="34.77" width="10.5" height="3.44" fill="#ff1000"/><rect x="649.5" y="31.69" width="10.5" height="3.44" fill="#ff0000"/><rect x="649.5" y="28.6" width="10.5" height="3.44" fill="#ef0000"/><rect x="649.5" y="25.52" width="10.5" height="3.44" fill="#df0000"/><rect x="649.5" y="22.43" width="10.5" height="3.44" fill="#cf0000"/><rect x="649.5" y="19.34" width="10.5" height="3.44" fill="#bf0000"/><rect x="649.5" y="16.26" width="10.5" height="3.44" fill="#af0000"/><rect x="649.5" y="13.17" width="10.5" height="3.44" fill="#9f0000"/><rect x="649.5" y="10.09" width="10.5" height="3.44" fill="#8f0000"/><rect x="649.5" y="7" width="10.5" height="3.44" fill="#800000"/>
<rect x="649.5" y="7" width="10.5" height="197.5" fill="none" stroke="#262626" stroke-width="0.9"/>
<path d="M660 204.5h-2.4M660 184.12h-2.4M660 163.74h-2.4M660 143.35h-2.4M660 122.97h-2.4M660 102.59h-2.4M660 82.21h-2.4M660 61.83h-2.4M660 41.45h-2.4M660 21.06h-2.4" stroke="#262626" stroke-width="1" fill="none"/>
<g font-size="11.5" fill="#262626"><text x="663.4" y="208.7">0</text><text x="663.4" y="188.32">0.1</text><text x="663.4" y="167.94">0.2</text><text x="663.4" y="147.55">0.3</text><text x="663.4" y="127.17">0.4</text><text x="663.4" y="106.79">0.5</text><text x="663.4" y="86.41">0.6</text><text x="663.4" y="66.03">0.7</text><text x="663.4" y="45.65">0.8</text><text x="663.4" y="25.26">0.9</text></g>
<text transform="translate(401.5 193.6) scale(1 1.04)" font-size="22.5" font-weight="bold" fill="#fff">(b)</text>
<clipPath id="cc"><rect x="44.3" y="264.5" width="249" height="197.5"/></clipPath>
<g clip-path="url(#cc)">
<rect x="44.3" y="264.5" width="249.0" height="197.5" fill="#00008f"/>
<path fill="#00009f" d="M295.1 463.8l-43.4 0 0-6.6 1-1 0-0.4 1.5-1.6 0-0.4 0.5-0.6-0.6 0-0.4-0.5-0.6 0-0.4-0.5-0.6-0.1-0.3-0.3-0.7-0.2-0.3-0.4-0.7-0.1-0.3-0.3-0.7-0.2-0.3-0.4-2.1-1-0.5-0.4-0.5-0.1-0.6-0.5-0.4 0-0.5-0.4-0.5-0.2-0.4-0.4-0.6-0.1-0.4-0.3-1.6-0.8-2-1.2-0.6-0.1-0.4-0.5-0.6 0-0.4-0.5-0.6-0.1-0.3-0.4-0.7-0.1-0.3-0.3-0.7-0.2-0.3-0.4-2.1-1-0.5-0.4-0.5-0.1-0.5-0.5-0.5-0.1-0.4-0.3-0.6-0.2-0.4-0.4-0.6-0.1-2-1.4-0.6 0-0.4-0.5-0.6-0.1-0.3-0.3-0.7-0.2-0.3-0.4-0.7-0.1-0.3-0.3-1.1-0.6-0.5-0.4-0.5-0.1-0.5-0.5-0.5-0.1-0.4-0.3-0.6-0.2-2-1.4-0.6 0-0.4-0.4-0.6-0.2-2-1.4-0.4 0-0.5-0.4-0.5-0.2-2-1.4-0.6 0-0.4-0.4-0.6-0.2-1.9-1.4-0.5-0.1-0.4-0.3-0.6-0.2-1-0.8-0.6-0.1-0.4-0.5-0.6-0.1-1.9-1.3-0.5-0.2-2-1.4-0.6-0.1-1-0.9-1.4-0.6-1-0.8-0.6-0.2-1.9-1.4-0.5-0.1-1-0.9-0.6-0.1-1.9-1.3-0.5-0.2-1-0.9-0.6-0.1-0.9-0.8-0.5-0.2-1.1-0.8-0.5-0.1-7.1-4.9-0.3-0.2-1-0.9-0.6-0.1-1-0.9-0.4-0.1-1-0.8-0.6-0.3-1.5-1.3-0.5-0.1-0.9-0.9-0.5-0.1-1.6-1.3-0.4-0.2-1-0.8-1-0.6-1-1-0.6-0.1-1.4-1.4-0.6-0.1-1.4-1.4-0.6-0.1-1-0.9-0.4-0.1-2.9-2.9-0.1-0.4-0.9-1-0.1-0.4-1.4-1.6-0.2-0.6-2.3-3-0.1-0.5-3.8-4.5-2.5-4-2.5-5-1.5-3.4-1.1-3-0.9-3.6-0.6-3.4-0.9-12-0.4-31.6-0.4-10.5-0.6-11.5-0.7-7-0.9-7.4-1.5-7.6-1.4-5.4 27.7-0.3 100.4 0 8 0.2 11-0.1 4.6 0.1 16.5 0.1 0.1 124.4z"/>
<path fill="#0000af" d="M295.1 463.8l-43.3 0-0.1-6.6 1-1 0-0.4 1.5-1.6 0-0.4 0.5-0.6-0.6-0.1-0.3-0.3-1.7-0.8-0.2-0.2-0.8-0.3-3.9-2.3-0.5-0.1-0.6-0.4-0.4-0.1-0.6-0.4-1.4-0.7-4-2.3-1.6-0.6-0.4-0.4-0.6-0.1-0.4-0.4-0.6-0.2-4-2.3-0.4-0.1-0.6-0.4-1.4-0.7-4-2.3-1.6-0.7-4-2.3-0.4-0.1-0.4-0.4-0.6-0.2-2-1.3-0.6-0.1-0.4-0.4-0.6-0.1-3-1.9-1.4-0.7-2-1.3-0.6-0.1-3-1.9-0.4-0.2-2-1.2-0.6-0.2-1.9-1.4-0.5-0.1-2-1.4-1.6-0.7-1-0.8-0.4-0.1-1.9-1.3-0.7-0.3-1-0.7-1.4-0.8-1-0.8-0.6-0.2-1-0.8-0.4-0.1-2-1.4-0.6-0.2-1-0.8-0.4-0.2-1-0.7-0.6-0.2-0.9-0.8-2.1-1.2-1-0.9-0.4-0.1-1-0.9-0.6-0.1-1-0.9-0.4-0.2-1-0.8-0.6-0.2-0.8-0.7-2.6-1.7-1-0.9-0.6-0.2-3-2.3-2.4-1.6-5-3.9-2-1.3-2.4-2.1-5.6-8.1-3.3-3.9-1.9-3-3.1-6-1.3-3-1.6-4.6-1-4-0.4-3.4-0.8-11-0.4-33.6-0.9-20.4-0.6-8-0.8-7-1.1-6.6-1.2-5.4 26.4-0.2 100.4-0.1 10.9 0.3 0.1 2 0.4 0.4 0.2 0.7 0.3 0.3 0.1 0.6 0.4 0.4 0.1 0.6 0.4 0.4 0.1 0.6 0.4 0.4 0.6 1.4 0.1-3.8 0.2-1 0.3-0.3 0-2.7 4.4-0.2 4.5 0.2 0 8.4-0.1 1-0.4 0.6 0 8.4-0.1 1-0.3 0.4 0 4.1 9.4 16.8 2.6 3.4 1 1.1 0.5 0.2 1.5 0.3 2.4 0.9 0.2 75.4z"/>
<path fill="#0000bf" d="M295.1 463.8l-43.2 0-0.2-6.6 1-1 0-0.4 1.5-1.6 0-0.4 0.5-0.6-16.6-8.7-18.4-10-11.6-6.5-13.4-8-13.6-8.5-11-7.5-8.4-6-5-3.9-2.6-1.6-1.7-1.7-5.7-8.2-3.8-4.8-1.8-3-2.5-5-1.4-3.6-1.4-4-0.9-4-0.7-5.4-0.5-9.6-0.4-34-0.7-20.4-1.2-14.6-0.8-6-1-5.4 25.1-0.2 100.4 0 8.4 0.2 0.2 2 5.4 12.9 0.6 0.3 0.3-15.2 4.1-0.2 4.2 0.2-0.5 12-0.9 16.4-0.3 1.6 0.1 1.8 4.6 10.2 4.8 7.5 0.6 0.4 4.4 1 4 1.6 0.2 69.5z"/>
<path fill="#0000cf" d="M255.1 463.8l-3.1 0-0.2-3-0.1-3.6 1-1 0-0.4 1.5-1.6 0-0.4 0.5-0.6 0-0.1-23-12.1-22.6-12.5-18.4-11.1-14-9-10-6.9-10-7.4-2.6-1.7-1.1-1.2-1.6-2-4.3-6-4.5-6-3.1-6-2.1-5-1.7-5.4-0.8-5-0.9-13-0.3-33.6-0.5-20.4-0.9-14.6-1.4-11.4 23.8-0.2 100.4 0 7.5 0.2 0 1.4 0.3 1 6.8 17.9 0.1-1.3 0.5-19 3.8-0.2 3.9 0.2-0.7 15.4-1.3 19 0.1 1.7 2.9 6.9 5.5 9 5.6 1.2 2.6 0.9 2.4 1.3 0.2 66.6 0 34.4-0.2 13.5-3.5 3.1-3.5 4-1.4 1-1.6 0.6-2.4 0.2-2-0.4-1.6-0.7-0.9-0.7-1.5-2-0.6 0.3-8 9.4-3.2 4.3-3.5 5.4-3.4 4.6-1.3 1.2-1.2 0.8zM276.6 463.8l-7.5 0-0.2-2 0.4-3 0.5-1.6 0.5-1.4 1.1-2 1.6-2 1-1 1.6-0.8 1-0.2 1 0.2 0.4 0.3 1 0.9 0.7 2 0.1 2-0.1 2-1 3.6-1 2-0.7 1z"/>
<path fill="#0000df" d="M253.1 463.8l-1 0-0.3-3-0.1-3.6 1-1 0-0.4 1.5-1.6 0-0.4 0.5-0.6 0-0.1-27.6-14.7-18-10-11-6.4-9-5.6-16-10.4-10-7.1-9.4-7-2.2-2.7-9.1-12.4-3.1-6.6-2-5-1.4-5-0.8-5.4-0.7-12.6-0.2-34-0.4-21-0.7-13.5-0.9-10.9 22.5-0.2 100.4 0 7.1 0.2 0.2 2 7.3 20.3 0.2-1.3 0.1-2 0.5-19 3.6-0.2 3.7 0.2-0.8 18.4-1.4 17.6 0.1 1.4 2.2 5.6 5.9 10 0.3 0.1 3.6 0.5 2.4 0.7 2.6 1 2.4 1.4 0.2 65.3 0 34.4-0.2 12.7-4 3.4-3.3 3.9-1.1 0.9-1.7 0.7-2.3 0.2-1.6-0.3-1-0.4-1-0.6-1-0.9-1.4-2.2-9 10.5-3.3 4.1-3.5 5.6-3.8 4.9-1 0.9-1 0.6zM276.6 463.8l-7.2 0-0.2-2 0.2-2 0.5-2 0.7-2 1.1-2 1.2-1.6 1.1-1 1.6-0.8 1-0.1 1 0.2 0.4 0.3 0.8 1 0.6 1.4 0.2 2-0.2 2-0.6 2.6-1.1 2.4-1 1.6z"/>
<path fill="#0000ef" d="M254.1 462.9l-2 0.3-0.3-2.4-0.1-3.6 1-1 0-0.4 1.5-1.6 0-0.4 0.5-0.6 0-0.2-27.6-14.6-20.4-11.5-17.6-10.5-14.4-9.5-10-7-11-8.1-2.2-2.6-8.7-12-1.5-3-1.8-4-2.1-5.4-1.3-5.6-0.8-6-0.6-11-0.3-52-0.3-15.4-0.5-12 21.1-0.2 100.4 0 6.7 0.2 0.2 2 6.6 19.4 1.5 4.2 0.2-15.2 0.3-10.4 3.5-0.2 3.5 0.2-0.8 18-1.7 20.8 1.9 4.6 5.9 10.6 0.2 0.1 4 0.5 2.6 0.7 2.7 1.1 2.7 1.7 0.2 63.9 0 34.4-0.2 11.8-4.4 3.8-3.3 4-1.3 0.8-1.4 0.6-1 0.1-1.6 0-2-0.8-1.6-1.3-1.4-2.1-0.4-0.5-5 5.6-7.7 9.6-3.5 5.4-3.4 4.6-1.4 1.3zM276.1 463.8l-6.3 0-0.2-2.6 0.2-2 0.6-2 1.4-3 1.1-1.4 1.2-1.3 1-0.6 1.6-0.3 1 0.3 0.4 0.4 0.7 0.9 0.5 1.6 0.1 2-0.3 2.4-0.6 2-1.6 3-0.4 0.6z"/>
<path fill="#0000ff" d="M253.6 462.4l-1.6 0.2-0.2-1.8-0.2-3.6 1-1 0-0.4 1.5-1.6 0-0.4 0.5-0.6 0-0.2-26.6-14.1-21.4-12.1-15-8.9-17-11-10-7-10.6-7.7-1-1-1.5-2-8.7-12-1.5-3-2.2-5-1.9-6-1.1-5.4-0.7-7.6-0.4-9.4-0.2-78 19.8-0.2 100.4 0 6.3 0.2 0.1 1.4 0.2 0.8 6.1 19.2 2.3 6.5 0.3-2.9 0-12 0.4-13 3.3-0.2 3.4 0.2-1.1 22-1.7 18.3 1.1 3.1 6.3 11.6 0.6 0.3 3.4 0.2 3 0.8 3 1.3 3 2.1 0.2 62.3 0 34.4-0.2 10.9-5 4.3-3.2 3.8-1.2 0.9-1 0.4-1 0.2-1.6-0.1-2-0.8-1.4-1.5-1.6-2.5-0.4-0.1-5 5.6-5.4 6.5-3.1 4-3.2 5-3.8 5-1.1 0.9zM276.1 463.8l-6 0-0.3-2.6 0.1-1.4 0.5-2 0.5-1.6 1.1-2 1.1-1.4 1-1 1.6-0.7 1-0.1 1 0.3 0.8 0.9 0.6 1.6 0.1 2-0.3 2.4-0.6 2-1 2z"/>
<path fill="#0010ff" d="M253.1 462l-1 0.1-0.2-1.9-0.1-3 1-1 0-0.4 1.5-1.6 0-0.4 0.4-0.6 0-0.3-26.6-14.1-20.4-11.4-16-9.6-17-11-10-7-11-8-1.7-2-9.3-13-1.4-3-1.9-4.6-2-6.4-1-5.6-0.6-7-0.4-9.4 0-35.6 0.4-32.4 0.4-10 18.5-0.2 100.4 0 6 0.2 0 1.7 0.6 1.8 5.4 18 3 8.7 0.5 0.2 0.1 1.2 0-1.2-0.2-0.4 0-13 0.4-17 3.2-0.2 3.3 0.2-0.6 12.4-0.8 12.6-0.7 8-1.2 8.8 1 2.6 6 11.2 0.6 0.6 2.4 0.1 2.6 0.3 2 0.6 2.4 1.1 1.6 0.8 2.4 2.1 0.2 60.8 0 34.4-0.2 10.2-5 4.4-2.1 2.4-1.9 2-1.4 0.8-1 0.2-1.6-0.1-1.4-0.6-1.9-1.7-1.7-3.2-0.4 0.3-4 4.3-7.6 9-3 4-0.1 0.6-2.3 3.4-0.2 0.6-3.5 4.4-0.9 0.9zM275.6 463.8l-5.4 0-0.3-1.6 0-1.4 0.3-2 0.4-1.6 1.5-3 0.9-1.2 1-0.9 1.6-0.8 1 0 1 0.4 0.8 1.1 0.5 1.4 0 2-0.3 2-0.8 2.6-1.5 2.4-0.4 0.6z"/>
<path fill="#0020ff" d="M252.6 461.8l-0.6 0.1-0.1-0.7-0.2-4 1-1 0-0.4 1.5-1.6 0-0.4 0.5-0.6-0.1-0.3-25.6-13.6-21.4-12-17.6-10.5-15.4-10.1-9.4-6.5-11.5-8.4-1.8-2-9.2-13-1.4-3-2-5-1.9-6.6-0.9-6-0.7-8-0.2-8 0.1-42 0.3-19 0.6-16.4 18-0.2 100.4 0 5.8 0.2 0.2 2.3 5.9 19.7 3.7 10.7 0.1-1.3-0.1-18 0.3-13.4 3.1-0.2 3.2 0.2-0.5 11-0.9 14-1 9.4-1.1 7.6 0.7 2 6.6 12.6 0.6 0.2 2-0.1 2 0.2 3.4 1 3.1 1.5 2.9 2.5 0.2 60.1 0 34.4-0.2 9.8-5.4 4.9-3.6 4.1-2 0.9-1 0.1-1-0.1-1-0.4-1-0.6-0.9-1.1-2.1-3.6-0.4 0.4-1.7 1.6-3.9 4.6-6.4 7.8-2.1 2.6-3.8 6-3.1 4-1.6 1.2zM275.6 463.8l-5.2 0-0.3-1.6 0-2 0.7-3 0.9-2 0.9-1.3 1-1.1 1-0.8 1-0.4 1-0.1 1 0.5 0.8 1.2 0.3 1.6 0.1 1.4-0.3 2-0.7 2-1 2-0.8 1.1z"/>
<path fill="#0030ff" d="M253.6 461.4l-1.6 0.3-0.2-1.5-0.1-3 1-1 0-0.4 1.5-1.6 0-0.4 0.5-0.6-0.1-0.3-27.6-14.7-19.4-10.9-17.6-10.5-15.4-10-8.6-6-12-8.8-2-2.2-8.6-12-1.5-3-1.8-4.6-1.1-3-1.1-4-1.1-6.4-0.8-9.6-0.2-7.4 0.2-44 0.4-18.6 0.6-14.4 17.6-0.2 100.4 0 5.7 0.2 0.1 2 4.8 16.2 5 15.5 0.2-0.3 0.1-1.4-0.2-15 0.4-17 2.9-0.2 3 0.2-0.6 15-0.9 12-1 8.4-1.2 6.6 0.7 2 6.7 13 0.3 0.2 2.6 0 2 0.2 3.4 1 3 1.6 1.6 1.1 1.4 1.5 0.2 59.4-0.2 44-5.6 5-3.4 3.9-1 0.6-1 0.4-1 0.1-1-0.2-1-0.3-1-0.7-0.7-0.8-2.3-3.9-2.3 2.3-9.1 10.8-3.3 4.2-3.3 5.2-3.4 4.6-1 0.9zM271.1 297.8l-0.1-0.8 0 1zM275.1 463.8l-4.4 0-0.4-2 0.1-2 0.4-2 0.6-1.6 1.6-2.4 1.7-1.6 1-0.4 1 0 1 0.6 0.8 1.4 0.2 1.4-0.1 2-0.6 2.6-0.7 1.4-1.3 2-0.4 0.6z"/>
<path fill="#0040ff" d="M253.1 461.4l-1 0.1-0.3-4.3 1-1 0-0.4 1.5-1.6 0-0.4 0.5-0.6-0.1-0.4-27.6-14.7-19.4-10.9-16.7-10-16.3-10.5-9.2-6.5-11.6-8.4-1.8-2-8.8-12.6-1.2-2.4-2.2-5.6-1.8-6.4-1.1-6.6-0.6-9.4-0.2-8.6 0.2-43.4 0.5-18 0.7-14 17.1-0.2 100.4 0 5.5 0.2 0.2 2 5.7 20 4.6 14.3 0.3-1.3-0.4-8-0.1-10 0.4-17 2.8-0.2 2.9 0.2-0.6 14-1 13-1.2 9.4-0.5 2.9-0.6 1.4-0.2 0.3 0.1 1 0.7 2 7 13.6 4.4 0.1 3.6 0.9 1.8 0.8 1.6 1.1 1.8 1.5 1.2 1.3 0.2 58.7-0.2 43.7-0.6 0.7-5.2 4.6-3.2 3.7-1 0.7-1 0.3-1 0.1-1-0.1-1-0.4-1-0.7-0.9-1.2-2.1-3.6-2.4 2.6-9 10.6-3.5 4.4-3.1 5-3.4 4.6-1.1 1zM275.1 463.8l-4.1 0-0.5-1.6 0-2 0.5-2.4 1.4-3 1.7-2 1-0.6 1-0.2 1 0.3 0.9 0.9 0.5 1.6 0 2-0.3 2-0.8 2-1.2 2-0.8 1z"/>
<path fill="#0050ff" d="M252.6 461.3l-0.6-0.1-0.3-4 1-1 0-0.4 1.5-1.6 0-0.4 0.5-0.6-0.1-0.4-27.6-14.7-19.4-10.9-17-10.2-16-10.4-9.2-6.4-11.6-8.4-1.7-2-8.8-12.6-1.4-3-1.9-5-1.8-6.4-1-6.6-0.7-10-0.2-5.4 0-13 0.3-34 0.6-17.6 0.8-13.4 16.6-0.2 100.4 0 5.4 0.2 0.1 2 5.6 20 7 22 6.8 13.4 0.7 0.8 2-0.2 2.4 0.1 2 0.5 2 0.7 2 1.1 1.5 1 2.5 2.7 0.2 57.9-0.2 43.4-0.8 1-5.2 4.5-3 3.6-1 0.7-1 0.3-1 0.2-1-0.2-1-0.4-0.9-0.7-0.8-1-2.3-3.8-2.4 2.5-9.2 10.9-3.4 4.2-3.2 5.2-3.4 4.6-1.4 1zM272.6 302.6l-0.7-1.4-0.4-3-0.5-8.4-0.1-12.6 0.3-14.4 2.8-0.2 2.8 0.2-0.6 14-1.2 14.4-0.6 5-0.7 4-0.7 2zM274.6 463.8l-3.5 0-0.4-1-0.2-1 0.1-2 0.6-2.6 1.4-2.6 1.4-1.6 1-0.6 1-0.2 1 0.3 0.6 0.5 0.4 0.8 0.3 1.4 0 2-0.5 2-1.1 2.6-1.7 1.9z"/>
<path fill="#0060ff" d="M253.6 460.9l-1.6 0.3-0.3-4 1-1 0-0.4 1.5-1.6 0-0.4 0.5-0.6-0.1-0.4-27.6-14.8-19.4-10.9-17-10.1-16-10.4-9.1-6.4-11.6-8.4-1.8-2-8.7-12.6-1.4-3-1.7-4.4-1.9-7-1-6.6-0.7-10.4-0.1-5 0-18 0.4-29.6 0.5-17 1-13.4 16.1-0.2 100.4 0 5.3 0.2 0.1 2 5.4 20 6.9 22 6.9 13.7 0.4 0.8 3-0.1 2 0.2 2 0.4 2 0.8 2 1.1 1.4 1.1 1.5 1.4 1.1 1.5 0.2 57.1-0.2 43.1-1 1.3-5 4.2-3 3.7-1 0.7-1 0.4-1 0.1-1-0.1-1-0.4-0.7-0.6-0.7-0.9-2.6-4.1-2.5 2.6-8.9 10.5-3.6 4.5-3.4 5.4-3 4.1-1 0.9zM273.1 301l-0.4 0.2-0.6-1.2-0.4-3.6-0.4-5.2-0.2-12.4 0.3-16 2.7-0.2 2.7 0.2-0.5 12.4-0.9 12.6-1.3 9.5-0.4 2.3zM274.6 463.8l-3.3 0-0.6-1.6 0-2.4 0.6-2.6 1.3-2.4 1-1.2 1-0.8 1.4-0.4 1 0.4 0.8 1 0.4 1.4-0.1 2-0.4 2-0.9 2-1.2 1.9-0.8 0.7z"/>
<path fill="#0070ff" d="M253.1 460.9l-1 0.1-0.3-3.8 1-1 0-0.4 1.5-1.6 0-0.4 0.5-0.6 0-0.4-27.7-14.8-19.4-10.9-17-10.2-16-10.4-9-6.3-11.6-8.4-2-2.2-8.5-12.4-1.4-3-1.6-4.4-1.9-7-0.9-6.6-0.8-11 0-25.4 0.4-27 0.6-17 1.1-13 15.6-0.2 100.4 0 5.1 0.2 0.1 2 5.4 20 6.7 22 6.9 14 0.8 1.1 2-0.2 2.6 0 2.4 0.5 2 0.9 2 1.1 1.6 1.3 1.4 1.7 1 1.5 0.2 56.1-0.2 42.8-1 1.4-5 4.2-3 3.7-1 0.7-1 0.4-1 0.1-1-0.1-1.4-0.8-0.9-1-2.1-3.7-0.6-0.5-2.7 2.8-9.3 10.9-3.1 4.1-3.3 5.2-3.6 4.6-1 0.9zM273.1 299.8l-0.4 0.1-0.6-1.4-0.4-3.7-0.3-4.6-0.2-12.4 0.3-15 2.6-0.2 2.6 0.2-0.5 11.4-0.9 13-1.2 9-0.4 2.3zM274.6 463.8l-3.1 0-0.7-1.6 0-2.4 0.6-2.6 1.4-2.4 0.8-1 1-0.8 1.4-0.4 1 0.4 0.8 1.2 0.3 1.6-0.1 1.4-0.5 2-0.8 2-1.1 1.7z"/>
<path fill="#0080ff" d="M252.6 460.8l-0.6 0.1-0.3-3.7 1.1-1-0.1-0.4 1.6-1.6-0.1-0.4 0.5-0.6 0.1-0.4-27.8-14.8-19.4-10.9-17-10.2-16-10.4-9-6.3-11.6-8.4-2.1-2.6-8.3-12-1.4-3-1.6-4.4-1.8-7-0.9-7-0.7-11 0-27.6 0.4-25 0.7-16.4 1.2-13 15.1-0.2 100.4 0 5 0.2 0.1 2 5.2 20 6.6 22 6.7 14 1 1.5 0.4 0.1 2.6-0.3 2.4 0.1 2.1 0.6 2.3 1 1.6 1.1 1.6 1.3 1.2 1.6 1.2 1.9 0.2 55.1-0.2 42.4-1 1.6-5.2 4.4-2.9 3.6-0.9 0.7-1 0.4-1 0.1-1-0.2-1.4-0.8-0.7-0.8-2.3-4-0.6-0.5-2.9 3.1-9.1 10.6-3.3 4.4-3.1 5-3.6 4.6-1 0.9zM273.1 298.6l-0.4 0-0.6-1.7-0.6-7.7-0.2-12.4 0.3-14 2.5-0.2 2.5 0.2-0.6 13.4-0.7 10-1.2 8.9-0.4 2.3zM274.1 463.8l-2.2 0-0.2-0.3-0.4-0.7-0.3-1 0.1-2.6 0.7-2.4 1.3-2.2 1.6-1.4 1-0.4 0.4 0 1 0.5 0.6 0.9 0.4 1.6-0.2 2-0.5 2-1.1 2-1.2 1.4-0.7 0.6z"/>
<path fill="#008fff" d="M253.6 460.4l-1.6 0.3-0.2-3.5 1-1 0-0.4 1.5-1.6 0-0.4 0.5-0.6 0-0.4-27.8-14.9-19.4-10.9-17-10.2-16-10.4-8.9-6.2-11.6-8.4-2.2-2.6-8.3-12-1.3-3-1.5-4.4-1.7-7-1-7-0.7-11.6 0-29 0.5-23.4 0.8-16 1.2-13 14.7-0.2 100.4 0 4.8 0.2 0.2 2 5 20 6.6 22.4 6.5 13.6 1.2 2 0.3 0.2 2.4-0.5 2.6 0.1 2.4 0.6 2.6 1.2 1.4 1.1 1.6 1.4 1 1.3 1.4 2.6 0.2 54-0.2 42.1-1 1.6-5.4 4.7-2.9 3.6-0.7 0.5-1 0.4-1 0.1-1-0.1-1.4-0.9-0.8-1-2.2-4-0.6-0.3-3 3-9 10.7-3.5 4.6-3.5 5.4-3 4zM273.1 297.5l-0.4-0.1-0.6-2-0.5-7.2-0.2-12 0.3-13.4 2.4-0.2 2.5 0.2-0.6 13-0.8 10-1.1 8.2-0.4 2.3zM273.6 463.8l-1.5 0-0.8-1-0.4-2 0.3-2 0.7-2 1.2-2 1.5-1.4 1-0.4 0.4 0 1 0.6 0.7 1.2 0.2 1.4-0.3 2-0.7 2-0.9 1.6-1.4 1.6-0.6 0.4z"/>
<path fill="#009fff" d="M253.1 460.4l-1 0.2-0.2-3.4 1-1 0-0.4 1.5-1.6 0-0.4 0.5-0.6 0.1-0.4-27.9-14.9-19.4-10.9-17-10.2-16-10.4-8.8-6.2-11.7-8.4-2.1-2.6-8.3-12-1.3-3-1.5-4.4-1.6-7-1-8-0.7-11 0.1-29.6 0.5-22.4 0.8-16.4 1.4-12.6 14.2-0.2 100.4 0 4.7 0.2 0.1 2 5 20 6.4 22.4 6.6 14 1.2 2.1 0.6 0.1 3-0.4 2 0.1 2.4 0.6 2.2 1.1 1.8 1.3 1.6 1.6 2.4 4.2 0.2 52.9-0.2 41.8-0.6 1.2-0.8 1-5 4.2-3 3.7-1.6 0.8-1 0.2-1-0.2-1.3-0.7-0.7-0.9-2.3-4.1-0.7-0.5-3 3-9 10.6-3.4 4.5-3.4 5.4-3.2 4.1-1 1zM273.1 296.4l-0.4-0.3-0.6-2.2-0.4-6.9-0.2-11.2 0.3-13 4.7 0-0.6 12-0.8 10.3-1 7.9-0.4 2.2zM273.6 463.8l-1-0.1-0.6-0.2-0.5-0.7-0.3-1-0.1-1 0.2-2 0.7-2 1.2-2 1.4-1.3 1-0.3 0.4 0 1 0.6 0.5 1 0.2 1.4-0.2 2-0.7 2-0.8 1.6-1 1z"/>
<path fill="#00afff" d="M252.6 460.4l-0.6 0-0.2-3.2 1-1 0-0.4 1.5-1.6 0-0.4 0.5-0.6 0.2-0.4-28-15-19.4-10.9-17.6-10.5-15.4-10.1-8.8-6.1-11.6-8.4-2.2-2.6-8.2-12-1.3-3-1.4-4.4-1.6-7-1-8-0.7-11.6 0.2-30 0.5-22 0.9-16 0.7-6.4 0.8-6 13.7-0.2 100.4 0 4.6 0.2 0.1 2 4.8 20 6.3 22.4 6.5 14 1.7 2.9 2.6-0.6 2.4 0 2.6 0.5 2.6 1.2 1.4 1.1 1.4 1.6 1 1.3 2 3.8 0 93.2-1.1 2-5.3 4.6-3 3.7-1.6 0.9-1.4 0.1-1.6-0.7-0.9-1-2.2-4-0.3-0.5-0.6-0.2-3.1 3.1-9.3 11-3.1 4-3.5 5.6-3.4 4.4-1 0.8zM273.1 295.3l-0.4-0.4-0.6-2.6-0.4-6.1-0.1-10.4 0.3-13 4.5 0-0.5 12-0.8 10-1 7.2-0.4 2.2zM274.1 463.4l-1 0.2-0.4 0-0.9-0.8-0.5-1.6 0.2-2.4 0.7-2 1.2-2 1.3-1.1 1-0.3 0.4 0 0.6 0.2 0.4 0.5 0.5 1.1 0.1 1.6-0.2 1.4-0.5 1.6-0.9 1.7-1 1.2z"/>
<path fill="#00bfff" d="M253.6 459.9l-1.6 0.3-0.2-3 1-1 0-0.4 1.5-1.6 0-0.4 0.7-1.1-27.1-14.5-18.8-10.4-17.7-10.6-16.2-10.4-9.3-6.6-11.7-8.4-2.2-2.6-7.8-11.4-1.2-2.6-1.5-4.4-0.9-3.6-0.8-4-1-8.4-0.7-11.6 0.2-30 0.5-22 1-16 0.7-6.4 0.9-6 113.6-0.2 4.4 0.2 0.1 2 4.7 20 6.2 22.4 6.4 14 1.8 3.2 0.4 0.2 3-0.7 2 0 2.6 0.6 2.5 1.3 1.7 1.4 1.2 1.5 3 5.4 0 91.8-1.4 2.3-5.2 4.6-2.9 3.4-0.5 0.6-1 0.4-1.4 0.1-1.6-0.7-0.7-0.8-2.6-4.6-0.7-0.4-3.3 3.4-9.1 10.8-3.3 4.2-3.5 5.6-3.2 4.2zM273.1 294.2l-0.4-0.5-0.4-1.9-0.5-6.6-0.1-10 0.3-12.4 4.3 0-0.5 11.4-0.8 10-0.9 6.8-0.4 2.2zM273.6 463.4l-1 0-0.6-0.4-0.4-0.8-0.3-1.4 0.2-2 0.7-2 1.4-2.1 1.4-1.1 1 0 1 0.6 0.4 1 0.1 1.6-0.2 1.4-0.7 2-0.9 1.6-1.1 1.1z"/>
<path fill="#00cfff" d="M253.1 459.9l-1 0.2-0.2-2.9 1-1 0-0.4 1.5-1.6 0-0.4 0.5-0.6 0.2-0.5-27-14.5-19.4-10.8-17.1-10.2-16.2-10.4-9.4-6.6-11.6-8.4-1.8-2-4.6-6.6-3.6-5.4-1.2-2.6-1.3-4-0.9-3.4-0.9-4.6-1-8.4-0.7-12 0.2-30 0.6-21.6 1.1-16 0.7-6.4 1-6 113.1-0.2 4.3 0.2 0.1 2 4.6 20 6 22.4 6.5 14.6 2.1 3.5 2.4-0.8 3-0.1 2.6 0.6 2.4 1.3 1.6 1.4 1 1.2 3.4 6.4 0 90.3-1.4 2.5-5.4 4.7-2.9 3.4-1.3 0.8-1.4 0.1-1.6-0.7-0.5-0.6-2.6-4.6-0.9-0.6-3.4 3.6-9 10.6-3.5 4.4-3.5 5.6-3.5 4.4zM273.1 293.2l-0.4-0.7-0.3-1.7-0.5-6.6-0.1-10 0.2-11.4 4.2 0-0.5 11-0.7 10-0.9 6.2-0.4 2.2zM273.6 463.3l-1-0.1-0.6-0.4-0.4-1-0.2-1.6 0.3-2 0.8-2 1.1-1.4 1.4-1 1 0 0.6 0.2 0.4 0.7 0.4 1.1 0 1.4-0.3 1.6-0.6 1.4-0.9 1.6-1 1z"/>
<path fill="#00dfff" d="M252.6 459.9l-0.6 0-0.2-2.7 1-1 0-0.4 1.5-1.6 0-0.4 0.5-0.6 0.2-0.6-27-14.4-19.4-10.8-18.6-11.1-14.6-9.5-9.4-6.6-11.6-8.4-1.9-2-4.6-6.6-3.5-5.4-1.2-2.6-1.2-4-1-3.4-0.8-4.6-1.1-10-0.5-11 0.2-30.4 0.6-21 1.1-15.6 0.8-6.4 1-6 112.7-0.2 4.1 0.2 0.2 2 4.5 20.4 5.9 22.6 6.3 14 2 3.7 0.4 0.3 3.2-0.9 2.4 0 2.6 0.6 2.4 1.4 1 1 1.2 1.3 3.8 7.3 0 88.7-1.4 2.7-5.6 4.7-2.9 3.6-1.1 0.7-1.4 0.1-1.5-0.8-0.5-0.7-2.5-4.3-0.5-0.6-0.6-0.2-3.4 3.5-9.2 10.9-3.5 4.4-3.3 5.3-3.3 4.3-0.7 0.7zM273.1 292.1l-0.4-0.9-0.3-1.4-0.4-6.6-0.1-9.4 0.2-11 4.1 0-0.5 10.4-0.8 10-0.8 5.8-0.4 2.3zM274.1 462.9l-1 0.2-0.4-0.1-0.7-0.8-0.4-1.4 0.2-2 0.7-2 1.2-1.8 1.4-1.1 1 0 0.6 0.4 0.5 0.9 0.2 1.6-0.2 1.4-0.5 1.6-0.8 1.4-0.8 1z"/>
<path fill="#00efff" d="M252.1 459.8l-0.2-2.6 1-1 0-0.4 1.5-1.6 0-0.4 0.8-1-0.1-0.2-26-13.8-20.4-11.5-18.6-11-14.6-9.5-7.9-5.6-13.1-9.4-1.9-2-4.5-6.6-3.6-5.4-0.9-2-1.1-3.6-1.1-4-0.8-4.4-1.1-10.6-0.6-11 0.3-30.4 0.6-21 0.5-8 0.7-7.6 0.9-6.4 1-6 112.2-0.2 4 0.2 0.1 2 4.4 20.4 5.8 22.6 6.3 14.2 2.4 4.6 3-1.1 2.6-0.2 2.4 0.5 1.6 0.7 1 0.7 1.1 1 1.2 1.6 4.1 8 0 87.1-1.6 2.9-5.4 4.6-3 3.7-1 0.6-1.4 0.1-1.2-0.6-0.8-1-2.3-4-0.7-0.8-0.6-0.2-3.5 3.6-9.3 11-3.5 4.4-3.1 5.1-3.5 4.5-1.1 0.8zM273.1 291.1l-0.4-1.1-0.2-0.8-0.5-6.4-0.1-9.6 0.3-10.4 3.9 0-0.5 11-0.8 9.4-0.7 4.9-0.4 2.2zM274.1 462.8l-1 0.2-0.4-0.2-0.6-0.6-0.4-1.4 0.2-2 0.7-2 1.1-1.6 1.4-1.1 1 0 0.7 0.7 0.4 1 0.1 1-0.2 1.4-0.5 1.6-0.8 1.4-0.7 0.9z"/>
<path fill="#00ffff" d="M253.1 459.4l-1 0.2-0.1-2.4 1-1-0.1-0.4 1.6-1.6-0.1-0.4 0.9-1-0.2-0.3-24.9-13.3-21.5-11.9-16.1-9.5-17-11-8-5.6-13-9.4-1.5-1.5-1.4-2-3.6-5.1-3.5-5.4-0.9-2.2-1-3.2-1.1-4.2-0.6-3.4-0.6-4-0.7-8.6-0.5-10.4 0.2-30.6 0.7-20.4 0.6-8 0.7-7.6 0.9-6.4 1.1-6 111.7-0.2 3.9 0.2 0.1 2 4.3 20.4 5.6 22.6 6.2 14.4 2.5 4.6 0.4 0.4 2.6-1.1 1.4-0.3 1.6 0 2.4 0.5 1.6 0.8 1 0.7 1 1 0.9 1.4 4.5 8.9 0 85.5-1.8 3.2-5.2 4.4-3 3.6-1 0.7-1.4 0.2-1-0.5-0.9-1-2.2-4-0.9-1.1-0.6-0.2-3.7 3.9-9.3 10.8-3.4 4.6-3.6 5.5-3 3.9zM273.1 290l-0.5-1.8-0.5-6.4-0.1-9 0.3-10 3.7 0-0.5 11-0.8 9-0.6 4.4-0.4 2.1zM273.6 462.8l-1-0.2-0.6-0.8-0.3-1.6 0.3-2 0.9-2 1.1-1.4 1-0.5 1 0 0.6 0.5 0.4 1 0.1 1.4-0.3 1.6-0.6 1.4-0.6 1.1-1 1z"/>
<path fill="#10ffef" d="M252.6 459.4l-0.6 0.1-0.1-2.3 1-1 0-0.4 1.5-1.6 0-0.4 0.8-1-0.2-0.4-24-12.7-22.4-12.5-17.6-10.4-15.4-10-10-7-11.1-8-1.4-1.6-1.5-2-3.5-5-3.5-5.4-0.6-1.2-1-2.8-1.4-6-0.6-3-1-10-0.5-6.6-0.2-7 0.3-27.4 0.4-15.6 0.4-8.4 1.2-14 1-6.8 1.2-6.2 114.9 0 0.1 2 4.2 20.4 5.4 22.6 6.2 14.4 3 5.6 0.4 0 1-0.6 1.6-0.6 2.4-0.4 2.6 0.5 1.4 0.7 1.3 0.8 0.9 1 1 1.6 4.8 9.6 0 83.8-2 3.5-5.2 4.5-2.9 3.6-0.9 0.6-1.4 0.1-1-0.5-0.7-0.8-2.3-4.1-1-1.2-0.6-0.2-3.9 4.1-9.1 10.6-3.4 4.4-3.4 5.4-3.1 4-0.5 0.7zM273.1 288.9l-0.5-1.7-0.4-7-0.1-8 0.2-9.4 3.6 0-0.5 11-0.7 8.8-0.6 3.6-0.4 2.2zM274.1 462.5l-1 0.1-0.4-0.2-0.5-0.6-0.3-1.6 0.2-1.4 0.6-1.8 1-1.5 1-0.9 1-0.2 0.7 0.4 0.6 1 0.1 1-0.2 1.4-0.5 1.6-0.5 1-0.8 0.9z"/>
<path fill="#20ffdf" d="M252.1 459.3l-0.1-2.1 1-1 0-0.4 1.5-1.6 0-0.4 0.8-1-0.2-0.4-24-12.7-21.4-12-18.5-10.9-15.4-10-10.1-7-11.5-8.6-1.5-1.7-3-4.2-4.9-7.5-0.7-1.6-0.9-3-1.1-4.1-0.8-4.9-1.2-12.7-0.4-10.7 0.3-30 0.8-20.6 0.6-8 0.8-7.4 0.9-6.2 1.3-5.8 114.3 0 0.1 2 4 20.4 5.4 22.6 6.2 15 3.3 6 1.4-1 1-0.6 1.6-0.4 1.4-0.1 2.6 0.4 1.2 0.7 1.2 0.9 1 1.1 0.7 1 5.3 10.9 0 82.2-2 3.6-5.4 4.7-2.9 3.6-1.1 0.6-1-0.1-1.1-0.5-2.9-5-1-1.1-0.6-0.2-4 4-9 10.7-3.6 4.6-3.4 5.4-3.1 4-0.9 0.8zM273.1 287.9l-0.4-2-0.5-6.7 0-7.4 0.2-9 3.5 0-0.5 10.4-0.7 8.5-0.6 3.6-0.4 2.1zM274.1 462.3l-1 0.1-0.7-0.6-0.4-1.6 0.2-1.4 0.5-1.6 1-1.6 1-0.8 1-0.3 0.5 0.3 0.6 1 0.2 1-0.2 1.4-0.5 1.6-0.5 1-0.7 0.8z"/>
<path fill="#30ffcf" d="M253.1 458.9l-1 0.2-0.1-1.9 1-1 0-0.4 1.5-1.6 0-0.4 0.8-1-0.2-0.5-26.5-14.1-18.9-10.5-16-9.5-16.6-10.6-9.9-6.8-12.5-9.2-1-1-1.5-1.8-3.5-5-3.5-5.6-1-2-0.7-2.4-1.1-4.6-0.7-4-0.5-4.4-0.8-9.6-0.4-10.4 0.3-30 0.8-20.6 0.7-8 0.8-7.4 1-6.6 1.2-5.4 113.8 0 0.1 2 3.9 20.4 5.3 23 6 14.6 3.2 6.1 0.6 0.6 1-0.9 1.4-0.8 1-0.4 1.6-0.3 1.4 0.1 1.6 0.4 1.2 0.6 1.2 1 1.4 2 5.6 11.8 0 80.6-2 3.6-5.4 4.8-3 3.7-1 0.5-1 0-1-0.6-2.9-4.8-1.1-1.4-0.6-0.1-4 4-9.3 10.9-3.4 4.6-3.5 5.4-3.1 4zM273.1 286.8l-0.4-2.3-0.4-5.7 0-7.6 0.2-8.4 3.3 0-0.5 10-0.6 7.9-0.6 3.6-0.4 2.1zM273.6 462.3l-0.6 0-0.4-0.4-0.4-0.7-0.2-1.4 0.3-1.6 0.6-1.4 0.7-1 1-0.9 1-0.2 0.8 0.5 0.3 1 0.1 1-0.3 1.6-0.5 1.2-0.8 1.2-0.6 0.7z"/>
<path fill="#40ffbf" d="M252.6 458.9l-0.6 0.1-0.1-1.8 1-1 0-0.4 1.5-1.6 0-0.4 0.9-1-0.3-0.5-25.4-13.6-20-11.1-17.5-10.4-15.5-10-10.8-7.4-11.6-8.6-1.6-1.9-3-4.2-4.4-6.9-0.9-2-0.8-2.4-1-4.6-0.6-3.4-0.5-4.6-0.8-10.4-0.4-10 0.4-30 0.8-20.6 0.6-8.3 0.9-7.1 1.1-6.6 1.2-5.4 113.2 0 0 2 3.9 20.4 5.1 23 5.9 14.6 3.7 7.1 0.6 0.4 0.9-1.1 1.1-0.7 1.4-0.7 1.6-0.2 1.4 0.1 1 0.2 1.6 0.8 1 0.8 1.2 1.7 6.2 13.1 0 78.9-2.2 4-5.2 4.6-3 3.6-1 0.6-1 0-1-0.7-2.7-4.5-1.3-1.6-0.6-0.1-4.1 4.1-9.3 11-3.5 4.6-3.5 5.4-3.1 4zM273.6 285.4l-0.6 0.3-0.4-2.9-0.2-2-0.1-8 0.2-10 3.1 0-0.4 8.4-0.5 6.6-0.7 5.6zM274.1 462l-1 0.1-0.4-0.4-0.5-1.5 0.2-1.4 0.5-1.6 0.8-1.2 1-0.9 1-0.2 0.4 0.2 0.6 0.9 0.1 1.2-0.1 1-0.6 1.5-0.4 0.9-0.6 0.7z"/>
<path fill="#50ffaf" d="M252.1 458.8l-0.1-1.6 1-1 0-0.4 1.5-1.6 0-0.4 0.9-1-0.3-0.6-26.2-14-19.2-10.7-16.6-9.8-16.4-10.6-10.7-7.3-11.6-8.6-1.7-2-3.5-5-3.7-6-0.8-1.4-0.8-2.6-1.1-5-0.5-3.4-1.4-16-0.3-9.6 0.4-30 0.8-20 0.7-8 0.9-7.4 1.1-6.6 1.3-5.4 112.5 0 0.1 2 3.7 20.4 5 23 6 15 4 7.8 0.6 0.2 1-1.3 1-0.9 1-0.5 1.4-0.4 1.6 0 1 0.2 1.4 0.6 1.1 0.9 1.2 1.4 6.7 14.5 0 77.2-2.4 4.3-5.2 4.6-2.9 3.4-0.9 0.7-1-0.1-0.9-0.6-2.7-4.5-1.4-1.7-0.6-0.2-4.3 4.4-4.7 5.4-7.8 9.6-3.4 5.6-3.2 4.2-0.6 0.5zM273.6 284.4l-0.6 0.1-0.5-4.7-0.2-7.6 0.2-9.4 3 0-0.4 8.4-0.5 6.6-0.6 4.6zM274.1 461.9l-1 0-0.4-0.5-0.4-1.2 0.1-1.4 0.6-1.6 0.7-1.1 1-0.9 1-0.2 0.4 0.3 0.5 0.9 0 2-0.9 2.3-0.7 0.7z"/>
<path fill="#60ff9f" d="M253.1 458.3l-1 0.4-0.1-1.5 1-1 0-0.4 1.5-1.6 0-0.4 0.9-1-0.3-0.7-26.1-13.9-19.3-10.7-16.6-9.8-16.4-10.7-10.6-7.2-11.6-8.6-1.7-2-3.6-5-3.6-6-1-2-0.6-2-0.9-4.4-0.5-3.6-1.4-17-0.3-9.4 0.4-29.6 0.9-20 0.6-8 1-7.4 1.1-6.6 1.3-5.4 112 0 0.1 2 3.6 20.4 4.9 23 5.9 15 4.4 8.9 0.6 0.4 0.5-1.3 0.9-1.1 1.1-0.9 1.5-0.5 1.4-0.2 1.6 0.2 1.1 0.5 1.2 1 1 1.6 7.1 15.2 0 75.6-2.4 4.5-5.5 4.7-2.8 3.4-0.7 0.5-1 0-0.7-0.5-2.9-4.8-1.4-1.7-0.6-0.1-4.4 4.5-9.5 11.1-3.1 4-3.4 5.6zM273.6 283.4l-0.6-0.1-0.4-4.5-0.2-7.6 0.2-8.4 2.9 0-0.4 8.4-0.5 6.4-0.6 3.8zM273.6 461.8l-0.6-0.1-0.6-0.9-0.1-1 0.3-1.6 0.6-1.4 0.8-1.1 1-0.5 0.6 0 0.4 0.4 0.4 0.6 0.1 1-0.3 1.6-0.6 1.4-0.6 0.8-1 0.7z"/>
<path fill="#70ff8f" d="M252.6 458.4l-0.6 0.1-0.1-1.3 1.1-1-0.1-0.4 1.6-1.6-0.1-0.4 0.9-1-0.3-0.7-25.9-13.9-19.5-10.8-16.6-9.8-16.4-10.6-9-6.3-13.1-9.5-1.8-2-3.5-5-3.6-6-1.1-2.4-0.6-2.6-0.9-4.4-0.5-4.6-1.3-18.4 0-13.6 0.4-26 1-18 0.7-7.4 0.8-6.6 1.2-6 1.3-5.4 111.4 0 0.1 2 3.4 20.4 4.8 23 5.8 15 4.9 10 0.6 0.6 0.8-2 0.6-1 1-1 1-0.5 1.6-0.3 1.4 0.1 1.6 0.6 1 0.8 0.8 1.3 7.6 16.4 0 74-2.4 4.6-5.6 4.8-2.9 3.6-0.5 0.3-1 0-0.6-0.3-2.9-5-1.5-1.7-0.6-0.1-4.4 4.5-9.3 10.9-3.5 4.4-3.4 5.6-3.1 4zM273.6 282.4l-0.6-0.4-0.4-5.2-0.1-6.6 0.2-7.4 2.7 0-0.4 7.3-0.4 6.5-0.6 3.8zM274.6 461.3l-1 0.4-0.8-0.5-0.3-1 0-1.4 0.5-1.5 0.7-1.1 0.9-0.7 0.4-0.1 0.6 0 0.4 0.4 0.2 0.4 0.2 1-0.1 1-0.7 1.9z"/>
<path fill="#80ff80" d="M252.1 458.3l0-1.1 1-1-0.1-0.4 1.6-1.6-0.1-0.4 1-1-0.4-0.8-25.8-13.8-19.6-10.9-18-10.7-15-9.7-10.3-7.1-11.7-8.6-1.8-2-3.5-5-3.6-6-1.1-2.4-0.6-2.6-0.8-5-0.5-4.4-1.2-19.6 0-17.4 0.5-23 1-17 0.8-7 0.8-6 1.2-6 1.3-5 110.7 0 0.1 2 3.4 20.4 4.6 23 5.9 15.6 5.8 11.3 1.7-3.9 0.7-0.7 1-0.7 1-0.3 1.6 0 1.4 0.5 1.1 0.8 1 1.4 7.9 17.5 0 72.2-2.6 4.9-5.4 4.6-2.7 3.4-0.7 0.6-1-0.1-0.6-0.4-2.7-4.7-1.7-1.9-0.6-0.1-4.5 4.6-9.4 11-3.5 4.4-3.4 5.6-3.2 4-0.4 0.4zM273.6 281.3l-0.6-0.6-0.3-4.5-0.1-6 0.2-7.4 2.5 0-0.7 12.7-0.6 3.9zM274.1 461.4l-0.4 0.1-0.6-0.2-0.3-0.5-0.2-1 0.1-1 0.6-1.6 0.8-1.1 1-0.6 0.6 0.1 0.4 0.6 0.2 0.6-0.2 1.9-1 1.9z"/>
<path fill="#8fff70" d="M252.6 458.1l-0.6 0.1 0-1 1-1 0-0.4 1.5-1.6 0-0.4 0.9-1-0.4-0.9-25.7-13.7-19.7-11-16.6-9.8-16-10.2-9.4-6.6-13-9.5-1.7-1.9-3.2-4.4-3.6-6-1-2-0.7-2.6-0.9-5-0.4-4-1.3-21 0-18 0.6-23 1-16.4 0.7-7 0.9-6.2 1.2-5.8 1.3-5 110.2 0 0.1 2 3.2 20.4 4.6 23.6 5.7 15 5.4 11 0.9 1.3 0.4-0.8 1.6-3.5 0.4-0.7 1-0.7 1-0.4 1.6 0 1.4 0.5 0.9 0.7 0.6 1 8.5 18.9 0 70.5-2.8 5.2-5.2 4.4-2.9 3.6-0.5 0.4-0.6 0.1-0.4-0.1-0.5-0.4-2.5-4.6-2-2.2-0.6-0.1-4.7 4.9-9.4 11-3.5 4.4-3.4 5.4zM273.6 280.2l-0.6-1-0.2-4-0.1-5.4 0.2-7 2.3 0-0.6 11.5-0.6 4.1zM273.6 461.3l-0.6-0.3-0.3-0.8 0-1 0.3-1.4 1-1.6 1-0.5 0.6 0.1 0.4 0.8 0.2 0.6-0.1 1-0.4 1-0.5 1-0.6 0.8-0.6 0.2z"/>
<path fill="#9fff60" d="M252.6 457.9l-0.6 0.1 0-0.8 1-1 0-0.4 1.5-1.6 0-0.4 0.9-1-0.4-0.9-25.5-13.7-19.9-11-16.6-9.8-16-10.3-10.5-7.3-11.9-8.8-1.6-1.8-3.5-5-3.3-5.4-1.1-2.6-0.6-2-0.8-5-0.4-4.4-1.2-21 0.1-21.6 0.6-21 1-15.4 0.8-6.6 0.9-6 1.2-5.4 1.3-5 109.6 0 0.1 2 3.1 20.4 4.4 23.6 5.6 15 5.5 11.4 1.3 1.7 0.4-0.2 1.9-4.5 1.1-1.3 1-0.4 1.6 0 1 0.3 1 0.9 0.6 1.1 6.3 14.4 2.5 5.3 0 68.8-3 5.4-5.3 4.5-3.1 3.8-0.6 0.1-0.7-0.3-2.6-4.6-2.1-2.4-0.6-0.1-5 5-9.3 11.1-3.4 4.4-3.3 5.2zM273.6 279l-0.6-1.5-0.1-3.3 0.1-11.4 2.1 0-0.5 10.3-0.6 4.2zM274.6 460.8l-0.6 0.3-0.4 0-0.5-0.3-0.3-1.6 0.2-1.2 0.6-1 0.6-0.8 0.8-0.3 0.7 0.3 0.3 0.6 0 1-0.4 1.7z"/>
<path fill="#afff50" d="M252.1 457.9l0-0.7 1-1 0-0.4 1.5-1.6 0-0.4 1-1-0.5-1-25.4-13.6-20-11.1-16.6-9.8-16-10.3-11-7.6-11.4-8.5-1.6-1.7-3.5-5-3.2-5.4-1.1-2.6-0.5-2-0.8-5-0.4-4.4-1.1-21.6 0.2-24 0.6-19.4 1.1-15 0.7-6.3 1-5.7 1.1-5 1.4-5 109 0 0 2 3 20.4 4.3 23.6 5.7 15.4 5.5 11.6 1.6 1.9 0.4 0.4 2.2-5.3 0.8-1.2 1-0.6 1-0.1 1 0.2 1 0.7 0.6 1 6.4 14.8 3 6.3 0 67.1-3 5.4-5.4 4.8-3 3.6-0.6 0.2-0.5-0.2-2.9-5-2-2.2-0.6-0.1-5 5-9.1 10.7-3.8 5-3.5 5.6-2.7 3.4-0.3 0.5zM273.6 277.7l-0.5-1.9-0.1-2 0.1-11 1.9 0-0.4 8.9-0.6 4.4zM274.1 460.9l-0.4 0-0.6-0.5-0.1-0.6 0.1-1 0.3-1 0.6-1 0.7-0.6 0.4-0.1 0.6 0.2 0.2 0.5 0 1.4-0.2 1-0.6 0.9z"/>
<path fill="#bfff40" d="M252.6 457.4l-0.6 0.3 0-0.5 1-1 0-0.4 1.5-1.6 0-0.4 1-1-0.4-1-25.4-13.6-20.1-11.2-16.5-9.8-15.6-10-10.8-7.4-12.1-9-1.6-1.7-3.1-4.3-3.2-5.6-1.2-2.4-0.6-2-0.7-4.6-0.4-4.4-1.1-22.6 0.2-24 0.6-19.4 1.1-15 0.9-6.6 0.9-5.4 1.2-5.2 1.3-4.8 108.4 0 0.1 2 2.9 20.4 4.2 23.6 5.5 15.4 5.4 11.6 2.6 3.4 3.1-7 0.9-0.7 1-0.1 1 0.3 0.7 0.5 3 6.6 3.8 9 3.5 7.5 0 65.4-3 5.5-5.4 4.8-2.7 3.2-0.6 0.6-0.3 0-0.4-0.3-2.8-4.7-2.2-2.5-0.6 0-5 5-9.4 11.2-3.4 4.3-3.4 5.4zM273.6 276.3l-0.6-4.1 0.2-9.4 1.7 0-0.3 7.5-0.6 4.5zM274.6 460.4l-0.6 0.3-0.4 0-0.6-0.8 0-1 0.4-1.1 0.6-1 0.6-0.4 0.4-0.1 0.6 0.5 0.1 1.4-0.6 1.6z"/>
<path fill="#cfff30" d="M254.6 454.6l-0.1-0.8 1-1-0.2-1-27.3-14.6-20.4-11.4-18-10.8-16.4-10.8-8.5-6-10.1-7.4-1.6-1.8-3-4.2-2.1-3.6-1.8-3.4-0.8-2-0.5-2.6-0.5-4.4-0.6-12-0.7-12.6 0-16.4 0.6-23.6 0.5-9 0.6-8 0.9-7 1-6.4 1.3-6 1.5-5 107.8 0 0.1 2 2.8 21 4 23 5.4 15.4 5.5 12 3 3.9 1.2-1.9 1.9-5 0.5-0.7 0.4-0.4 1-0.2 1 0.3 0.5 0.6 6.5 15.4 4 8.6 0.1 63-0.1 0.6-3.2 5.8-5.2 4.6-3 3.6-0.6 0.3-0.5-0.5-2.5-4.4-2.4-2.7-0.6-0.1-5.1 5.2-9.4 11-3.5 4.6-3.1 5zM273.6 274.8l-0.4-4.6 0.1-7.4 1.5 0-0.2 5.8-0.5 4.2-0.1 0.7zM254.1 455.2l0-0.4 0.4 0zM253.1 456.5l0-0.7 0.6-0.6 0.4 0zM252.6 457.2l-0.1-0.4 0.4 0zM274.1 460.5l-0.6-0.3-0.2-0.4 0-1 0.3-1 0.5-0.8 0.6-0.4 0.4-0.1 0.4 0.3 0.2 0.4 0 1.3-0.6 1.2-0.4 0.5zM252.1 457.6l0-0.4 0.5 0z"/>
<path fill="#dfff20" d="M255.6 453l-0.2-1.2-0.4-0.3-23.2-12.3-19.9-11-16.9-9.9-15-9.5-11.7-8-13.1-9.6-2.2-2.3-4.5-6.7-2.1-4-0.8-2-0.6-2.4-0.4-3.6-0.3-4.4-0.3-9-0.7-12 0-14 0.6-25 0.5-9.6 0.6-8.4 0.9-7.6 1.1-6.4 1.4-6 1.5-5 107.2 0 0.1 2 2.6 21 3.9 23 5.5 16 5.4 11.7 3.4 4.5 0.6-0.3 1-2 2.1-5.5 0.3-0.4 0.6-0.4 0.4 0 0.6 0.2 0.4 0.5 6.4 15.1 4.6 10 0.1 61-0.1 1-3.4 6-5.3 4.6-2.7 3.4-0.6 0.3-0.4-0.6-2.4-4.1-2.6-2.9-0.6-0.1-5.4 5.4-9 10.8-3.8 4.8zM273.6 272.9l-0.3-4.1 0.1-6 1.3 0-0.1 3.6-0.6 5.5zM255.1 453.7l0-0.5 0.4 0zM254.6 454.3l-0.1-0.5 0.5 0zM254.1 455l0-0.2 0.2 0zM253.6 455.6l-0.1-0.4 0.3 0zM253.1 456.3l0-0.5 0.5 0zM252.6 456.9l-0.1-0.1 0.2 0zM274.1 460.3l-0.4-0.2-0.2-0.3 0.1-1.6 0.5-1 0.6-0.4 0.4-0.1 0.4 0.5 0.1 0.6-0.2 1-0.5 1zM252.1 457.4l0-0.2 0.3 0z"/>
<path fill="#efff10" d="M255.6 452.7l-0.1-0.9-0.5-0.4-23-12.2-19.1-10.4-17-10-15-9.6-11.1-7.4-14.5-10.6-2.3-2.4-3.4-5-1-1.7-2.1-3.9-0.8-2-0.4-2-0.5-4-0.3-4.4-0.2-9-0.7-13 0.1-18 0.6-22.6 0.5-9 0.7-7.4 0.9-7 1-6 1.4-6 1.6-5 40 0 0 1.4 2.6 0.7 3.8-0.7 0-1.4 60.1 0 0.1 2 2.6 21 3.8 23.4 5.3 15.6 5.4 12 3.9 5.1 0.6 0 1.6-3.1 2-5.6 0.4-0.2 0.4-0.1 0.6 0.3 6.3 15.6 5.1 10.8 0.1 59.6-0.1 0.7-3.6 6.3-5.3 4.6-2.5 3.1-0.6 0.4-2.6-4.5-2.8-3.2-0.6 0-5.6 5.6-8.5 10-4.3 5.6zM273.6 270.3l-0.1-7.5 1 0-0.5 7.3zM255.1 453.4l0.2-0.2zM254.6 454.1l-0.1-0.3 0.3 0zM253.6 455.4l0-0.2zM253.1 456l0-0.2 0.3 0zM274.6 459.8l-0.6 0.2-0.4-0.2-0.1-1 0.5-1.4 0.6-0.4 0.4 0.1 0.3 0.7 0 0.4-0.3 0.9z"/>
<path fill="#ffff00" d="M256.1 451.5l-0.4 0.1-0.8-0.4-4.8-2.4-32.5-17.6-16.5-9.4-16.9-10.6-14.1-9.4-14.6-10.6-1.9-2-4.5-6.4-3-6-0.5-2-0.5-3.8-0.2-4.8-0.2-9.4-0.7-13.6 0.1-17.4 0.7-23 0.5-9 0.6-7 0.9-7 1.1-6 1.4-6 1.6-5 33.5 0 0 1.4 1.6 0.6 7.1 1 10.2-1 2.4-0.6 0-1.4 51.2 0 0.1 2 2.4 21 3.7 23.4 5.2 15.6 5.5 12.4 4.3 5.7 0.6 0.3 2.2-4.4 1.8-5 0.4-0.3 0.2 0.3 6.1 15 5.7 12.2 0.1 58.2-0.1 0.3-1.1 1.7-2.8 5-5.1 4.3-3 3.6-2.8-4.9-2.6-2.8-0.6 0-5.8 5.8-4.4 5-8.1 10zM274.1 267.4l-0.2-1.6 0.1-3 0.3 0zM255.6 452.4l0-0.3zM274.6 459.5l-0.6 0.2-0.3-0.5 0-0.4 0.3-1 0.6-0.5 0.4 0.2 0.1 0.7z"/>
<path fill="#ffef00" d="M255.6 451.4l-0.6-0.2-5-2.4-31.5-17-14-8-18-11-16.4-11-12.5-9.2-2.1-1.4-2-2-3.5-4.9-1.4-2.5-2-4-0.6-1.6-0.4-2.1-0.5-5.3-0.1-12-0.5-6.6-0.3-8.4 0.3-27 0.5-13 0.5-7.6 1.1-10.5 0.9-6.5 1-5 1.3-5 1.5-4.4 26.9 0 0 1.4 1.6 0.6 13.2 1.9 19.1-1.9 2.3-0.6 0-1.4 42.3 0 0 2 2.4 21 3.5 23.4 5.2 16 5.3 12 4.9 6.6 0.6 0.4 2.5-5 1.5-3.8 0.4-0.7 5.9 14.5 6.1 13.1 0 56.6-4 7-5 4.3-2.4 3-0.6 0.4-2.4-4.4-3-3.2-0.6 0-5.7 5.8-5.7 6.4-6.4 8-3.3 5zM274.1 459.3l0-1.1 0.6-0.5 0.2 0.5-0.1 0.6-0.1 0.3z"/>
<path fill="#ffdf00" d="M255.6 451l-0.6 0.1-0.7-0.3-4.3-2.2-31.4-17-18.9-10.8-16.1-10-14-9.6-14.5-10.4-1.1-1.1-1.4-1.9-2.5-3.6-1.4-2.4-1.7-3.4-0.8-2.2-0.4-2-0.3-3-0.2-4.4 0-9.6-0.8-15 0.4-26.4 0.8-18 0.5-7.6 0.8-6.4 0.9-6 1.1-5.6 1.3-5 1.4-4.4 20.5 0 0 1.4 1.5 0.6 19.3 2.7 28-2.7 1.6-0.6 0-1.4 33.9 0 0.1 2.4 2.2 20.6 3.3 23.4 5.2 16 5.5 12.6 5.2 6.8 0.6 0.2 0.6-0.6 2.5-5 0.9-2.3 0.4-0.8 5.3 13.1 5.3 11.5 1.4 13.5 0 21.6-1.5 14.4-0.6 11-0.3 1-1.7 3-0.4 0.6-4.9 4.2-2 2.5-0.6 0.1-2-3.5-3-3.3-0.4-0.4-0.6 0-6 5.9-4.7 5.5-8.3 10.2z"/>
<path fill="#ffcf00" d="M255.1 450.8l-0.5 0-8.6-4.6-29.9-16.1-17-9.9-14.4-9-13.6-9.1-15.7-11.3-2.2-2.6-2.8-4-1.2-2-2.5-5.4-0.5-2-0.3-3-0.1-4.6 0-10-0.6-9.4-0.2-6 0.4-25.6 0.8-18.4 0.5-7.6 0.8-6.4 0.9-6 1.1-5.6 1.3-5 1.5-4.4 13.9 0 0 1.4 1.4 0.6 20 3 5.5 0.9 7.9-0.9 21.1-2.2 3.8-0.8 1-0.6 0-1.4 29.5 0 0.1 2 2.1 21 3.3 24 4.9 15.4 5.8 13 5 6.6 0.5 0.4 0.6 0.1 0.4-0.1 0.6-0.5 3.4-7.3 4.7 11.8 2.8 6 0.5 1.6 0.6 6.5 1.4 12.9 0.3 5 0.1 4.6-0.4 7.4-1.9 18-0.6 13.6-0.2 0.4-5.2 4.6-1.5 1.9-0.6 0-1.6-2.9-3.2-3.6-0.6-0.3-0.6 0-0.4 0.2-6 6.1-4.6 5.2-8.4 10.4z"/>
<path fill="#ffbf00" d="M254.6 450.4l-0.6 0-4-2.1-9-4.7-25.4-13.9-16.6-9.6-14.4-9.1-14-9.4-15.1-10.8-1.9-2.1-3.1-4.5-1.2-2-2.5-5.4-0.5-2-0.2-3-0.1-4 0.1-10.6-0.6-10-0.2-6 0.4-27 0.8-17.4 0.6-7 0.7-6.6 1-6 1-5 1.4-5 1.5-4.4 10.5 0 0 1.4 0.5 0.6 1.3 0.6 18.4 2.8 9.6 2.1 13.9-2.1 15.1-1.5 8.1-1.9 1-0.6 0-1.4 25.1 0 0 2 2 21 3.1 24 5 16 5.6 12.4 5.1 6.9 0.6 0.4 1 0.3 1-0.3 0.4-0.6 3-6.1 4.4 11 1.6 3.6 0.3 0.8 0.6 8 1.6 14.6 0.3 4.4 0.1 4.6-0.4 7.4-2 19-0.5 13.6-4 3.4-1.4 1.8-0.6-0.3-1.4-2.4-3.3-3.5-0.7-0.4-0.6 0-0.7 0.4-6 6-4.7 5.4-8.2 10-2.5 4z"/>
<path fill="#ffaf00" d="M254.6 449.9l-0.6 0.2-0.4-0.1-3.6-1.8-31-16.7-18-10.4-16-9.9-13.4-9-16-11.5-2-2.2-3-4.3-1.2-2-2.4-5.4-0.4-2-0.3-2.6 0-4.4 0.2-10.6-0.6-10-0.2-6 0.5-28.4 0.8-17 1.3-13 1-6 1.1-5 1.2-4.6 1.5-4.4 8 0 0 1.4 0.4 0.6 3.5 1.7 11.2 1.7 16.8 3.6 30.6-4.4 10.8-2.6 0.9-0.6 0-1.4 20.7 0 0 2 1.9 21 3.1 24.4 4.8 15.6 5.8 12.9 5 6.6 0.4 0.5 1 0.5 1 0 0.6-0.2 0.9-0.9 2.5-5 4.7 11.6 0.8 10.4 1.6 15 0.4 8.6-0.4 7.4-2 19-0.5 14-0.4 0.6-2.6 2.2-1 1.2-0.6-0.4-1-1.7-3.4-3.8-1-0.4-1 0.2-0.6 0.2-6 6-4.7 5.5-8.3 10.2z"/>
<path fill="#ff9f00" d="M254.1 449.8l-0.4 0-4-2-32.5-17.6-16.4-9.4-15.7-9.7-13.1-8.9-16.3-11.7-2-2.3-3.7-5.4-2.5-5.6-0.5-2-0.3-2.4 0-4.6 0.3-11-0.6-10-0.2-6.4 0.4-27.6 0.9-17 0.6-7 0.7-6.4 1-6 1.1-5 1.2-4.6 1.6-4.4 5.3 0 0 1.4 0.4 0.6 5.7 2.7 4 0.7 13.6 3.1 10.4 2 15-2 14-2.1 4.6-1.4 12.1-3 0.9-0.6 0-1.4 16.2 0 1.8 23 2.9 24.4 4.7 15.6 5.7 13 5.3 7 0.8 0.7 1 0.3 1.6-0.1 1-0.7 2.4-4.4 2.8 7.2 0.6 2 0.6 10 1.7 16 0.3 4.4 0.1 4.6-0.4 7.4-2 19.6-0.5 14-0.3 0.4-1.7 1.6-0.6 0.7-1.3-1.7-3.3-3.6-0.5-0.4-0.9-0.3-1.6 0.3-6.4 6.4-4.6 5.2-8.4 10.4z"/>
<path fill="#ff8f00" d="M253.6 449.5l-0.6-0.1-3-1.5-10.6-5.7-23.8-13-16-9.3-14.6-9-14.4-9.7-15-10.9-2-2.3-3.6-5.2-2.4-5.6-0.6-2.4-0.1-2-0.1-4 0.5-11.6-0.7-10-0.1-6.4 0.5-29 0.8-16.6 0.7-7 0.7-6 1-5.4 1-5 1.3-4.6 1.5-4.4 2.7 0 0 1.4 0.4 0.6 5.9 3 2 1.3 12 2.7 16 3.2 29-4.1 7.8-2.7 13.2-3.4 0.8-0.6 0-1.4 11.8 0 1.7 23 2.8 24.4 4.8 16 5.7 13 5.4 7 1 0.9 1 0.3 1-0.1 1.5-0.5 0.9-1 1.2-2.3 0.4-0.4 1.7 4.1 0.2 1 0.7 12.6 1.8 17 0.3 8-0.4 7.4-1.9 18.6-0.4 7-0.2 8.4-0.2 0.6-1 0.9-1.1-1.5-2.9-3.2-1-0.7-1.6-0.3-1.4 0.6-6.3 6.2-4.7 5.4-5 6-3.6 4.5-2.1 3.5z"/>
<path fill="#ff8000" d="M253.1 449.3l-21.4-11.4-19-10.5-14.8-8.6-14.3-9-12.6-8.6-15.2-11-2.2-2.4-2.5-3.6-1.1-2-2.1-5-0.5-2-0.2-2.4 0-4 0.6-11-0.7-10.6-0.1-6 0.2-18 0.4-14.4 0.9-15.6 1.4-12 0.9-5 1.1-5 2.2-7.3 0.5-0.1 0-1 0.1 1.4 0.4 0.6 6.3 3.4 3.7 2.7 9 2 19 3.8 29-4 6.6-2.1 6.2-2.4 12.5-3.4 0.8-0.6 0-1.4 7.3 0 1.6 23 2.6 24.4 4.7 16 5.7 13.1 5.6 7.3 1.4 1 1.6 0.3 1.4-0.3 1.6-1.2 1-1.7 0.4-0.2 0.1 0.3 0.4 1 0.2 7.4 0.5 7 1.9 18 0.2 8-0.3 7-2 19-0.6 14.6-0.4 0.3-3.4-3.8-1-0.5-1-0.3-1 0.1-1.4 0.6-6.2 6.1-4.7 5.5-5.3 6.3-3.4 4.6-2 3.2z"/>
<path fill="#ff7000" d="M253.1 448.8l-0.6 0-5.9-3-29.5-16-16.4-9.6-14.6-9-13.5-9-16-11.4-1.5-1.4-1-1.1-3.4-5.2-1-2-1.5-3.9-0.5-2.1-0.2-1.9 0-4.4 0.6-11-0.7-15.6 0.3-23.4 0.4-13.8 0.5-8.2 1.1-10.7 0.9-6.9 1.1-5.1 1.4-5.8 1-2.7 4.7 2.6 3.3 2.6 3 2 16 3.4 12 2.3 15-1.9 14-2.1 10-3.2 7.9-3.1 12.4-3.4 1-0.6 0-1.4 1.8 0 1.6 23.4 2.6 24.6 4.6 16 5.8 13 5.3 7 1.6 1.2 1.4 0.5 1.6-0.2 1-0.3 1.5-1.2 0.5 11 2 19.4 0.4 8.6-0.4 7.4-2 19-0.5 13-2.1-2-1.4-0.9-1-0.2-1 0-1.6 0.7-6.4 6.4-4.9 5.6-5 6-3.4 4.4z"/>
<path fill="#ff6000" d="M252.6 448.5l-0.6-0.1-2.3-1.2-10.3-5.4-23.8-13-16.3-9.6-14.5-9-14.1-9.4-14.7-10.6-1.7-2-3.7-5.4-1-2.3-1.2-3.3-0.5-2-0.2-2 0.1-4 0.7-11.4-0.7-16 0.4-27.6 0.7-15.4 1.2-12.6 1.6-10.4 1.1-4.6 1.2-4.2 2.2 1.2 3.8 3.2 5 3.3 14 3.1 14 2.4 14.6-1.7 14.4-2 14-4.7 10.4-4 3.6-1.1 5-1.1 1.3 20.6 2.3 24.6 3.7 13.4 0.8 2.6 5.7 13 5.7 7.4 1.1 1 1 0.6 1 0.3 1.4 0 1.6-0.4 0.2 0.5 0.6 11 1.9 18 0.3 8-0.4 7-1.9 18-0.5 11.6-0.2 0.1-1.6-1-1.4-0.3-1.6 0.2-1 0.4-0.7 0.6-6 6-4.8 5.4-8.5 10.5z"/>
<path fill="#ff5000" d="M252.1 448.1l-2-0.9-14-7.5-20-10.9-15-8.7-14.3-8.9-14.2-9.4-16.5-11.9-1.5-1.7-3.4-5-1.2-2.4-1.1-3-0.6-2.6-0.2-2 0.2-4 0.8-11.4-0.7-15.6 0.3-24.4 0.7-16.6 1-13 1.6-10.4 1-4.6 1.1-4.4 4.6 3.6 6.4 4.5 14.4 2.9 13.6 2 15.5-1.6 13.5-1.7 7.6-2.3 10-3.6 5.4-2.1 5-2.3 4.6-1 0.2 0.6 0.2 1.4 0.8 17 2.2 24.6 3.5 13.4 0.8 2.6 6 13.4 6.3 8.2 1 0.7 1 0.5 1.4 0.3 1.6 0 0.1 0.3 0.7 10.6 1.8 17.4 0.3 8-0.5 7.6-1.8 17-0.5 10.4-0.1 0.2-2-0.3-1.6 0.1-1.4 0.7-1 0.8-5.6 5.5-4.7 5.6-5.4 6.4-3.5 4.6-1.9 3z"/>
<path fill="#ff4000" d="M252.1 447.5l-0.4 0.2-1.6-0.7-30.4-16.5-17.9-10.3-14.7-9-14.4-9.6-16.5-11.8-1.5-1.8-3.3-4.8-0.9-2-1.1-3-0.7-2.4-0.2-2 0.1-4 1-12-0.7-15.6 0.3-23 0.6-16 1-13 1.5-11 1-5 0.8-3.1 6.6 5 4.4 2.9 12 2.1 16 2.3 29-2.9 6-1.7 6.5-2 10.5-4 5-2.1 4.6-1.5 0.2 2.6 0.6 14.4 2 25 3.3 13 1 3 5.9 13.3 6.2 8.3 1.2 0.9 1 0.5 2.7 0.6 0.2 0.4 0.6 10 1.8 17 0.3 8-0.5 7.6-1.8 17-0.5 9.4-0.2 0.4-1.6-0.1-1.2 0.3-1.8 0.8-6.2 6.2-10.2 12-3.5 4.4z"/>
<path fill="#ff3000" d="M251.6 447.3l-0.6 0-1-0.5-10.3-5.6-23.7-12.8-14.4-8.4-14.6-9-14.4-9.6-16.2-11.6-1.8-2-3-4.6-1-2-1.1-3-0.6-2.4-0.2-2 0.1-3.6 1-9.4 0.2-3.6-0.7-15 0.2-21.4 0.6-16 0.9-12.6 1.4-11 1.1-6 0.5-1.7 5.6 4.3 3 2 2.4 1.2 13.6 2.1 14.4 1.9 29-2.7 11-2.8 8.2-2.7 8.8-3.7 4-1.2 0.4 0.3 0.2 0.6 0.4 13.4 1.7 25 3.2 13 1 3 5.9 13.6 6.4 8.4 1.8 1.4 1 0.4 1.6 0.4 0.4 0.4 0.6 9.4 1.8 17 0.3 8-0.5 7.6-1.8 17-0.5 9-0.3 0.2-2 0.3-1.9 0.9-6.6 6.6-9.7 11.4-3.8 5z"/>
<path fill="#ff2000" d="M251.1 446.9l-1-0.3-14-7.5-20-11-14.4-8.4-14-8.6-14.6-9.6-16-11.5-2-1.9-2.9-4.3-1.2-2.6-1.1-3-0.6-3-0.2-2.4 1.5-15-0.6-11.6-0.1-5.4 0.3-21 0.5-15.6 0.6-9 0.8-8 1.2-8 0.4-1.6 0.4-1.4 5 3.7 6 3 12 1.7 16 2 29-2.5 8.4-1.9 7.7-2 5.9-2 6-2.4 4-1.3 0.3 2.3 0.2 10 1.4 23.4 0.3 1.6 2.9 12.4 1.2 3.6 5.9 13.4 6.4 8.6 2 1.4 2.5 1 0.6 9 1.8 17 0.2 8-0.4 7.6-1.7 16.4-0.6 9-0.4 0.3-2 0.6-1.1 0.7-6.6 6.4-9.9 11.6-3.8 5-1.9 3z"/>
<path fill="#ff1000" d="M251.1 446.3l-0.4 0.2-0.6-0.1-28.4-15.4-17.6-10-15-9.1-16-10.6-16-11.5-2-2-2.7-4-1.2-2.6-1-3-0.6-3-0.1-2.4 1.6-15-0.6-11.6-0.1-5.4 0.3-20 0.5-15.6 0.5-8.4 0.7-7.6 1.1-8 0.6-2.2 1.8 1.2 3.2 1.9 6 2.7 28 3.7 29-2.6 8.3-1.7 7.3-1.7 8-2.2 4.4-1.7 3.6-1 0 0.2 0.4 2 0.1 7 1.2 24 3 13.4 1.6 4.6 5.2 12 0.8 1.4 6.2 8 1.9 1.6 2.2 1 0.6 9 1.7 16 0.3 8.4-0.3 6.6-1.7 16-0.7 10-0.5 0.4-1.6 0.6-1.3 1-6.5 6.4-9.7 11.6-3.5 4.4z"/>
<path fill="#ff0000" d="M250.6 446.1l-1-0.2-5.9-3.1-25.8-14-15.6-9-13.8-8.6-15.1-10-16.1-11.4-2-2-2.8-4-1.1-2.6-1-3-0.5-2.4-0.2-3 0.3-3.5 1.2-8.5 0.3-3.6-0.6-10.4-0.1-6 0.2-19.6 0.5-14.4 1.1-15 0.9-7.6 0.5-2.6 5 2.6 6 2.7 13.6 1.8 14.4 1.6 29-2.3 16.6-3.5 15-4 0.1 6.3 1 24.4 2.8 13 1.5 4.6 6 13.5 6.5 8.5 1.5 1.3 2.3 1.1 0.7 9 1.6 15.6 0.3 8.4-0.3 6.6-1.7 16-0.7 10-1.6 0.7-1.1 0.7-6.5 6.6-10 11.7-3.7 4.7z"/>
<path fill="#ef0000" d="M250.1 445.8l-1.4-0.9-0.6-0.1-0.4-0.4-0.6-0.2-0.4-0.4-0.6 0-0.4-0.5-0.6-0.1-0.4-0.4-0.5 0-3.1-1.9-1.5-0.7-0.5-0.4-0.5 0-0.5-0.5-0.5-0.1-0.5-0.4-0.3 0-3.1-1.9-0.6-0.1-0.4-0.5-0.6-0.1-0.4-0.4-0.6 0-0.4-0.5-2.6-1.4-0.5-0.1-0.5-0.4-0.5-0.2-0.5-0.4-0.5 0-0.5-0.5-2-1.1-0.4-0.3-0.6-0.1-0.4-0.5-0.6-0.1-0.4-0.4-0.4 0-2.2-1.4-0.5-0.2-0.5-0.4-0.5 0-1.9-1.4-0.6-0.2-0.4-0.4-0.6 0-0.4-0.5-1.6-0.9-0.5-0.2-0.5-0.4-0.5 0-1.9-1.4-0.6-0.2-0.4-0.4-0.6 0-1-0.9-0.5-0.1-0.5-0.5-0.5-0.1-0.9-0.7-1-0.7-0.6 0-2-1.5-0.5-0.1-1.9-1.4-0.6 0-1-0.9-0.5-0.1-1.9-1.4-0.6-0.2-1-0.8-0.5-0.2-1.9-1.4-0.6 0-1-0.9-0.5-0.1-0.9-0.9-0.6-0.1-9-6-1-0.9-0.5-0.1-0.9-0.9-0.6-0.1-1-0.9-0.4-0.1-1-1-1.1-0.6-0.9-0.8-0.6-0.2-1-0.9-1-0.5-1-0.9-0.3-0.1-1.7-1.4-0.5-0.2-3.5-2.8-0.4-0.1-1-0.9-0.6-0.2-1.5-1.4-0.1-0.6-0.8-0.9-2-3-0.1-0.5-0.5-0.5 0-0.5-0.4-0.9-0.1-0.7-0.5-0.8-0.1-1.2-0.3-0.6-0.5-4.4 0.5-4.6 0.3-0.8 0.1-2.3 0.4-1.3 0.2-2.1 0.2-0.9 0.2-1.4 0-6-0.5-4.6-0.1-6 0.2-22.1 0.3-4.9 0.1-9.4 0.4-3 0.1-5.6 0.4-2 0.1-3.8 0.4-1.6 0.2-3 0.3-1 0.1-2.6 6.6 3.1 4.4 1.8 28 3.2 5.9-0.5 23.1-1.7 12.6-2.4 18.4-4.5 1 27.6 0.2 2 2.5 12 1.6 4.4 6 13.6 6.5 8.4 2.2 1.9 1.3 0.7 0.9 11.4 1.4 10.7 0.4 9.9-0.4 8.3-1.8 15.7-0.6 8.4-0.3 0.6-1.9 1.1-6.8 6.9-10.5 12.4-3 4z"/>
<path fill="#df0000" d="M250.1 443.7l-18-9.6-14.4-8-13-7.5-12.6-7.6-16-10.5-17.4-12.6-1.3-1.1-1.8-2.6-1.3-2.4-0.7-2.6-0.6-3-0.2-3 0.2-3.4 1.4-8.6 0.4-4-0.7-14.4 0.2-19.6 0.7-20 0.5-8 0.6-7 0.6-0.2 4 1.8 4.4 1.5 7.3 0.9 10.3 2.8 10.4 2.4 13.6-2.1 12.4-2.3 5.8-1.2 12.8-2.3 6.4-1.5 6-1.6 1.6-0.3 0.1 0.1 0.2 1 0.2 24.6 2.3 12.4 1.8 5.6 6.2 14 6.4 8.4 1.2 1.3 1.7 1.3 0.2 0.4 0.6 7.6 1.7 15 0.3 8-0.4 7-1.7 15.4-0.7 10.6-7.1 7-9.8 11.4-3.8 4.9z"/>
<path fill="#cf0000" d="M250.1 441.3l-17-9-14.4-8-12.6-7.2-11-6.7-12-7.7-11-7.5-12.4-9.1-1.6-1.9-1.2-2.4-0.8-2.6-0.4-2.4-0.1-3 0.3-5 1.3-7.6 0.4-4-0.7-14.4 0.1-17.6 0.7-22 0.6-10.4 0.1-1 0.3-0.3 1.7 0.7 4.7 4 13.6 3.4 14.4 2.9 15-2 14-2.2 7.6-2.9 7.2-3.2 13.2-2.8 0.5 0.4-0.3 22.4 1.8 12 2.2 6.6 5.9 13.4 1.3 2 5.3 7 2.5 2.6 0.2 0.4 0.5 6.6 1.6 14.4 0.4 8-0.3 7-1.8 17-0.7 10-0.3 0.6-4.9 5-4.8 5.4z"/>
<path fill="#bf0000" d="M250.6 438.8l-0.6 0.2-0.4-0.2-21-11.3-14.8-8.3-13.8-8.1-11-6.9-10.4-7-17.6-12.5-0.8-0.9-0.9-2-0.7-2.6-0.4-2-0.1-2.4 0.4-6 1.4-8 0.4-3.6-0.6-11-0.2-6 0.4-25.4 0.7-15.5 4.4 3.1 8.4 1.8 9.6 2.7 10 2.5 14.6-2.5 14.4-2.8 8-2.5 6.6-2.4 6-2.6 6-3 0.3 1.6-0.7 17.6 1.4 11.4 2.3 7 6.2 14 1.5 2.6 5.4 7 1.8 2 2.1 20 0.4 7-0.3 8-1.9 18-0.6 10.4-3.5 3.6-4.6 5.4z"/>
<path fill="#af0000" d="M251.6 435.9l-1.6 0.3-0.4-0.2-25.4-13.8-19.6-11.3-12.4-7.7-10.6-7-12.6-8.8-3.5-2.6-3-2.6-0.9-3.4-0.3-3.6 0.5-6 1.6-9.4 0.2-3-0.6-10-0.1-6 0.3-26 0.1-4 0.3-1.1 1.4 1.1 5.6 1.5 11.4 2.6 11 2.1 14.6-1.9 14.4-2.3 5.6-2 5.1-2 10.5-5 3.4-1.3 0.3 0.3-0.5 11 1.2 11 2.6 7.4 6.2 14 1.5 2.6 6.2 8 0.2 0.4 1.9 19 0.4 6 0 4.6-0.2 4.4-1.9 18.6-0.6 11.4-0.2 0.6-6.1 6.8z"/>
<path fill="#9f0000" d="M250.1 433.3l-15.8-8.5-14.2-7.9-12.3-7.1-10.7-6.6-14-9.1-12.4-8.8-3.1-2.5-2.5-3-0.4-3 0.1-3.6 0.6-4.4 1.5-9 0.3-3-0.7-14.6 0.2-22 13 2.2 13.4 1.9 29-2.9 6.6-1.7 6-1.8 5-1.7 5-2 0.4 2.6 0.6 7.4 2.8 8.6 6.4 14.4 1.6 2.6 4.6 6 0.1 0.4 0.6 7 1.4 12.6 0.4 5.4 0.1 4.6-0.2 5-2.1 20-0.6 12.4-0.1 0.6-7.6 8.7z"/>
<path fill="#8f0000" d="M250.1 430.3l-15.9-8.5-12.5-7-11-6.4-10-6.1-12.6-8-10.2-7.1-4.8-3.4-1.6-1.6-1.4-1.5-1.5-2.5-0.6-2 0.4-5 1.9-10.4 0.4-4-0.8-14 0.1-12.6 0.1-0.7 23 3.4 29-3 13-2.5 8.6-1.9 0.4 0 2.9 8.3 5.7 13 1.4 2.7 3 4.3 0.5 7.4 2 19 0.1 5-0.2 5-2.1 21-0.7 15.6-3 1.8z"/>
<path fill="#800000" d="M250.6 425.9l-0.6 0.2-16-8.6-14-7.8-12.4-7.4-10.6-6.5-10.4-6.9-6.7-4.7-3.3-3-1.6-2-1.1-2-0.7-2-0.3-2.4 0.2-2 1.8-9 0.5-4 0.1-2.6-0.7-11 0.2-1 18 1.1 13.6-0.5 15.4-0.8 13.6-1.7 11.4-1.9 0.6 0.5 3.4 7.9 1.9 3.4 0.6 9 1.7 15.6 0.4 6.4-0.1 8.6-2.1 20-0.6 13.4-0.2 0.6z"/>
</g>
<rect x="44.3" y="264.5" width="249" height="197.5" fill="none" stroke="#262626" stroke-opacity="0.55" stroke-width="0.8"/>
<path d="M52.8 462v3.2M52.8 264.5v-3.2M92.8 462v3.2M92.8 264.5v-3.2M132.8 462v3.2M132.8 264.5v-3.2M172.8 462v3.2M172.8 264.5v-3.2M212.8 462v3.2M212.8 264.5v-3.2M252.8 462v3.2M252.8 264.5v-3.2M44.3 462h-3.2M293.3 462h3.2M44.3 412.62h-3.2M293.3 412.62h3.2M44.3 363.25h-3.2M293.3 363.25h3.2M44.3 313.88h-3.2M293.3 313.88h3.2M44.3 264.5h-3.2M293.3 264.5h3.2" stroke="#262626" stroke-width="1.1" fill="none"/>
<g font-size="12.7" fill="#262626"><text x="52.8" y="481.3" text-anchor="middle">2</text><text x="92.8" y="481.3" text-anchor="middle">2.5</text><text x="132.8" y="481.3" text-anchor="middle">3</text><text x="172.8" y="481.3" text-anchor="middle">3.5</text><text x="212.8" y="481.3" text-anchor="middle">4</text><text x="252.8" y="481.3" text-anchor="middle">4.5</text><text x="38.7" y="466.6" text-anchor="end">0</text><text x="38.7" y="417.23" text-anchor="end">20</text><text x="38.7" y="367.85" text-anchor="end">40</text><text x="38.7" y="318.48" text-anchor="end">60</text><text x="38.7" y="269.1" text-anchor="end">80</text></g>
<text x="168.8" y="499" font-size="14" fill="#262626" text-anchor="middle">Frequency (THz)</text>
<text transform="translate(19.5 363.25) rotate(-90)" font-size="14" fill="#262626" text-anchor="middle">Incidence Angle (degrees)</text>
<rect x="300.2" y="458.91" width="10.7" height="3.44" fill="#00008f"/><rect x="300.2" y="455.83" width="10.7" height="3.44" fill="#00009f"/><rect x="300.2" y="452.74" width="10.7" height="3.44" fill="#0000af"/><rect x="300.2" y="449.66" width="10.7" height="3.44" fill="#0000bf"/><rect x="300.2" y="446.57" width="10.7" height="3.44" fill="#0000cf"/><rect x="300.2" y="443.48" width="10.7" height="3.44" fill="#0000df"/><rect x="300.2" y="440.4" width="10.7" height="3.44" fill="#0000ef"/><rect x="300.2" y="437.31" width="10.7" height="3.44" fill="#0000ff"/><rect x="300.2" y="434.23" width="10.7" height="3.44" fill="#0010ff"/><rect x="300.2" y="431.14" width="10.7" height="3.44" fill="#0020ff"/><rect x="300.2" y="428.05" width="10.7" height="3.44" fill="#0030ff"/><rect x="300.2" y="424.97" width="10.7" height="3.44" fill="#0040ff"/><rect x="300.2" y="421.88" width="10.7" height="3.44" fill="#0050ff"/><rect x="300.2" y="418.8" width="10.7" height="3.44" fill="#0060ff"/><rect x="300.2" y="415.71" width="10.7" height="3.44" fill="#0070ff"/><rect x="300.2" y="412.62" width="10.7" height="3.44" fill="#0080ff"/><rect x="300.2" y="409.54" width="10.7" height="3.44" fill="#008fff"/><rect x="300.2" y="406.45" width="10.7" height="3.44" fill="#009fff"/><rect x="300.2" y="403.37" width="10.7" height="3.44" fill="#00afff"/><rect x="300.2" y="400.28" width="10.7" height="3.44" fill="#00bfff"/><rect x="300.2" y="397.2" width="10.7" height="3.44" fill="#00cfff"/><rect x="300.2" y="394.11" width="10.7" height="3.44" fill="#00dfff"/><rect x="300.2" y="391.02" width="10.7" height="3.44" fill="#00efff"/><rect x="300.2" y="387.94" width="10.7" height="3.44" fill="#00ffff"/><rect x="300.2" y="384.85" width="10.7" height="3.44" fill="#10ffef"/><rect x="300.2" y="381.77" width="10.7" height="3.44" fill="#20ffdf"/><rect x="300.2" y="378.68" width="10.7" height="3.44" fill="#30ffcf"/><rect x="300.2" y="375.59" width="10.7" height="3.44" fill="#40ffbf"/><rect x="300.2" y="372.51" width="10.7" height="3.44" fill="#50ffaf"/><rect x="300.2" y="369.42" width="10.7" height="3.44" fill="#60ff9f"/><rect x="300.2" y="366.34" width="10.7" height="3.44" fill="#70ff8f"/><rect x="300.2" y="363.25" width="10.7" height="3.44" fill="#80ff80"/><rect x="300.2" y="360.16" width="10.7" height="3.44" fill="#8fff70"/><rect x="300.2" y="357.08" width="10.7" height="3.44" fill="#9fff60"/><rect x="300.2" y="353.99" width="10.7" height="3.44" fill="#afff50"/><rect x="300.2" y="350.91" width="10.7" height="3.44" fill="#bfff40"/><rect x="300.2" y="347.82" width="10.7" height="3.44" fill="#cfff30"/><rect x="300.2" y="344.73" width="10.7" height="3.44" fill="#dfff20"/><rect x="300.2" y="341.65" width="10.7" height="3.44" fill="#efff10"/><rect x="300.2" y="338.56" width="10.7" height="3.44" fill="#ffff00"/><rect x="300.2" y="335.48" width="10.7" height="3.44" fill="#ffef00"/><rect x="300.2" y="332.39" width="10.7" height="3.44" fill="#ffdf00"/><rect x="300.2" y="329.3" width="10.7" height="3.44" fill="#ffcf00"/><rect x="300.2" y="326.22" width="10.7" height="3.44" fill="#ffbf00"/><rect x="300.2" y="323.13" width="10.7" height="3.44" fill="#ffaf00"/><rect x="300.2" y="320.05" width="10.7" height="3.44" fill="#ff9f00"/><rect x="300.2" y="316.96" width="10.7" height="3.44" fill="#ff8f00"/><rect x="300.2" y="313.88" width="10.7" height="3.44" fill="#ff8000"/><rect x="300.2" y="310.79" width="10.7" height="3.44" fill="#ff7000"/><rect x="300.2" y="307.7" width="10.7" height="3.44" fill="#ff6000"/><rect x="300.2" y="304.62" width="10.7" height="3.44" fill="#ff5000"/><rect x="300.2" y="301.53" width="10.7" height="3.44" fill="#ff4000"/><rect x="300.2" y="298.45" width="10.7" height="3.44" fill="#ff3000"/><rect x="300.2" y="295.36" width="10.7" height="3.44" fill="#ff2000"/><rect x="300.2" y="292.27" width="10.7" height="3.44" fill="#ff1000"/><rect x="300.2" y="289.19" width="10.7" height="3.44" fill="#ff0000"/><rect x="300.2" y="286.1" width="10.7" height="3.44" fill="#ef0000"/><rect x="300.2" y="283.02" width="10.7" height="3.44" fill="#df0000"/><rect x="300.2" y="279.93" width="10.7" height="3.44" fill="#cf0000"/><rect x="300.2" y="276.84" width="10.7" height="3.44" fill="#bf0000"/><rect x="300.2" y="273.76" width="10.7" height="3.44" fill="#af0000"/><rect x="300.2" y="270.67" width="10.7" height="3.44" fill="#9f0000"/><rect x="300.2" y="267.59" width="10.7" height="3.44" fill="#8f0000"/><rect x="300.2" y="264.5" width="10.7" height="3.44" fill="#800000"/>
<rect x="300.2" y="264.5" width="10.7" height="197.5" fill="none" stroke="#262626" stroke-width="0.9"/>
<path d="M310.9 462h-2.4M310.9 441.66h-2.4M310.9 421.32h-2.4M310.9 400.98h-2.4M310.9 380.64h-2.4M310.9 360.3h-2.4M310.9 339.96h-2.4M310.9 319.62h-2.4M310.9 299.28h-2.4M310.9 278.94h-2.4" stroke="#262626" stroke-width="1" fill="none"/>
<g font-size="11.5" fill="#262626"><text x="314.6" y="466.2">0</text><text x="314.6" y="445.86">0.1</text><text x="314.6" y="425.52">0.2</text><text x="314.6" y="405.18">0.3</text><text x="314.6" y="384.84">0.4</text><text x="314.6" y="364.5">0.5</text><text x="314.6" y="344.16">0.6</text><text x="314.6" y="323.82">0.7</text><text x="314.6" y="303.48">0.8</text><text x="314.6" y="283.14">0.9</text></g>
<text transform="translate(52.7 450.8) scale(1 1.04)" font-size="22.5" font-weight="bold" fill="#fff">(c)</text>
<clipPath id="cd"><rect x="393.3" y="264.5" width="249" height="197.5"/></clipPath>
<g clip-path="url(#cd)">
<rect x="393.3" y="264.5" width="248.99999999999994" height="197.5" fill="#00008f"/>
<path fill="#00009f" d="M644 463.8l-52.3 0-0.1-8.6 0.5-0.4 0-0.6 1.5-1.4 0-0.6 1-1 0-0.4 1-1 0-0.6 0.5-0.4-0.4-0.6-1.1-0.1-0.5-0.3-1.1-0.1-0.7-0.5-1.3-0.2-0.2-0.2-1.2-0.2-0.4-0.4-1.2-0.1-0.3-0.3-1.1-0.2-0.4-0.4-2.2-0.5-0.5-0.5-0.9-0.1-0.4-0.3-1.2-0.2-0.3-0.4-0.7 0-0.4-0.5-1-0.1-0.4-0.4-0.6 0-0.5-0.4-1.1-0.2-0.3-0.4-0.7 0-0.4-0.4-2-0.7-0.4-0.3-0.6-0.1-0.5-0.5-0.5 0-0.6-0.4-2-0.7-0.3-0.3-0.7-0.2-0.3-0.4-0.7-0.1-0.3-0.3-0.7-0.1-0.4-0.5-0.6 0-0.4-0.4-0.6-0.1-0.4-0.5-0.6 0-0.4-0.4-0.6-0.1-0.4-0.5-0.6 0-0.4-0.4-0.6-0.1-0.4-0.5-0.6-0.1-0.3-0.3-0.7-0.2-0.3-0.4-0.7-0.1-0.3-0.3-0.7-0.2-1.4-0.9-0.5-0.5-0.5 0-0.5-0.4-0.5-0.2-0.4-0.4-0.6-0.1-1-0.9-0.6 0-0.4-0.4-0.6-0.2-1.9-1.4-0.5-0.1-0.4-0.3-1.2-0.6-0.4-0.5-0.6-0.1-0.9-0.8-0.5-0.2-2-1.4-0.6-0.1-1-0.9-0.4-0.1-1-0.9-0.6-0.1-1-0.9-0.4-0.1-1-0.9-0.6-0.1-0.9-0.9-0.5-0.1-3.1-2.3-0.5-0.2-0.9-0.8-0.5-0.2-1.5-1.4-0.5-0.1-3-2.3-1-0.7-1.6-1.4-0.4-0.1-4-3.4-0.6-0.1-1.9-1.9-0.5-0.2-2-1.8-1-0.6-2.6-2.4-1-0.6-2.4-2.4-1-0.6-3-2.9-2.6-2-5.4-5.5-7-8.6-6.6-7.1-7.8-8.3-7.2-8.1-2.3-2.9-2.1-3-1.4-2.4-0.6-1.8-0.8-4.2-0.2-5-0.1-16 0.3-19.6-0.3-22-0.7-11.4 26.2-0.2 114.6-0.1 9.4 0.2 40.1 0.1 0.1 149-0.1 13.4z"/>
<path fill="#0000af" d="M644 463.8l-52.1 0-0.3-8.6 0.5-0.4 0-0.6 1.5-1.4 0-0.6 1-1 0-0.4 1-1 0-0.6 0.5-0.4-0.2-0.6-2.9-0.6-0.4-0.4-1-0.1-0.6-0.3-1-0.2-0.6-0.4-2.4-0.6-0.6-0.4-0.8-0.1-0.6-0.4-1-0.1-0.3-0.4-1.1-0.2-0.3-0.2-2.3-0.7-0.3-0.3-2.1-0.7-0.4-0.3-2.2-0.7-0.3-0.3-3.1-1.2-0.4-0.4-0.6-0.1-0.5-0.3-3.1-1.3-1.4-0.8-0.6-0.1-0.3-0.4-0.7-0.1-0.3-0.3-0.7-0.2-0.3-0.4-0.7-0.1-0.3-0.3-0.7-0.2-0.3-0.4-0.7-0.1-0.3-0.3-0.7-0.2-0.3-0.4-1.7-0.7-4-2.3-1.4-0.7-2-1.3-0.6-0.1-1.9-1.3-0.5-0.2-2-1.4-1.6-0.7-1-0.8-0.4-0.2-5-3.3-0.6-0.2-1-0.8-0.4-0.2-0.9-0.8-4.1-2.6-1-0.9-0.6-0.2-12-9-8-6.5-7-6-3.5-3.2-1.5-1.2-4.8-4.8-7.6-9.3-14-15.7-6.6-8-2.3-3-1.7-2.6-1.1-2-0.8-2-0.8-4.4-0.2-7-0.1-13.6 0.4-16.4 0-7-0.3-17.6-0.5-12.4 24.4-0.2 114.6-0.1 12.4 0.3 0 1.6 0.4 0.4 0.2 0.6 0.3 0.4 0.1 0.6 0.4 0.4 1.2 2.9 0.4 0.5 0 0.6 0.5 0.4 0.1 0.6 0.3 0.4 0.1 0.7 0.4 0.3 0.2 0.7 0.3 0.3 0.1 1 0.5 0.6 0.1 0.6 0.3 0.4 0.1 1.1 0-7.4-0.4-0.7 0-2.7-0.4-0.3-0.1-0.6-0.1-2.5-0.4-0.5 0-0.4 6.9 0 0 9-0.2 1-0.3 0.4 0 8.6 0.5 0.4 0.1 2.7 0.3 0.3 0.1 0.6 0 2.5 0.5 0.5 0.1 3 0.4 0.4 0 2.7 0.4 0.3 0.1 1 1 1 0.1 0.7 0-0.7 0.4-0.4 0.3-1 0-33 21.8 0 0.1 149-0.1 13.4zM613.6 279.2l0-0.4 0 0.8zM616.6 296.2l0-2.4-0.5-0.6-0.1-3-0.4-0.4 0-2.6-0.6-0.5 0.4 1.1 0.2 3.5 0.3 0.5 0.1 4.4z"/>
<path fill="#0000bf" d="M644 463.8l-52 0-0.3-4.6-0.1-4 0.5-0.4 0-0.6 1.5-1.4 0-0.6 1-1 0-0.4 1-1 0-0.6 0.5-0.4 0-0.6-4.5-1.2-0.5-0.2-1.1-0.3-0.4-0.3-5.6-1.7-0.2-0.3-6.2-2.2-0.3-0.2-6.7-2.8-6.6-3-6-3.1-5.4-2.9-8.6-5-13-8.5-13-9.5-13.4-11-7.6-6.8-1-0.7-4.7-4.7-24-29-6-8-1.7-3-1-2.6-0.4-2-0.4-3-0.2-8 0-13 0.4-18.4-0.2-20.6-0.5-13.4 22.7-0.2 114.6-0.1 10 0.3 0 1 0.2 1 6.2 15 2 5.8 0.6 2.2 1 5.1 0.8 6.9 0.6 1.1 0.3-0.7 0.4-3 0.8-1.4-1.8-11.6-0.1-0.7-0.6-0.6-0.2-0.7-0.6-3-0.4-4-0.5-7-0.8-5.4 5.3 0-0.1 8-0.6 8.4 2.5 16.6 1.2 1.4 0.8 2 0.4 0.4 1.6-2.1 0.4-0.4 1-0.4 0.4-0.5 0-33.4 18.7 0 0.1 149-0.1 13.4zM616.6 301.8l0-0.2 0 0.3z"/>
<path fill="#0000cf" d="M594 462.3l-2 0.2-0.3-3.7-0.1-3.6 0.5-0.4 0-0.6 1.5-1.4 0-0.6 1-1 0-0.4 1-1 0-0.6 0.5-0.4 0.1-0.6-7.6-2.2-9.6-3.5-9.4-4-9.6-4.6-10-5.4-10-6.1-9-6-9-6.5-6.4-5-8-6.5-11.6-9.9-2.4-2.4-4.8-5.3-15.9-20-3.5-4.6-5.7-8-1.9-3-1.4-3-0.6-2.4-0.4-4-0.3-17.6 0.5-18.4-0.1-6-0.1-18.6-0.4-12.4 21-0.2 114.6-0.1 8.9 0.3 0.2 2 6.9 17.7 1.8 5.3 1.2 5 1.3 8 1.7 2.5 0.2-0.5-0.1-3 0.2-2 0.4-1 0.7-0.9 0.6-0.1 0.4 0.1 1.1 0.9 0.6 1 1.3 3.1 1-1.4 1-0.8 1.6-0.3 1.6 0.4 0.3-0.6 0-35.4 16.6 0 0.1 149-0.2 13-4.1 3.4-5.5 5-4.4 5.3-3.4 4.8-1.6 1.3-1.4 0.8-2 0.4-2-0.1-1.6-0.5-1.7-1-1.3-1.1-0.8-1.3-1.6-4.7-2.2 3.7-8 12.4-4.4 6.3-1.8 1.7zM615.5 280.4l-0.7-1.2-0.7-4-0.3-4.4-0.3-8 3.9 0-0.1 6.4-0.4 5.6-0.4 3.3-0.5 1.7zM615.5 459.4l-1 0-1-0.6-0.5-0.6-0.4-1 0-1 0.2-1 0.7-0.8 1-0.6 1 0 0.4 0.3 0.8 0.7 0.5 1 0 1-0.1 1-0.7 1z"/>
<path fill="#0000df" d="M593 461.8l-1 0.1-0.3-3.1-0.1-3.6 0.5-0.4 0-0.6 1.5-1.4 0-0.6 1-1 0-0.4 1-1 0-0.6 0.8-1-7.8-2.3-9.6-3.5-9.4-4-8.6-4.1-11-5.9-7.4-4.5-10-6.5-10.6-7.5-6.4-5-8.6-7-11.4-9.9-3.2-3.2-3.5-4-7.4-9.6-9.7-13-6.2-9-2.1-3.4-1.4-3-0.7-2.6-0.4-4-0.3-18 0.4-21-0.3-34.4 19.2-0.2 114.6 0 8.4 0.2 0.2 2 8.5 23.4 1.3 5 1.7 8.6 0.9 0.9 1.4 2.1 0.2-0.6-0.3-3.4 0.1-2.6 0.6-1.4 0.4-0.4 0.6-0.1 1 0.3 0.6 0.6 0.6 1 1.2 3.4 1.6-1.7 0.4-0.3 1-0.2 2 0.4 2.6 1.4 1.4 1.2 1.3 1.4 1.4 2 0.9 1.8 0.4 0.4 1-0.6 1.6-0.4 6.4 0 0.2 104.8-0.2 12.1-4.4 3.8-5.7 5.1-4.5 5.4-3.4 4.7-1 0.9-1.7 1-1.7 0.4-1.6-0.1-2-0.5-1.4-0.9-1-1-0.9-1.5-1.7-4.9-0.4-0.5-2.9 5-7.7 12-4.4 6.3-1 1.1-1 0.7-1 0.5zM615.5 277.4l-0.6-0.9-0.5-3.3-0.4-5 0-5.4 3 0-0.1 5.6-0.3 4.8-0.7 3.6zM615.5 458.9l-1 0.1-0.6-0.3-0.5-0.5-0.4-1-0.1-1 0.3-1 0.7-0.7 0.6-0.3 1 0.1 0.4 0.2 0.6 0.6 0.3 0.7 0.1 1-0.2 1-0.8 0.9z"/>
<path fill="#0000ef" d="M594 460.9l-2 0.3-0.3-2.4-0.1-3.6 0.5-0.4 0-0.6 1.5-1.4 0-0.6 1-1 0-0.4 1-1 0-0.6 0.9-1-7.9-2.4-9.6-3.4-9.4-4-8.6-4.1-10-5.4-8.4-5-8.6-5.5-8.4-6-8-6-7.6-6-14.4-12.5-2-1.9-4.6-5.2-4.4-5.6-12.6-18-5.4-8.4-2-3.6-1.4-3.4-0.5-3-0.3-5-0.2-12.6 0.1-10 0.4-11.4-0.2-37 17.5-0.2 114.6 0 7.9 0.2 0.1 2 8.4 24 1.6 5.4 1.6 8 0.2 0.6 1.2 0.8 1.4 1.9 0.3-1.3-0.2-3.4 0.1-2.6 0.4-0.9 0.4-0.5 0.6-0.2 0.4 0 0.9 0.6 0.6 1 1.5 4.1 1.6-1.5 1-0.4 1-0.1 1 0.3 1.4 0.8 1.6 1 1.3 1.4 1.2 1.4 1.1 2 2.8 7.9 2-0.6 6 0 0.2 97.3-0.2 11.3-5 4.2-5.5 4.9-4.5 5.6-3.4 4.7-1 0.9-1.6 0.8-1.4 0.3-2-0.1-1.6-0.5-1.4-1.1-0.9-1-0.5-1-2.2-6.7-0.4 0.4-3.4 5.7-8.3 13-4.3 6-1 0.9zM615.5 274.4l-0.6-1.1-0.3-3.1-0.3-7.4 2.4 0-0.2 7.5-0.6 3.4zM615.5 458.5l-1 0.1-0.6-0.3-0.6-1.1 0.1-1.4 0.5-0.9 0.6-0.3 0.4 0 0.7 0.2 0.5 0.4 0.4 0.7 0.1 0.9-0.1 0.6-0.6 0.8z"/>
<path fill="#0000ff" d="M593.5 460.4l-1.6 0.2-0.2-1.8-0.2-3.6 0.5-0.4 0-0.6 1.5-1.4 0-0.6 1-1 0-0.4 1-1 0-0.6 1-1-6-1.8-7.6-2.5-7.4-3-9-4-9-4.5-6.6-3.5-8.4-5.1-8.6-5.5-8.4-6-10.6-8-8-6.5-11.4-10-3.1-3-3.5-4-4.3-5.6-3.5-5-7-11-6.1-10-2.5-5-1-3-0.5-4.4-0.3-15 0.1-10.6 0.4-11.4 0-37 15.7-0.2 114.6 0 7.3 0.2 0.2 2 7.9 23.4 2 7.4 2 8.4 1 0.3 0.6 0.3 2 2.2 0-1-0.4-5 0.1-2 0.3-1 0.4-0.7 0.6-0.2 0.4 0 1 0.9 0.6 0.9 1.4 4.4 1.6-1.4 1-0.4 1 0.1 1.4 0.5 1.3 0.9 1.3 1 1.2 1.4 0.9 1.6 0.6 1.4 2.6 7.6 1.7 5.4 0.4-0.5 1-0.3 6 0 0.2 91.4-0.2 10.4-5.3 4.6-5.7 5-4.4 5.5-3.6 4.8-1 0.8-1.4 0.8-2 0.2-1.6-0.3-1.4-0.8-1-1-0.9-1.6-2.7-7.9-4.2 7.5-8.4 13-4.2 6-1.2 0.9zM615.5 271l-0.6-2.2-0.2-6 1.6 0-0.3 6.4zM615.5 458.1l-0.6 0.1-0.4-0.1-0.6-0.3-0.2-0.6-0.1-1 0.2-0.4 0.7-0.7 0.4-0.1 0.6 0.1 0.5 0.7 0.2 0.4-0.1 1z"/>
<path fill="#0010ff" d="M593 460l-1 0.1-0.2-1.9-0.1-3 0.5-0.4 0-0.6 1.5-1.4 0-0.6 1-1 0-0.4 1-1 0-0.6 0.9-1-7.6-2.3-8.4-3-7.6-3.1-6.4-2.9-8-4-7.6-4.1-7.4-4.4-9.6-6.2-10.4-7.4-8.6-6.5-8.4-7-11-9.5-3.1-3-4.2-5-3.5-4.6-3.1-4.4-6.9-11-6.5-11-2.4-5-0.9-3.6-0.5-8.4-0.1-11 0-9 0.5-12 0-37 15.1-0.2 114.6 0 6.9 0.2 0.1 2 0.2 0.4 0.2 1.1 0.3 0.5 0.3 1 0.2 0.4 3.1 9.6 0.1 0.9 0.4 0.5 0.2 1.1 0.2 0.5 0.2 1 0.3 0.4 2.1 6.6 0.1 1 0.3 0.4 2 7.6 1.8 7.5 1.4 0 1 0.7 1.6 1.4 0.1-1.2-0.4-5.4 0.2-2 0.4-1 0.5-0.6 0.6 0 0.6 0.3 0.5 0.7 0.8 1.6 1.1 4 1.6-1.4 1-0.1 1.4 0.1 1 0.5 1.6 1.3 1.7 2 1 2 2.6 8 2.7 10.2 0.4 0.5 0.6-0.4 0.4-0.1 6 0 0.2 85.4-0.2 9.8-4.5 3.6-6.9 6.4-3.6 4.2-4 5.4-1.4 1.5-1 0.4-1.6 0.3-2-0.3-1-0.6-1.3-1.3-0.5-1-0.5-1.4-2.1-7-0.6-0.6-5.1 9-8.1 12.6-3.9 5.4-0.9 0.9zM615 457.8l-0.4-0.2-0.6-0.8 0.1-0.6 0.3-0.4 0.6-0.4 0.6 0.4 0.3 1-0.3 0.7z"/>
<path fill="#0020ff" d="M592.5 459.8l-0.6 0.1-0.1-0.7-0.2-4 0.5-0.4 0-0.6 1.5-1.4 0-0.6 1-1 0-0.4 1-1 0-0.6 0.9-1.1-7.6-2.3-8.4-3-8.6-3.5-6.4-3-9-4.5-8-4.5-7.5-4.5-7.1-4.6-8.4-6-10-7.6-8.5-6.8-11.5-10-3-3-4.3-5-3.4-4.6-3-4.4-7.4-12-6.1-10.6-2-4-1-3.4-0.5-6-0.2-14 0.1-10 0.4-11 0-37 14.8-0.2 114.6 0 6.7 0.2 0.1 2 7.3 23 4.9 18.2 0.7-0.2 0.7 0 1 0.7 1.6 1.3 0.2 0 0.1-1.6-0.4-6 0.3-2 0.2-0.4 0.6-0.4 0.4 0.1 0.6 0.3 0.7 1 0.8 2 0.9 3.2 1.6-1.2 1-0.2 1 0.1 1.2 0.5 1.2 1 1.8 2 1 2 2.6 8 3.1 11.6 1.5 4.1 0.3 0.3 0.3 1.1 0.4 0.5 0 0.5 5 0.1 0.2 77.4-0.2 9.4-5.9 5-5.6 5-4.5 5.6-3.2 4.4-1.2 1.2-1 0.5-1.6 0.2-1.4-0.1-1.6-0.8-0.9-1-0.8-1.4-2.5-8-0.2-0.6-0.6-0.4-4.8 8.4-8 12.6-3.5 5-1.7 2-1 0.6zM615 457l-0.3-0.2 0.1-0.6 0.2-0.1 0.3 0.7z"/>
<path fill="#0030ff" d="M593.5 459.4l-1.6 0.3-0.2-1.5-0.1-3 0.5-0.4 0-0.6 1.5-1.4 0-0.6 1-1 0-0.4 1-1 0-0.6 0.9-1 0-0.1-7.6-2.3-7.4-2.7-8-3.2-7-3.1-8-4-7.6-4.1-7.4-4.4-7.9-5.1-10-7-9.9-7.4-8.6-7-11.6-10-2.6-2.6-3.8-4.4-3.9-5-2.4-3.6-8.2-13.4-6-10.6-2-4-1-3.4-0.4-6-0.2-14 0.1-10 0.4-11 0-37 14.4-0.2 114.6 0 6.5 0.2 0.1 2 7.4 23.4 4.6 17.6 0.4 0.8 0.6-0.4 0.8 0 1 0.6 1.6 1.3 0.4 0.1-0.4-7.4 0.3-2 0.1-0.6 0.6-0.5 0.4 0 0.6 0.4 0.5 0.7 0.7 1.4 0.8 3 0.4 1 1.6-1.1 1-0.2 1 0.1 1 0.5 1 0.7 1.8 2 1.2 2.6 2.4 7.4 3 11.6 2.7 7.4 5.3 8.9 0.2 67.7-0.2 9.2-6 5-5.7 5.2-4.5 5.6-3.3 4.4-0.9 0.9-1.6 0.7-1.4 0.2-1.6-0.4-1-0.6-1-1.1-0.6-1.1-2.5-8-0.3-0.9-0.6-0.4-5 8.7-8 12.6-4.4 6.2-1 0.9z"/>
<path fill="#0040ff" d="M593 459.4l-1 0.1-0.3-4.3 0.5-0.4 0-0.6 1.5-1.4 0-0.6 1-1 0-0.4 1-1 0-0.6 0.9-1 0-0.1-7.6-2.3-7.4-2.7-8-3.2-7-3.1-8-4-7.6-4.1-7.4-4.5-7.8-5-10.1-7-9.9-7.4-8.5-7-11.6-10-2.7-2.7-3.7-4.3-2.8-3.6-3.1-4.4-8.2-13.6-6.2-11-2-4-1-3.4-0.4-6-0.2-14 0.1-10 0.4-11 0.1-37 14-0.2 114.6 0 6.3 0.2 0.2 2 7.2 23.4 4.9 18.6 0.4 0.4 0.7-0.4 0.7-0.1 1 0.5 1.6 1.2 0.4 0.1 0.2-0.7-0.5-5.6 0-2 0.3-1.5 0.6-0.6 0.4-0.1 0.6 0.3 0.8 1.5 0.6 1.4 0.6 2.6 0.4 0.6 1.6-1.1 1.4-0.1 1 0.4 1 0.6 1.6 1.6 1 1.4 0.6 1.6 2.4 7.4 3 11.6 2.6 7.4 5.8 9.8 0.2 66.8-0.2 8.9-6 5.1-5.9 5.4-4.5 5.6-3.3 4.4-1.2 1-1.1 0.5-1.4 0.1-1.6-0.4-1-0.6-0.9-1-0.5-1-2.5-8-0.5-1.3-0.6-0.3-5.2 9-8.2 12.9-4 5.7-1.1 1z"/>
<path fill="#0050ff" d="M592.5 459.3l-0.6-0.1-0.3-4 0.5-0.4 0-0.6 1.5-1.4 0-0.6 1-1 0-0.4 1-1 0-0.6 0.9-1 0-0.2-7-2.1-8-2.8-8-3.3-6.9-3-7.7-3.8-8-4.4-7.3-4.4-7.8-5-10.1-7-9.9-7.4-8.6-7-11.5-10-2.8-2.7-3.7-4.3-3.1-4-2.7-4-8.1-13.6-6.1-11-1.9-4-1-3.4-0.4-6-0.3-14.6 0.1-9.4 0.4-11 0.1-37 13.7-0.2 114.6 0 6.2 0.2 0.1 2 7.1 23.4 5 19.2 0.6 0.5 0.4-0.5 1-0.2 1 0.4 1.6 1.1 0.4 0 0.3-0.9-0.5-7 0.5-2 0.3-0.4 0.4-0.1 0.6 0.3 0.7 1.2 0.6 1.4 0.7 2.8 0.4 0.7 1.6-1.1 1.4-0.1 1.6 0.7 1.6 1.6 1 1.4 0.7 1.6 2.3 7.4 2.9 11.6 2.6 7.4 6.3 10.8 0.2 65.8-0.2 8.7-12 10.5-4.4 5.5-3.5 4.7-1.1 0.9-1 0.4-1.4 0.1-1-0.2-1.4-0.6-0.9-1-0.5-1-2.5-8-0.7-1.7-0.6 0-5.4 9.1-8 12.6-4.6 6.3-1 0.7z"/>
<path fill="#0060ff" d="M593.5 458.9l-1.6 0.3-0.3-4 0.5-0.4 0-0.6 1.5-1.4 0-0.6 1-1 0-0.4 1-1 0-0.6 1-1-0.1-0.2-7-2.2-8-2.8-8-3.2-6.8-3-7.8-3.9-8-4.3-7.2-4.4-7.8-4.9-10-6.9-8.7-6.6-9.9-8-11.6-10-2.5-2.6-3.7-4.2-3-3.8-2.7-4-8-13.4-6.4-11.6-1.8-4-1-3.4-0.4-6-0.2-14.6 0.1-9.4 0.4-11 0.1-37 127.9-0.2 6 0.2 0.1 2 7.2 24 5.1 19.7 0.6 0.3 0.4-0.6 1-0.5 1 0.4 1.6 1 0.4 0 0.3-0.3 0.1-1-0.5-7 0.3-1.6 0.4-0.5 0.4-0.2 0.9 0.7 0.7 1.4 1 3.8 0.2 0.4 0.2 0.1 1.6-1 1.4 0 1.6 0.7 1.4 1.5 0.8 1.1 0.7 1.6 2.4 8 2.8 11 2.7 8 6.6 11.1 0.2 64.9-0.2 8.5-12 10.5-4.4 5.5-3.6 4.8-1 0.8-1 0.4-1.4 0.2-1-0.2-1.1-0.5-1-1-0.5-1-2.7-8.6-0.7-1.4-0.6 0.1-0.4 0.5-5.2 8.8-8 12.6-4.2 6-0.6 0.5z"/>
<path fill="#0070ff" d="M593 458.9l-1 0.1-0.3-3.8 0.5-0.4 0-0.6 1.5-1.4 0-0.6 1-1 0-0.4 1-1 0-0.6 1-1-0.1-0.3-7-2.1-8-2.8-8-3.2-6.7-3-7.9-3.9-8-4.4-7.2-4.3-7.8-4.9-10-7-8.7-6.5-9.8-8-11.6-10-2.9-2.9-3.6-4.1-2.7-3.6-2.8-4-7.5-13-6.6-12-1.8-4-1-3.4-0.4-6-0.2-14.6 0.1-9.4 0.4-11 0.1-37 127.6-0.2 5.9 0.2 0.1 2 7 24 5.4 20.9 0.6 0 0.8-0.9 0.6-0.4 1 0.3 1.6 0.8 0.4-0.1 0.5-0.6-0.5-8 0.4-1.6 0.6-0.4 0.6 0.3 0.9 1.7 1.1 4 0.4 0.3 1.6-0.9 1.4 0 1.6 0.8 1.2 1.2 0.7 1 0.6 1.6 2.4 8 2.9 11.4 2.5 7.6 7.1 12.1 0.2 63.9-0.2 8.2-12.1 10.8-4.5 5.4-3.4 4.6-1 0.9-1 0.5-1.4 0.1-1-0.2-1-0.5-0.9-0.8-0.6-1-2.7-8.6-0.8-1.6-0.6 0.2-0.4 0.3-5.1 8.7-8.3 13-4.2 5.8-1 0.9z"/>
<path fill="#0080ff" d="M592.5 458.8l-0.6 0.1-0.3-3.7 0.5-0.4 0-0.6 1.6-1.4-0.1-0.6 1.1-1-0.1-0.4 1-1 0-0.6 1-1-0.1-0.3-7-2.1-8-2.9-8-3.1-6.6-3-8-4-8-4.3-7.1-4.3-7.8-5-10.1-6.9-8.6-6.5-9.9-8-11.5-10-3-2.9-3.5-4.1-2.8-3.6-2.7-4-7.1-12.4-6.8-12.6-1.8-4-0.9-3.4-0.4-6-0.2-14.6 0.1-9.4 0.4-11 0.1-37 127.2-0.2 5.7 0.2 0.1 2 7 24 3.3 13.4 2.3 8.7 0.6-0.3 0.6-0.8 0.8-0.6 1 0.1 1.6 0.8 0.4-0.2 0.6-0.6-0.5-8.1 0.3-1.4 0.2-0.4 0.4-0.3 0.6 0.3 0.8 1.4 1.2 4.4 0.4 0.1 1.6-0.8 1-0.1 1.4 0.7 1.4 1.1 0.9 1.6 0.6 1.4 2.2 7.6 2.8 11.4 2.7 8 7.4 12.6 0.2 63-0.2 8-12.3 11-4.5 5.4-3.3 4.6-0.9 0.7-1 0.5-1.4 0.2-1-0.3-1-0.5-0.7-0.6-0.6-1-2.5-8-0.9-2-0.3-0.4-1 0.4-5.2 9-8.4 12.9-4.3 6.1-1.1 0.8z"/>
<path fill="#008fff" d="M593.5 458.4l-1.6 0.3-0.2-3.5 0.5-0.4 0-0.6 1.5-1.4 0-0.6 1-1 0-0.4 1-1 0-0.6 0.9-1-0.1-0.3-7-2.1-8-2.9-7.9-3.1-6.7-3-8-4-8-4.4-7-4.2-7.9-5-10-7-8.7-6.4-9.2-7.6-12.2-10.4-2.5-2.6-3.9-4.4-2.8-3.6-2.4-3.4-4.9-8.6-9.1-17-1.8-4-0.9-3.4-0.4-6.6-0.2-14.4 0.1-9.6 0.4-10.4 0.1-37 126.9-0.2 5.5 0.2 0.2 2 6.8 24 3.3 13.4 2.6 9.9 1.6-1.8 0.4-0.3 1 0.1 1.6 0.5 0.4-0.2 0.6-0.7 0.1-0.9-0.5-7.6 0.4-1.4 0.4-0.4 0.6 0.2 0.7 1.2 1.3 4.8 0.4 0 1.6-0.8 1 0 1.1 0.4 1.3 1.2 1 1.4 0.5 1.4 2.2 7.6 2.7 11.4 2.1 6 0.5 2 8 13.5 0.2 62.1-0.2 7.8-12.4 11.1-4.6 5.5-3.3 4.6-0.7 0.5-1 0.5-1 0.2-1-0.1-1-0.4-1-0.8-0.5-0.9-2.6-8-0.9-2.1-0.4-0.5-1 0.4-5.4 9.2-8 12.4-4.2 6z"/>
<path fill="#009fff" d="M593 458.4l-1 0.2-0.2-3.4 0.5-0.4 0-0.6 1.5-1.4 0-0.6 1-1 0-0.4 1-1 0-0.6 0.9-1-0.1-0.4-6.8-2-8.2-2.9-7.8-3.1-6.7-3-8.1-4-8-4.4-7-4.2-7.8-5-9.4-6.4-9.3-7-9.3-7.6-12.2-10.5-2-1.9-4-4.6-3.1-4-2.4-3.4-4.3-7.6-9.5-18-1.8-4-0.9-3.4-0.4-6.6-0.2-14.4 0.2-9.6 0.3-10.4 0.2-37 126.5-0.2 5.4 0.2 0.1 2 6.7 24 3.3 13.4 2.9 11.2 1-1.6 1-0.9 0.6-0.1 2 0.4 0.4-0.3 0.6-0.8 0.2-1.3-0.5-7.6 0.3-1 0.4-0.5 0.6 0.2 0.7 1.3 1.3 4.7 2-0.8 1.4 0.2 1.6 1 1.2 1.9 2.5 8.6 2.7 11.4 2 6 0.6 2 8.4 14.5 0.2 61.1-0.2 7.5-1 1.1-5.7 4.8-5.7 5.2-4.8 5.8-3.2 4.5-0.7 0.5-0.9 0.5-1 0.2-1-0.1-1-0.4-1-1-0.5-1.2-2.6-8-0.9-1.9-0.4-0.3-1 0.4-0.4 0.4-5.2 9-8 12.4-4.2 6-0.8 0.7z"/>
<path fill="#00afff" d="M592.5 458.4l-0.6 0-0.2-3.2 0.5-0.4 0-0.6 1.5-1.4 0-0.6 1-1 0-0.4 1-1 0-0.6 0.9-1-0.1-0.4-6.7-2-8.3-3-7.7-3-6.7-3-8.1-4-6.5-3.6-7.7-4.4-8.3-5.4-9.7-6.6-9.9-7.5-8.7-7.1-12.1-10.4-2.2-2-4-4.6-3.1-4-2-3-4-7-9.9-19-1.7-4-1-3.4-0.3-7-0.2-14 0.1-9.6 0.4-10.4 0.1-37 126.2-0.2 5.2 0.2 0.1 2 6.7 24 3.1 13.4 3.3 12.5 0.6-0.2 0.5-1.7 0.9-1 0.6-0.2 2 0.1 0.4-0.3 0.6-0.8 0.2-1.8-0.4-7.6 0.2-0.6 0.4-0.7 0.6 0.2 0.6 1.1 1.4 5 1.4-0.7 1.6 0 1.4 0.8 0.9 0.9 0.5 1 2.5 8.6 2.6 11.4 2.7 8.6 8.8 14.8 0.2 60.2-0.2 7.3-1 1.1-6 5-5.5 5-4.9 6-3 4.2-0.6 0.5-1 0.6-1 0.2-1-0.1-1-0.4-0.9-1-0.5-1-2.5-8-1.1-2.3-0.4 0-1.1 0.3-0.5 0.5-5.2 9.1-8 12.4-4.2 6-1 0.8z"/>
<path fill="#00bfff" d="M592 458.3l-0.2-3.1 0.5-0.4 0-0.6 1.5-1.4 0-0.6 1-1 0-0.4 1-1 0-0.6 1-1-0.2-0.5-6.6-1.9-8.4-3-7.6-3-7.4-3.4-7.4-3.6-8.2-4.5-7.4-4.4-7-4.5-9.6-6.6-10-7.5-8.6-7.1-12.2-10.4-2.2-2.1-3.5-3.9-3.5-4.6-2-3-3.7-6.4-10-19.6-1.7-4-0.9-3.4-0.4-7-0.2-14 0.1-9.6 0.4-10.4 0.2-37 125.8-0.2 5.1 0.2 0.1 2 6.5 24 3.1 13.4 3.6 13.8 0.6 0.8 1-3.4 0.4-0.7 0.6-0.3 2-0.1 0.4-0.4 0.6-0.9 0.3-1.2-0.3-8.6 0.4-1 0.6 0.2 0.5 0.8 1.5 5.4 1.4-0.8 1.6 0 1.4 1 1.1 1.4 2.4 8.6 2.6 11.4 2 6 0.6 2.6 9.3 15.7 0.2 59.3-0.2 7.1-1.3 1.3-5.7 4.8-5.7 5.2-4.7 5.8-3.1 4.2-0.5 0.6-1 0.5-1 0.2-1-0.1-1-0.4-0.7-0.8-0.5-1-2.5-8-1.2-2.4-0.1-0.2-0.4 0.1-1.4 0.5-5.6 9.6-8 12.4-4.3 6-1.3 0.9z"/>
<path fill="#00cfff" d="M593 457.9l-1 0.2-0.2-2.9 0.5-0.4 0-0.6 1.5-1.4 0-0.6 1-1 0-0.4 1-1 0-0.6 1-1-0.2-0.5-6.5-1.9-8.5-3-7.5-3-7.5-3.5-7.3-3.5-8.3-4.5-7.4-4.5-7-4.5-9.6-6.5-10.4-8-8.2-6.6-12.1-10.4-2.3-2.2-3.4-3.9-3.6-4.5-2-3-3.6-6.4-9.8-19.6-1.7-4-0.9-3.4-0.4-8-0.2-13.6 0.6-19.4 0.1-37 125.5-0.2 4.9 0.2 0.1 2 6.4 24 3.2 14 4.4 16.2 1-3.4 0.8-1.8 0.6-0.6 1.6-0.3 0.4-0.5 1-2.2-0.3-8.4 0.3-1.3 0.6 0.1 0.4 0.8 0.6 1.5 1 3.9 1.4-0.7 1-0.1 1.6 0.8 1.1 1.4 2.4 8.6 2.7 12 1.8 5.4 0.6 2.6 9.8 16.7 0 65.2-1.4 1.5-5.6 4.6-5.9 5.4-4.5 5.6-3.3 4.4-1.3 1-1 0.2-1-0.1-1-0.5-0.5-0.6-0.5-1-2.6-8-1.1-2.4-0.3-0.4-2 0.7-5.4 9.5-8 12.4-4 5.8-0.6 0.5z"/>
<path fill="#00dfff" d="M592.5 457.9l-0.6 0-0.2-2.7 0.5-0.4 0-0.6 1.5-1.4 0-0.6 1-1 0-0.4 1-1 0-0.6 1-1-0.2-0.6-6.3-1.8-8.6-3-6.3-2.6-8.8-3.9-7.2-3.5-7.4-4-8.4-5-7-4.5-8.1-5.5-9.4-7-7.6-6-9.9-8.5-6.3-5.5-3.7-4-3-3.6-3.6-5.1-3.5-6.3-9.9-20-1.4-3.6-0.9-3.4-0.4-8-0.1-13.6 0.5-19.4 0.2-37 125.1-0.2 4.8 0.2 0 2 6.3 24 3.2 14 4.7 17.4 0.4-0.5 0.8-2.5 0.8-1.5 1.4-1.5 1-1.3 1-2.3-0.2-8.4 0.2-1.3 0.6 0 0.4 0.9 0.6 1.5 1 3.8 1.4-0.7 1 0 1.5 0.8 1 1.6 2.2 8 2.6 12 2.6 8.4 10.1 17.2 0 64-1.4 1.6-5.7 4.8-5.9 5.2-4.6 5.8-3.3 4.4-1.1 0.8-1 0.2-1-0.1-1.3-0.9-0.6-1-2.5-8-1.1-2.4-0.5-0.6-2 0.7-5.4 9.4-8 12.5-4.2 6-0.8 0.7z"/>
<path fill="#00efff" d="M592 457.8l-0.2-2.6 0.5-0.4 0-0.6 1.5-1.4 0-0.6 1-1 0-0.4 1-1 0-0.6 1-1-0.2-0.6-6.2-1.8-8.6-3-6.3-2.6-8.9-3.9-7.1-3.5-6.5-3.6-8.6-5-7.8-5-8-5.4-7.5-5.6-7.1-5.4-9-7.6-11-9.7-5-5.7-3.5-5-3.5-6.2-9.6-19.8-1.9-4.6-0.8-3-0.4-7-0.2-15 0.2-10 0.3-9.4 0.3-37 124.7-0.2 4.6 0.2 0.1 2 6.2 24 3 14 5.1 18.6 0.4 0.9 1-3.3 0.7-1.2 1.3-1.8 2-5 0.2-1.2-0.3-4 0-3 0.1-1.4 0.6-0.1 1 2.3 1 3.7 1.4-0.6 1 0.1 1 0.5 1.1 1.5 2.4 8.4 2.4 11.6 1.7 5.4 0.8 3 10.6 18.2 0 62.8-1.4 1.6-5.9 5-5.7 5-4.8 6-3.2 4.3-0.4 0.4-1 0.5-1.6-0.1-1-0.5-0.5-0.6-2.7-8.6-1.4-3-0.4-0.2-2 0.8-0.4 0.4-5.2 9-8.4 13-4 5.7-1 0.7z"/>
<path fill="#00ffff" d="M593 457.4l-1 0.2-0.1-2.4 0.5-0.4-0.1-0.6 1.6-1.4-0.1-0.6 1.1-1-0.1-0.4 1.1-1-0.1-0.6 1-1-0.2-0.7-6.1-1.7-8.6-3-7.5-3-8.8-4-7-3.6-9-4.9-7.5-4.5-5.4-3.6-6.7-4.5-9.5-6.9-9.4-7.6-6.6-5.4-8.5-7.5-2-1.9-4.9-5.6-3.5-5-3.6-6.5-9.6-20.1-1.6-4-0.9-3.4-0.4-9.6-0.1-13.4 0.5-18 0.2-22.6 0.4-14.4 124.1-0.2 4.4 0.2 0.1 2 6.2 24.4 2.9 13.6 5.8 21.9 1.6-4.4 1.4-2.5 0.6-1.2 0.6-2.8 0.8-2.3 0.2-1.7-0.2-6.6 0.1-1 0.5-0.5 0.4 0.9 0.6 1.4 1 3.5 1.4-0.5 1 0.1 1 0.7 0.7 1 2.4 8.4 2.3 11.6 2.5 8.4 11.1 19.1 0 61.7-1.7 1.8-5.7 4.8-5.7 5.2-4.9 5.8-3 4.2-0.4 0.5-1 0.5-1.6 0-0.8-0.6-0.5-0.4-2.8-8.6-1.3-3-0.6-0.4-2.2 1-5.6 9.4-8 12.6-4.2 5.8z"/>
<path fill="#10ffef" d="M592.5 457.4l-0.6 0.1-0.1-2.3 0.5-0.4 0-0.6 1.5-1.4 0-0.6 1-1 0-0.4 1-1 0-0.6 0.9-1-0.2-0.7-7.4-2.3-7.2-2.5-7.5-2.9-6.7-3-6.2-3.1-7.6-3.9-7-4.1-8-4.9-8.8-6-7.6-5.6-9-7-8.4-7-9.2-7.9-2-2-4.8-5.5-3.5-5-3.5-6.6-9.6-20-1.6-4-0.8-3.4-0.4-10-0.1-14 0.5-17 0.3-24.6 0.5-12.4 123.6-0.2 4.3 0.2 0.1 2 5.8 23.4 3.2 15 6 22.7 0.6-0.2 0.9-2.9 1.5-3.2 0.6-1.4 0.8-4.4 0.8-2.6 0.1-1.4-0.3-5.6 0.1-1 0.5-1 0.4 0.8 0.6 1.3 1 3.4 1-0.4 1 0 1 0.6 0.7 0.9 0.4 1 2 7.4 2.3 11.6 2.5 9 11.5 19.4 0 60.5-1.9 2.1-5.5 4.6-5.9 5.4-4.7 5.6-3.1 4.4-0.5 0.4-0.8 0.5-1.6-0.1-1-0.7-0.4-0.7-2.6-8.1-1.4-3.3-0.6-0.1-2.4 1-5.6 9.5-8 12.5-4 5.7-0.4 0.5z"/>
<path fill="#20ffdf" d="M592 457.3l-0.1-2.1 0.5-0.4 0-0.6 1.5-1.4 0-0.6 1-1 0-0.4 1-1 0-0.6 0.9-1-0.2-0.8-7.2-2.2-7.4-2.5-7.4-3-7.7-3.5-6.1-3-7.8-4.1-8.3-4.9-7.1-4.4-9.4-6.6-8.1-6-8.8-7-7.7-6.4-7.5-6.6-2-2-4.8-5.4-3.5-5-3.5-6.6-9.6-20.4-1.6-4-0.6-3-0.5-11 0-14 0.5-16 0.3-23 0.7-14 123.1-0.2 4.2 0.2 0 2 5.9 24 2.9 14 3.4 13.4 3 10.7 0.6 0.9 1-3.1 1.4-3.5 0.6-1.6 1-5.8 0.7-2.6-0.1-6.4 0.4-2 0.4 0.6 1.6 4.5 1-0.3 1 0 0.9 0.6 0.7 1 2.2 8 2.2 11.6 2.5 9 11.9 20.2 0 59.5-2 2.1-5.5 4.6-5.9 5.4-4.6 5.6-3.3 4.6-1.1 0.7-1 0.1-0.6-0.2-0.9-0.6-0.3-0.6-2.7-8.4-1.5-3.4-3 1.1-5.8 9.7-8 12.6-4.2 5.9-0.6 0.4z"/>
<path fill="#30ffcf" d="M593 456.9l-1 0.2-0.1-1.9 0.5-0.4 0-0.6 1.5-1.4 0-0.6 1-1 0-0.4 1-1 0-0.6 1-1-0.3-0.8-7-2.2-7.6-2.6-8.3-3.4-6.7-3-6.1-3-7.9-4.1-8.2-4.9-7-4.4-9.5-6.6-8.1-6-8.8-7-7.7-6.4-7.5-6.6-2-2-4.8-5.4-3.5-5-3.5-6.6-9.5-20.4-1.5-4-0.7-3-0.4-12 0-14.6 0.5-14.4 0.4-22.6 0.4-7.9 0.5-6.5 126.5 0 0.1 2 5.9 24.4 2.7 13.6 3.4 13.4 1.9 6.1 2 7.4 2.4-6.8 1-4.3 0.7-4.8 0.7-2.6-0.1-5.4 0.3-2.4 0.4 0.4 1.6 4.3 1-0.3 1 0.1 1 0.8 0.4 1.1 2 7.4 2.4 12 2.6 9 12 20.5 0 58.6-2 2.1-5.7 4.8-5.7 5.2-4.8 5.8-3.2 4.5-1 0.6-1 0.1-0.6-0.1-0.7-0.5-0.3-0.6-2.7-8.4-1.6-3.6-0.1-0.1-3 1.2-0.5 0.5-5.5 9.4-7.7 12-4.2 6z"/>
<path fill="#40ffbf" d="M592.5 456.9l-0.6 0.1-0.1-1.8 0.5-0.4 0-0.6 1.5-1.4 0-0.6 1-1 0-0.4 1-1 0-0.6 1-1-0.3-0.9-6.8-2.1-7.8-2.7-7.4-3-7.4-3.3-8.1-4-6.5-3.4-7.6-4.6-6.4-4-8.1-5.4-8.5-6.2-8.7-6.8-9.5-8-9.5-8.6-4.8-5.4-3.5-5-3.4-6.6-9.4-20.4-1.6-4-0.6-3-0.4-13 0-14.6 0.5-13.4 0.4-22 0.5-8 0.6-7 125.9 0 0.1 2 5.8 24.4 2.8 14 3.2 13 4.2 14.3 0.4-0.1 2-5.8 0.6-2 0.4-2.6 0.8-6.2 0.8-2.6-0.2-4 0-2.4 0.2-0.7 0.4 0.1 1.6 4 1-0.2 0.9 0.2 0.7 0.6 0.5 1 2 7.4 2.3 12 2.5 9 12.5 21.3 0 57.6-2 2.1-6 5-5.5 5-4.9 6-3 4.2-1 0.8-1 0.1-0.6-0.2-0.8-0.9-2.8-8.4-1.6-3.6-0.2-0.2-3.3 1.2-5.5 9.6-8 12.4-4.2 6z"/>
<path fill="#50ffaf" d="M592 456.8l-0.1-1.6 0.5-0.4 0-0.6 1.5-1.4 0-0.6 1-1 0-0.4 1-1 0-0.6 1-1-0.3-1-6.6-2-8-2.7-6.8-2.7-7.9-3.6-8.1-4-6.4-3.4-7.8-4.6-6.4-4.1-8-5.4-8.6-6.2-8.6-6.7-9.5-8-9.6-8.6-4.7-5.4-3.5-5-3.4-6.6-9.3-20.4-1.5-4-0.6-3-0.5-13.6 0.1-15 0.5-12.4 0.5-22 0.5-8 0.7-7 125.3 0 0.1 2 5.7 24.4 2.7 14 3.2 13 3.6 12.6 1.3 3.8 2-6.3 0.6-2.1 0.4-2.9 1-7.5 0.7-2.6-0.2-3.4 0.1-2.8 0.4-0.4 1.6 3.8 1-0.1 0.4 0.1 0.7 0.4 0.7 1 2 7.4 2.2 12 2.5 9 12.9 22 0 56.7-2.3 2.3-5.7 4.8-5.7 5.2-4.7 5.8-3.1 4.2-0.9 0.8-1 0.1-0.8-0.3-0.5-0.6-2.7-8.4-1.6-3.6-0.4-0.4-3.5 1.4-5.5 9.6-8 12.4-4.3 6-0.7 0.5z"/>
<path fill="#60ff9f" d="M593 456.3l-1 0.4-0.1-1.5 0.5-0.4 0-0.6 1.5-1.4 0-0.6 1-1 0-0.4 1-1 0-0.6 1-1-0.1-1-6.8-2-8-2.8-6.6-2.6-7.9-3.6-7.5-3.6-7.1-3.8-7.9-4.7-6.4-4.1-8-5.4-8.6-6.2-8-6.2-8.3-7-11.3-10-4.8-5.4-3.1-4.6-1.7-3-1.7-3.4-9.4-21-1.5-4-0.7-3-0.4-14.6 0.1-15 0.5-11.4 0.5-21.6 0.6-8.4 0.8-7 124.7 0 0 2 5.7 24.4 2.6 14 3.3 13.6 3.5 12 1.6 4.9 0.5-0.5 2.1-7.4 1-6.9 0.5-5.1 0.7-2.6-0.2-4.8 0.1-0.6 0.3-0.7 1.6 3.5 1-0.1 0.4 0.2 0.8 0.5 0.2 0.6 2 7.4 2.3 12 2.4 9 13.3 22.7 0 55.8-2.4 2.5-5.6 4.6-6 5.4-4.4 5.6-3.3 4.4-0.7 0.6-1 0.1-0.6-0.2-0.5-0.5-2.7-8.4-1.8-3.8-0.4-0.4-3.6 1.4-5.6 9.8-8 12.4z"/>
<path fill="#70ff8f" d="M592.5 456.4l-0.6 0.1-0.1-1.3 0.5-0.4 0-0.6 1.6-1.4-0.1-0.6 1.1-1-0.1-0.4 1-1 0-0.6 1-1-0.1-0.4 0.2-0.6-7-2.1-8-2.8-6.5-2.5-7.9-3.6-7.6-3.7-7-3.7-8-4.7-6.4-4.1-8-5.5-8.6-6.2-8-6.2-8.2-6.9-11.3-10-4.8-5.4-3.1-4.6-1.7-3-1.7-3.4-9.3-21-1.5-4-0.6-3-0.4-15 0.1-15.6 1.1-32 0.6-8.4 1-7 123.9 0 0.1 2 5.5 24.4 2.7 14 3.2 13.6 3.5 12 1.9 5.7 0.3 0.3 0.3 0.7 2-8.3 1-7 0.6-6.4 0.7-2.6-0.2-4 0.3-1.6 1.5 3.2 1.1 0 0.4 0.2 0.6 0.5 0.2 0.7 2 7.6 2.1 11.4 2.6 9.6 13.5 22.9 0 54.8-2.4 2.5-5.6 4.6-6 5.4-4.7 5.8-3.2 4.4-0.5 0.5-1 0.1-0.6-0.2-0.4-0.6-2.7-8.2-1.9-4.2-0.4-0.1-3.6 1.3-5.8 10-7.7 12-4.2 6z"/>
<path fill="#80ff80" d="M592 456.4l0-1.2 0.5-0.4-0.1-0.6 1.6-1.4-0.1-0.6 1.1-1-0.1-0.4 1.1-1-0.1-0.6 1-1-0.1-0.4 0.2-0.6-7-2.1-8-2.8-6.4-2.6-8-3.6-8-3.9-6.6-3.5-8-4.7-6.4-4.1-8-5.4-8-5.9-8.6-6.6-8.1-6.8-11.3-10-4.8-5.4-3.1-4.6-1.7-3-1.7-3.4-9.1-21-1.5-4-0.6-3-0.4-10.6-0.1-12 1-31.4 0.7-13.6 0.6-5.4 0.8-5 123.3 0 0.1 2 5.4 24.4 2.6 14 3 13 3.7 12.6 2.5 7.4 0.3 0.5 0.3-0.5 2.1-10.5 1.3-11.9 0.7-2.6-0.2-3 0.2-2 0.6 0.6 0.7 2 0.3 0.2 0.4-0.1 0.9 0.3 0.6 1 2 7.6 2 11.4 2.6 9.6 13.9 23.6 0 53.9-2.4 2.5-5.6 4.6-6 5.4-4.9 6-3.1 4.2-0.4 0.5-1 0.1-0.6-0.2-0.4-0.6-2.5-8-2.1-4.6-0.4 0.1-3.7 1.5-5.9 9.9-7.7 12.1-4.2 6-0.5 0.4z"/>
<path fill="#8fff70" d="M592.5 456.1l-0.6 0.1 0-1 0.5-0.4 0-0.6 1.5-1.4 0-0.6 1-1 0-0.4 1-1 0-0.6 1-1-0.1-0.4 0.3-0.6-0.2-0.1-7-2.1-8-2.8-6.4-2.6-8-3.5-8-4-6.6-3.5-8-4.7-6.4-4.1-8-5.4-8-5.9-8.6-6.6-8-6.7-11.4-10.1-4.7-5.3-3.1-4.6-1.7-3-1.7-3.4-9-21-1.5-4-0.6-3-0.3-11-0.1-12 1-31 0.8-13.6 0.7-5.4 0.8-5 122.7 0 0 2 5.4 24.4 2.5 14 3.1 13.6 3.7 12.4 2.5 7 0.5 0.9 0.4-0.2 0.4-0.7 1.2-6 1-7.3 0.8-9.1 0.7-2.6-0.2-0.4-0.1-1.6 0.2-2.4 0.6 0.4 0.6 1.6 0.4 0.3 1 0.2 0.4 0.5 0.2 0.4 1.9 7.6 2.1 11.4 2.5 9.6 14.3 24.3 0 53-2.7 2.7-5.3 4.4-6.1 5.6-5 6-2.9 4-0.4 0.5-0.6 0.2-0.8-0.3-0.4-0.4-2.7-8.6-2.1-4.2-4 1.5-0.4 0.3-5.8 10-7.8 12.1-4 5.7z"/>
<path fill="#9fff60" d="M592.5 455.9l-0.6 0.1 0-0.8 0.5-0.4 0-0.6 1.5-1.4 0-0.6 1-1 0-0.4 1-1 0-0.6 1-1-0.1-0.4 0.3-0.6-0.2-0.2-7-2.1-8-2.8-6.4-2.5-8-3.6-8-3.9-6.6-3.6-6.5-3.7-7.5-4.7-8.4-5.8-8-5.8-8.6-6.7-7.8-6.6-9.6-8.3-2-1.9-4.6-5.2-3.1-4.6-3.1-6-9.2-21.4-1.4-4-0.6-3-0.4-11 0-12 1-31 0.9-13.6 0.7-5.4 1-5 121.9 0 0.1 2 5.3 24.4 2.4 14 3.1 13.6 3.6 12.4 2.6 7 0.8 1.4 0.4 0 0.7-0.8 0.1-0.6 1.6-10.4 1.1-12 0.7-2.6-0.2-0.4 0-3 0-0.3 0.6 0.1 0.4 1.3 0.6 0.4 0.4 0.1 0.6 0.3 0.3 0.5 1.9 7.6 2.1 12 2.6 9.4 14.5 24.7 0 52-2.9 2.9-5.5 4.6-6 5.4-4.9 6-2.8 4-0.9 0.5-0.4 0-0.6-0.5-2.7-8.6-2.3-4.4-4.4 1.8-6 10.2-7.6 12z"/>
<path fill="#afff50" d="M592 455.9l0-0.7 0.5-0.4 0-0.6 1.5-1.4 0-0.6 1-1 0-0.4 1-1 0-0.6 1-1-0.1-0.4 0.4-0.6-0.3-0.2-7-2.1-8-2.8-6.4-2.6-8-3.6-8-3.9-6.6-3.5-6.3-3.7-7.7-4.8-8.4-5.8-8-5.8-8.5-6.6-7.8-6.6-9.7-8.4-2-1.9-4.6-5.2-3-4.5-3.1-6-9-21.4-1.4-4-0.6-3-0.4-11.6 0-12 1-30.4 0.4-7.6 0.6-6 0.8-5.4 1-5 121.3 0 0.1 2 5.2 24.4 2.4 14 3 13.6 3.6 12.4 2.8 7.6 0.9 1.3 0.4 0.2 1-1.6 1.6-10.9 1-11.6 0.7-3-0.3-0.4 0-2.2 0.6-0.6 0.4 1.2 1.2 0.6 0.4 0.4 0.2 1 1.7 6.6 2 12 2.5 9.4 15 25.4 0 51-3 3-5.4 4.6-6 5.4-4.7 5.6-3.2 4.6-0.7 0.4-0.4-0.1-0.5-0.3-2.7-8.6-2.1-4.4-0.3-0.2-4.4 1.7-5.8 9.9-8 12.6-3.9 5.4-0.3 0.5z"/>
<path fill="#bfff40" d="M592.5 455.5l-0.6 0.2 0-0.5 0.5-0.4 0-0.6 1.5-1.4 0-0.6 1-1 0-0.4 1-1 0-0.6 1-1-0.1-0.4 0.5-0.6-0.4-0.3-7-2.1-8-2.8-7.4-3-7-3.1-8-4-6.6-3.5-7.9-4.6-6.1-3.9-8.3-5.7-8.1-5.9-7.8-6.1-8.4-7-11.4-10-4.4-5-3.2-4.4-1.8-3.4-1.6-3.2-9-21.7-1.3-3.7-0.5-3-0.4-11.6 0-12 1-30.4 0.5-7.6 0.6-6 0.8-5.4 1.1-5 120.7 0 0 2 5.1 24.4 2.4 14 3 13.6 3.5 12.4 2.9 7.6 1.2 1.7 0.4 0.4 1.3-2.1 1.3-10.6 1.1-12 0.7-3-0.3-0.4 0-1 0.5-1.3 0.4 1 1 0.5 0.4 0.8 1.7 7 2 12 2.5 9.4 15.4 26.1 0 50.1-3 3-5.4 4.6-6 5.4-4.9 5.8-3.1 4.4-0.6 0.4-0.4-0.1-0.5-0.7-2.5-8-2.1-4.4-0.5-0.4-4.4 1.7-6 10.2-8 12.5z"/>
<path fill="#cfff30" d="M597 448.7l0-0.9 0.4-0.6-0.4-0.4-8.4-2.6-9-3.2-9.6-4-8.4-4.1-12.2-6.7-12-7.4-8-5.6-7.4-5.4-7.1-5.6-8.4-7-11.5-10-3.5-4-2-2.4-1.9-3-2-3.6-1.6-3.3-8.4-20.8-1.6-4.1-0.5-2.8-0.5-13.3 0-10.1 1-28.8 0.5-7.8 0.5-5.9 1-6.8 1.4-5.7 32.5 0 0 1.4 1.9 0.6 13.2 1.6 13.1-1.6 2-0.6 0-1.4 57.3 0 0 2 5 24.4 2.3 14 3 13.6 3.4 12.4 3 7.6 1.9 2.7 1.6-2.7 1.2-11 1-11.6 0.7-3-0.3-0.4 0.4-1.8 0.4 0.9 0.6 0 0.4 0.3 0.3 1 1.5 6.6 2 12 2.4 9.4 15.8 26.9 0.1 45.7-0.1 3.4-3 3-5.4 4.6-6.1 5.4-5 6-2.9 4.2-0.6 0.5-0.4-0.1-0.3-0.6-2.5-8-2.2-4.8-0.6-0.1-4.4 1.7-0.6 0.5-5.6 9.7zM596 450.2l0-1 0.6-0.5 0.4 0.1zM595 451.6l0-0.8 0.6-0.6 0.4 0zM594 453.1l0-0.9 0.6-0.5 0.4 0.1zM592.5 455.2l-0.1-1 1.1-1 0.3 0zM592 455.6l0-0.4 0.5 0z"/>
<path fill="#dfff20" d="M597.5 447.6l-0.1-0.4-0.5-0.4-6.7-2-8.3-2.9-7.7-3.1-8.7-4-6.1-3-7.9-4.4-12.6-7.6-8-5.5-7-5-6.5-5.1-8-6.4-13.7-12-3.8-4.1-3.4-4.5-2.6-4.3-2.4-5.6-8.4-21.1-1-3-0.4-2.4-0.3-12-0.1-11.6 1.2-30.4 0.6-7.6 0.7-6 1-5.4 1.3-5 16.7 0 0 1.4 1.6 0.6 28.5 3.5 28.3-3.5 1.8-0.6 0-1.4 42.1 0 0.1 2 4.9 24.4 2.3 14 2.8 13.6 3.6 13 2.8 7 2.3 3.2 1.8-3.2 1.2-11 0.9-11.6 0.8-3-0.4-0.4 0.3-1.3 0.4 0.6 0.6 0 0.1 0.1 0.2 0.6 1.6 7 1.9 12 2.6 10 16 27 0.1 6-0.1 42.2-3.3 3.2-5.4 4.6-6 5.4-5 6-3.3 4.5-0.6-0.5-2.5-8-2.3-5.1-0.6 0-4.4 1.7-0.6 0.4-5.8 10zM597 448.4l0-0.8 0.5 0.2zM596.5 449.2l-0.1-0.4 0.3 0zM596 450l0-0.8 0.5 0zM595.5 450.7l-0.1-0.5 0.3 0zM595 451.4l0-0.6 0.5 0zM594.5 452.1l-0.1-0.3 0.3 0zM594 452.8l0-0.6 0.4 0zM593.5 453.5l-0.1-0.3 0.2 0zM593 454.2l0-0.4 0.4 0zM592.5 454.9l-0.1-0.7 0.5 0zM592 455.4l0-0.2 0.3 0z"/>
<path fill="#efff10" d="M597.5 447.4l-0.3-0.6-0.3-0.1-6.5-1.9-8.5-3-7.4-3-5.8-2.6-7.2-3.4-6.6-3.5-7-4-6.5-4.1-14-9.4-7.9-6.1-9.9-7.9-13.7-12-4.4-4.9-3-4-2.4-4.1-2.4-5.6-8.2-21-1-3-0.4-2.4-0.3-12.6 0-12 1.2-29.4 0.6-7.6 0.8-6 1.1-5.4 1.4-5 8.3 0 0 1.4 0.8 0.6 6.9 1.9 30 3.4 30-3.6 3.4-1.7 0.4-0.6 0-1.4 38.3 0 0.1 2 4.8 24.8 2.2 13.6 2.8 13.7 3.5 12.9 2.8 7 0.3 0.5 2.4 3.2 0.6-0.6 1.3-3.1 1.2-11 1-11.6 0.7-3-0.3-0.4 0.1-0.6 0.4 0.3 0.6-0.1 1.6 7.4 1.8 12 2.6 10 16.4 27.8 0.1 5.2-0.1 42-3.5 3.4-5.4 4.6-6.1 5.4-4.9 6-3.1 4.3-0.4-0.5-2.5-7.8-2.5-5.4-5.6 2.1-5.7 9.9zM597 448.1l0-0.4 0.3 0.1zM596.5 448.9l0.1-0.1zM596 449.7l0-0.5 0.3 0zM595.5 450.4l0-0.2zM595 451.1l0-0.3 0.3 0zM594 452.5l0-0.3 0.2 0zM593 454l0-0.2 0.2 0zM592.5 454.7l-0.1-0.5 0.3 0z"/>
<path fill="#ffff00" d="M598 446.3l-0.4 0.4-8.4-2.5-9.6-3.4-6.1-2.6-7.6-3.4-9.9-5-12-7-7-4.6-8-5.5-8-6-8.7-6.9-16.3-14.1-4.4-4.9-2.7-3.6-2.3-4-2.2-5-8.5-22-0.9-3-0.4-2.4-0.3-12.6 0-12 1.3-29 0.6-7.4 0.8-6 1.2-5.6 1.4-4.5 0.2 0.1 0 0.4 0.8 0.6 7 2.2 7.4 1.9 30 3.1 30-3.4 7.2-3.8 0.4-0.6 0-1.4 34.4 0 0 2 4.7 24 2.2 14.4 2.9 14 3.4 12.6 2.9 7.4 2.9 3.8 0.3-0.2 1.8-4 2.1-22.6 0.8-3.2 0.6 0.2 1.4 7 1.7 11.6 2.5 10 16.8 28.5 0.1 0.5-0.1 45.7-3.8 3.7-5.2 4.3-6.2 5.7-4.9 6-2.9 4.1-0.4-0.8-2.3-7.3-2.5-5.4-0.2-0.3-5.6 2.1-5.9 10.2zM597 447.8l0.1 0zM596 449.4l0.1-0.2zM592.5 454.4l0-0.2z"/>
<path fill="#ffef00" d="M597.5 446.4l-1.4-0.2-2.2-0.6-9-2.9-8.9-3.5-6.9-3-7.2-3.4-6-3.2-7-4-7.9-4.8-7.5-5.1-7-5-8-6.1-8-6.5-14.6-12.6-4.2-4.7-2.7-3.6-2.3-4-2.1-5-8.4-22-0.9-3-0.4-2.4-0.3-12.6 0-11.4 0.3-8 0.9-19.6 0.6-7.4 0.8-6 1.3-6.6 0.4-1.5 0.6-0.7 7 2.1 8.4 2 17.6 1.7 12.4 0.9 11-0.9 19-2.2 5.7-2.8 5.3-3 0.4-0.6 0-1.4 30.4 0 0.1 2 4.7 24.6 2.1 14.4 2.5 12.4 3.5 13.6 3 7.4 3.3 4.4 0.6-0.2 1.7-4.6 2.1-22.6 0.6-2.5 0.6 0.5 0.9 5 1.8 12.6 2.4 10 17.3 29.3 0.1 3.1-0.1 42-3.6 3.6-4.4 3.5-7.1 6.5-5.3 6.4-2.6 3.6-0.4-1-2.2-7-2.4-5.1-0.4-0.4-5.6 2-0.4 0.5-6 10.4z"/>
<path fill="#ffdf00" d="M597 446.3l-6-1.7-7-2.4-8-3.1-6.5-2.9-7.5-3.6-6.4-3.4-6.6-3.7-7.6-4.7-6.8-4.6-7.8-5.4-7.8-6-8.1-6.6-14.9-12.9-4.1-4.5-2.3-3-2.3-4-2.2-5-5.3-14.6-3.1-8-0.9-3-0.4-2.4-0.3-12.6 0-11.4 0.3-8 0.9-17.6 0.6-7.4 0.7-6 1.2-6.6 0.2-0.8 0.6-0.8 7 1.9 8.4 1.8 30 1.7 23.6-1.8 6.4-0.6 7.6-3.7 7-4 0.5-0.7 0-1.4 26.6 0 0 2 4.6 25 2 14 2.7 13.4 3.4 13 2.9 7.6 3.3 4 0.4 0.4 0.6 0 0.3-0.4 1.6-5 2.1-22.6 0.4-1.7 0.6 1.1 0.7 4.2 1.6 12.4 2.4 10 17.7 29.9 0.1 2.7-0.1 40.8-4 3.8-5.4 4.6-6 5.5-5 6-2 2.8-0.6 0.3-2.1-6.8-2.9-5.9-0.4-0.1-6 2.3-6.3 10.7zM632.4 393.2l0.6-0.4 0.6-0.5 0.9-2.1 0.5-2.4 0.1-2.6-0.3-2.4-0.8-2.2-1-1.4-0.6-0.4-0.8-0.2-1 0.6-0.6 0.5-0.7 1.5-0.6 2.6-0.2 3 0.5 3 0.7 2 0.8 1 0.5 0.4 0.6 0.2z"/>
<path fill="#ffcf00" d="M596.5 445.9l-0.6 0-5-1.4-7-2.4-7.4-2.9-6.8-3-7.8-3.7-6.4-3.4-6.6-3.8-7.4-4.6-6.6-4.3-8-5.7-8-6-6.4-5.3-16.4-14.2-3.7-4-2.7-3.4-2.3-4-2.2-5-5.1-14.6-3.1-8-0.9-3-0.4-2.4-0.3-18.6 0.4-15.4 0.9-16 0.6-7 1.2-8.3 0.4-2.4 0.6-0.9 8 2 7.4 0.8 5 0.1 25 1.3 29.6-2.2 4.6-1.4 5.8-3 5-2.9 2.2-2.1 0.2-0.6 0-1.4 24.1 0 0 2 4.5 25 2 14 2.5 13.4 3.3 13 3 7.6 0.2 0.5 3.6 4.2 0.4 0.3 0.6 0 0.4-0.3 1.7-5.7 2.1-22.6 0.2-0.8 0.6 1.6 0.5 3.2 1.4 12 2.3 10 18.2 31 0.1 1.6-0.1 40.2-2.4 2.2-2 2-5.4 4.6-6.1 5.4-4.9 6-1.6 2.3-0.6-0.4-1.6-5.3-2.8-6.1-0.6-0.3-0.4-0.1-6.4 2.5-6.2 10.4-6 9.6zM633.7 398.2l1.3-0.9 0.9-1.1 1.5-3 0.6-2 0.4-2.4 0.1-4.6-0.2-2-0.6-2.4-0.7-2-0.8-1.6-1.1-1.4-1.1-0.9-1-0.4-1 0-1 0.3-1 0.8-1 1.2-1 2-0.4 2-0.5 3-0.1 2.4 0 3 0.8 5 0.3 1 0.9 2 1 1.2 1 0.8 1.6 0.3z"/>
<path fill="#ffbf00" d="M596 445.8l-6-1.8-7.4-2.6-6.6-2.6-7.4-3.3-6.6-3.1-6.4-3.5-6.5-3.7-7.5-4.6-6.6-4.4-8-5.6-8-6.1-6.4-5.3-16.2-14-4.4-4.7-2-2.7-2.1-3.6-2-4.4-5.2-15-3.2-8.6-1.1-4.4-0.4-8.6-0.1-10 0.1-8.4 0.4-8 0.9-17 0.5-5.6 1.1-7.4 0.2-1 0.5-1 6.4 1 9 0.8 5 0 25 1.2 30-2.1 8.7-2.9 6.3-3.5 4.4-4.5 0.3-0.6 0-1.4 21.6 0 0 2 4.4 25 1.9 14 2.5 13.4 3.2 13 3.1 8 3.6 4.6 0.6 0.4 1 0.1 0.9-0.5 0.2-0.6 0.6-3.4 0.6-2 2.1-22.1 0.8 3.5 1.3 12 2.3 10.6 14.2 24 0.7 1.4 0.7 1 0.3 0.6 2.7 4.4 0.1 39.6-0.1 0.6-2.7 2.4-1.7 1.8-5.6 4.6-6.1 5.6-6.3 7.9-1.9-5.5-2.6-5.4-0.5-0.7-0.6-0.2-1 0.1-6 2.3-0.4 0.5-6.1 10.4-5.9 9.3zM640.2 403.2l0.8-3 0.8-4 0.5-4 0.2-3.4 0-4-0.1-4-0.5-4-0.6-3.6-1.3-4.8-1.4 0.5-3.6-0.5-2 0.1-2 0.8-1 0.8-1 1.2-1 1.5-1 3.4-0.9 4.6-0.3 4.4 0.1 4.6 0.7 4.2 0.6 2.8 0.8 2.4 1.6 2.1 1.4 1.4 1.6 0.7 1.4 0.2 4.6-0.5 1.4 0.5z"/>
<path fill="#ffaf00" d="M596 445.4l-1 0-2-0.6-8.4-2.8-6.6-2.5-8-3.4-6.4-3.1-7.6-4-6.4-3.7-6.6-3.9-7.4-5-6.6-4.5-8-6-7-5.7-6-5-11.4-10-4.5-5-1.6-2-2.5-4.2-2-4.7-5-15.1-2.9-8-0.8-2.4-0.4-2.6-0.3-16.4 0.2-14 1.3-22 0.6-6 0.9-5.7 0.4-0.2 7.6 0.8 7.4 0.6 5-0.1 25 0.9 30-2 11-3.5 2.1-0.8 1.9-1.1 3.6-3.4 3.1-3.5 0.2-0.6 0-1.4 19.2 0 0.1 2 4.2 25 1.8 14 2.5 14 3.2 13 2.9 7.4 0.7 1 3.5 4.3 0.6 0.3 1 0.1 0.5-0.1 0.7-0.6 0.4-1 0.2-3 0.7-2.4 1.9-18.8 0.6 0 1.2 12.2 2.1 10.6 9.7 16.4 1 2-0.2 0.6-1.2 1.4-3.2 3.1-1.4 1.7-1.6 2.1-0.4 1.1-1.3 4-1 4.6-0.5 4.4-0.1 5 0.3 4.6 0.6 4 1 4 1.4 4.1 2 2.7 4.2 4.2 1.2 1.4 1.1 2.6 0.7 3-9.6 8.7-5.6 6.7-0.4 0.4-1.4-4.4-2.6-5.6-0.7-0.8-0.9-0.4-1 0.1-6 2.2-0.4 0.4-6.3 10.7z"/>
<path fill="#ff9f00" d="M595.5 445.3l-5-1.4-7.7-2.7-6.9-2.7-7.4-3.3-6.2-3-6.6-3.4-6.8-3.9-7.4-4.6-7.5-5.1-7-5-8.5-6.4-5-4.1-16.7-14.5-3.3-3.4-2.8-3.6-2.2-3.8-2-4.6-5-15.8-2.8-7.8-0.7-2.4-0.4-2.6-0.3-16 0.2-13.4 1.2-22 0.6-6 0.6-4.9 14.6 0.9 5.4-0.1 20 0.5 5 0.3 30-1.9 10.6-3.2 4.4-1.6 0.9-0.6 4.1-3.9 4-4.5 0.2-0.6 0-1.4 16.8 0 0 2 4.1 25 1.7 14 2.5 14 3.1 13 1.5 4 1.7 4.1 3.9 4.9 0.5 0.3 1 0.3 1-0.1 1.1-0.5 0.6-1 0-3.6 0.6-2 1.7-15.5 0.6-1.5 0.9 10.6 1.9 10 1 2 6.2 10.4 0.3 1-0.2 0.6-1.2 3-2.5 4.7-2.7 9.3-0.8 3.4-0.5 4-0.3 3.6-0.1 4 0.2 4 0.3 3.4 0.6 3.6 1 4 2.3 7.7 3.1 6.3 0.9 2.4 0.6 2.6 0 0.4-0.5 0.6-5.1 4.5-5 6.1-0.4-0.4-1-3.1-2.7-5.7-0.9-0.9-1-0.4-1 0.1-6.4 2.5-0.8 0.7-6.1 10.6z"/>
<path fill="#ff8f00" d="M595 444.9l-1-0.1-3.4-1-6-2-7.6-3-7-3-6.3-3-7.7-4-6.1-3.6-7.3-4.4-7.6-5-6.3-4.6-6.7-5-7-5.5-8-6.8-10-8.8-2.7-2.9-2.9-3.4-2.4-4-2.1-5-4.6-15.6-2.8-8-1-4.4-0.3-15.6 0.1-13.4 1.2-22 1.1-9.9 14 0.5 5.4-0.2 9 0.3 11 0.7 5 0.5 13.3-1.5 16.7-1.1 7.6-2.1 6.8-2.2 3.2-1.8 1.6-1.2 1.4-1.4 4.5-5.2 1.2-1.4 0.2-0.6 0-1.4 14.3 0 0 2 4 25 1.6 14 2.4 14 3.1 13 1.2 3.4 2.1 5 3.8 4.9 1 0.6 1.6 0.2 1-0.2 1-0.6 0.4-0.7 0.2-0.6-0.2-4 0.5-1.6 2.1-14.6 0.7 8.2 1.7 10.4 4.1 7 0.2 1-1.3 8.6-2.6 11.4-1 5-0.7 6-0.2 6 0.2 5.6 0.7 6 1 5 2.7 12 1.4 9.4-1.9 2-4.6 5.5-1-2.9-2.6-5.6-0.7-1-0.7-0.4-1-0.3-1 0-6.4 2.5-0.6 0.3-0.7 0.9-5.8 10-6.1 9.6z"/>
<path fill="#ff8000" d="M594.5 444.8l-6.7-2-6.9-2.5-5-2.1-7.9-3.4-8.1-4-5.5-3-6.8-4-5.7-3.6-6.7-4.4-6.3-4.6-7.4-5.6-6.6-5.2-7.9-6.6-10.1-9-2.8-3-2.5-3-2.4-4-1.8-4.6-4.6-16-2.8-8.4-0.8-4-0.3-16.6 0.2-13 1.2-22.4 0.6-6.6 0.4-0.4 8.2 0.2 5.4 0.6 5 0 20 1.3 5 0.5 30-3.3 3.2-1.3 6.4-1.8 5.4-1.8 4.6-2.7 2.3-1.7 4.7-5.3 2-2.7 0.1-0.6 0-1.4 11.9 0 0 2 3.9 25 1.6 14 2.3 14 2.9 13 1.2 3.4 2.1 5 4 5.1 1 0.7 1 0.4 1.4 0 1-0.4 1.1-0.8 0.6-1 0-1-0.5-2.4 0-1 0.6-1.6 1.8-11 0.3 4 1.6 11 0.5 1.3 1.6 2.7 0.3 1-0.3 5-0.5 5-2.4 14-0.8 5.6-0.4 5-0.2 5 0.2 5 0.4 5.4 0.8 5.6 2.4 14 0.5 5 0.3 5-0.8 1.4-2.5 3.1-0.6 0.2-0.5-1.7-2.8-6-0.7-0.9-1-0.7-1-0.2-1.4 0.2-6.6 2.5-1 1.1-6.1 10.4-5.9 9.2z"/>
<path fill="#ff7000" d="M594.5 444.3l-0.6 0.1-1.4-0.4-8.4-2.8-6.6-2.5-7-3-6.6-3.1-6.4-3.4-7-4-7-4.2-7.6-5-6.4-4.6-6.3-4.6-7.7-6.2-8.1-6.8-9.7-8.6-2.5-2.4-3.4-4-2.3-4-1.8-4.6-4.3-16-2.6-8.4-0.8-4-0.3-16.6 0.2-13 1.3-23 0.3-3.2 0.4-0.9 6.6 0.9 6.4 0.7 5-0.2 20 1.1 5 0.4 30-3.1 7.7-3.7 7.3-2.2 4-2.2 3.6-2.4 2-1.6 4.4-5.5 1.9-2.5 0.2-0.6 0-1.4 9.3 0 0 2 3.7 24.4 1.7 15.6 2.1 13 2.9 13 1.5 4.4 1.9 4.6 3.6 4.4 1.2 1.2 1.6 0.5 1.4 0 1.6-0.5 1.2-1.2 0.3-0.4 0.2-1-0.1-1-0.7-2 0-1 0.6-1.6 1.5-6.8 0.2 1.8 0.2 0.6 1.1 9 0.4 1-0.1 5.4-0.6 9-2.3 19.6-0.3 5.4-0.1 5.6 0.6 10 2.2 19 0.6 11.4-0.9 1.4-0.6-0.7-3-6.7-1-0.9-1-0.6-1-0.2-1.4 0.2-6.6 2.5-0.8 0.6-0.6 0.8-5.9 10.2z"/>
<path fill="#ff6000" d="M594 444.2l-4.4-1.3-7-2.5-6.8-2.6-7.2-3.2-6.6-3.2-6-3.2-6.4-3.8-7.6-4.6-12.4-8.6-7.9-6-6.2-5-7.9-6.6-9.6-8.4-2.4-2.5-3.4-3.9-2.3-4-1.7-4.6-4-16-2.7-9-0.7-3.4-0.2-16.6 0.1-12 1.3-23.4 0.1-0.6 0.5-0.4 12 1 5.4-0.3 20 0.7 5 0.5 30-2.9 6.6-2.9 7-3.7 3-1.3 4.4-2.5 3.8-2.6 2.5-2 4.7-6.1 1.4-1.9 0.2-0.6 0-1.4 6.6 0 0 2 3.6 25.4 1.5 14 2.1 14 3 13.6 3.2 8.2 4.4 5.5 1.6 0.9 2 0.3 2-0.5 1-0.7 1-1 0.4 0.3-0.4 11-1.5 20-0.4 10 0.3 9 1.5 19 0.4 10 0 0.4-0.3 0.2-0.2-0.6-1.6-2.6-1.2-0.8-1.6-0.4-1 0.1-1 0.2-6 2.3-0.9 0.6-0.9 1-6.1 10.6zM620.5 340.6l-0.6-1.1 0-0.7 0.6-0.9 0.4 0.3 0 2z"/>
<path fill="#ff5000" d="M593.5 443.8l-4-1.1-7-2.5-7.6-3-6.7-3-6.1-3-6.2-3.2-7.2-4.2-6.8-4.3-12.4-8.6-7.6-5.7-6.4-5.1-8-6.8-9.6-8.4-2.4-2.5-3.1-3.6-2.1-3.6-1-2.4-0.9-2.6-3.6-15.4-2.6-9-0.6-3.6-0.3-15.4 0.1-12 1.1-20.9 0.2-1.1 0.2-0.4 12 0.5 5-0.5 20 0.5 5 0.4 30-2.7 8-3.3 7-3.5 2.8-2.6 6.5-4 5.2-4 3.3-4 3.1-4.4 0.1-0.6 0-1.4 4 0-0.1 2 3.5 25.4 1.3 14 2 14 2.9 13.6 1 3 2.2 5.4 4.2 5.4 1.5 1.2 1.5 0.5 1.6 0.1 1.8-0.2-0.1 7.6-0.7 21.9-0.2 9.5 0.2 9.4 0.8 24.2-0.4 0.1-2-0.4-1.4 0.1-6.6 2.5-1.4 0.9-1 1.2-5.8 10-6.1 9.6z"/>
<path fill="#ff4000" d="M593 443.5l-4.2-1.3-7.8-2.7-6.4-2.7-6-2.7-6-2.9-6.5-3.4-12.1-7.2-6-3.9-7.7-5.5-12.7-9.8-9.8-8.2-10.1-9-4.2-4.4-1.5-2.1-1-1.8-0.1-0.7-0.3-0.3-0.2-0.7-0.4-0.5-0.1-0.9-0.4-0.6-0.1-1-0.4-0.4-0.2-1.6-0.3-0.4-0.1-1.6-0.4-0.6-0.2-1.8-0.2-0.7-0.2-1.9-0.4-0.7-0.2-1.7-0.2-0.6-0.2-1.4-0.3-1-0.2-1.6-2.3-8.7-0.8-3.7-0.2-2.6 0-22.4 0.3-9.6 0.8-12 0.3-0.2 11 0 5-0.6 20 0.2 5 0.4 30-2.5 8-3.1 7-3.3 3.3-2.9 3-3 5.7-3.7 5.4-4.3 2.7-3.4 3.2-5 0.2-2 1.2 0 0.1 3 3.1 24.4 1.3 14.6 2 14 2.6 13 1 3 2 5 1.1 2 3.3 4 1.4 1.2 2 1 2.1 0.2 0 10.6-0.5 28 0.5 32-2.7 0.5-6 2.2-1 0.5-1 0.8-0.7 1-6.1 10.4-5.7 9z"/>
<path fill="#ff3000" d="M593 442.9l-0.4 0.3-0.6-0.1-9-3.1-6.4-2.5-8-3.6-6.5-3.1-7.1-3.8-6.4-3.8-6.6-4.1-7.8-5.3-8.2-6-7.1-5.6-4.9-4-2-1.8-1-0.6-3.2-3-9.2-9.4-3.5-4.2-2-3.4-1.5-4.6-3-16.4-2.3-9-0.6-3.6-0.2-15 0.1-10 0.4-10.4 0.4-7 0.2-0.3 8.4-0.4 5-0.7 20-0.2 5 0.3 30-2.2 8-2.9 7-2.9 5.1-4.3 4.8-5 6.3-4.4 4.1-3.6 1.9-2.4 2.4-3.8 0.4 2.9 2.5 20.3 1.1 14 1.8 14 2.8 14 0.8 2.6 2.2 5.4 0.8 1.6 3.6 4.4 1 1 1 0.7 2 0.9 0.6 0.4-0.3 38.6 0.2 30.4-7.5 3-1.1 0.6-1.1 1-6.5 11z"/>
<path fill="#ff2000" d="M592.5 442.8l-0.6 0.1-2-0.6-9-3.2-6.4-2.7-8-3.6-6.6-3.3-7.4-4.2-6.6-3.9-7-4.5-10-7.1-5.7-4.6-12.3-12-10.7-11-2.6-3-1-1.4-1-2-1.3-4-2.9-16.6-2.3-9.4-0.6-3.6-0.1-23.4 0.3-9.6 0.4-6.4 0.4-0.3 5.4-0.5 5-0.9 20-0.5 5 0.3 30-1.9 4-1.2 4.6-1.4 6-2.3 2.4-1.7 3-2.4 3.1-2.8 2.8-3 2.6-3 4.8-3.4 3.3-2.9 1.6-1.7 1.4-1.8 0.4 1.2 2 17.6 1.1 14.6 1.7 14 2.6 13.4 0.8 2.6 2.9 7 4.4 5.4 1.5 1.3 1.6 0.7 0.1 0.6-0.1 68.4-6.6 2.7-1 0.6-1 0.9-6.4 11z"/>
<path fill="#ff1000" d="M592 442.5l-1-0.1-1.9-0.6-8.3-3-7.2-3-6.6-3-7-3.5-7.2-4.1-5.8-3.4-3.4-2.4-0.6-0.2-1-0.8-0.5-0.2-0.9-0.8-0.6-0.2-1-0.8-0.4-0.2-6-5.1-11-10.1-11-11-9-9.3-1.7-1.9-1.7-3-1.2-3.6-2.7-17-2.2-9.4-0.6-3.6-0.1-23 0.3-10.4 0.2-3 0.1-0.6 3-0.4 5-1 20-0.7 5 0.2 29.6-1.7 7.3-1.8 8.1-2.6 3.6-2.4 3.8-3 3.3-3 2.8-3 3.7-4.6 4.4-3.4 3-2.8 0.4 0.6 1.6 14.6 1 14.6 1.7 14.4 2.4 13.6 0.6 2 2.4 6 0.8 1.4 4.1 5.2 2.6 2.4 0.2 24-0.3 44.4-5.5 2.3-1.1 0.7-0.9 1-6.5 11z"/>
<path fill="#ff0000" d="M592 441.6l-2-0.2-4.4-1.2-0.6-0.3-1-0.2-0.4-0.4-0.8-0.1-0.8-0.4-0.5 0-0.5-0.4-1-0.2-0.4-0.4-0.7 0-0.3-0.3-1.1-0.3-0.5-0.3-0.6-0.1-0.4-0.4-0.7-0.2-0.7-0.4-0.6 0-0.4-0.4-0.7-0.2-0.3-0.3-1.9-0.7-0.7-0.4-0.4 0-0.6-0.5-0.5-0.1-0.5-0.3-0.5-0.1-0.5-0.4-0.5-0.2-0.5-0.3-0.5-0.1-1.5-0.9-0.5-0.1-0.5-0.4-0.5-0.2-0.5-0.4-0.5 0-0.5-0.5-0.5-0.1-0.5-0.4-0.4 0-5-3.2-5.6-3.7-9.4-7.2-5.8-4.9-6.1-5.6-6.8-6.4-7.4-7.6-5.3-5.4-5.3-6-1.7-3-1.2-3.6-2.4-16-0.7-3.4-1.9-7.6-0.6-3-0.1-21.4 0.3-11 0-1.6 0.2-0.4 5.2-1.3 20-0.8 5 0.4 30-1.9 6.6-1.6 6.4-1.8 2-0.6 3.6-2 2.4-1.5 3.6-2.8 3-2.7 3.7-4 2.5-3 2.3-3 3.5-3 0.4 0.8 1.2 11.8 0.8 14 1.5 14 2.4 14 0.6 2 3.1 7.4 4.3 5.6 1.9 2 0.3 24.4-0.5 44-4.5 2-1.1 0.8-1 1-6.4 11.1z"/>
<path fill="#ef0000" d="M592.5 439.6l-2.6-0.2-6.4-1.9-6-2.1-6-2.6-6-2.9-5.6-3.1-5.4-3.4-5.6-3.8-5.1-3.8-5.6-4.6-7.3-6.4-6.9-6.6-3.5-3.7-7-7.8-6.1-6.9-2.3-3-1.2-2.6-0.8-2.4-2.4-15-0.9-4-2-7.6-0.6-3-0.1-2.4-0.1-16.6 0.2-11 0.3-1.5 2.4-0.6 20-0.8 5 0.3 30-2 7.6-2.4 7.4-1.9 3.6-1.7 3.4-2 3.5-2.4 2.1-1.6 4.1-3.8 2.8-3 2.5-3.3 2.6-3.7 0.4 1.2 0.6 6.2 0.8 15.6 1.4 14 2.5 15 3.4 8.4 0.6 1 1.5 2 3.4 4 0.2 0.6 0.3 24.4-0.6 44-3.5 1.7-1.1 0.9-1.3 1.4-6.2 10.7-4 6.3z"/>
<path fill="#df0000" d="M592.5 437.5l-2.6-0.2-6-1.7-6-2.1-6-2.6-5.4-2.6-5.6-3.1-5-3.1-5.4-3.7-9-6.9-7.2-6.3-5.8-5.9-6.6-7-11.7-13.5-2.9-4.6-0.7-2-0.7-3-1.1-7-1-5-1-4.4-2-7-0.7-3-0.2-2.6-0.1-10.4 0.2-14.6 0.5-0.3 19.4-0.5 5 0.4 30-2.8 4.5-1.8 10.5-3.3 2.8-1.7 6.8-3.5 3.7-2.5 3.8-3 3.6-3.4 3.3-4.1 0.5 2.1 0.5 14.4 1.2 14.6 2.1 14.4 3.2 8 0.7 1.6 1.1 1.4 4.5 5.6 0.1 0.4 0.4 23-0.7 43.6-3 1.4-1 1-1 1-6.4 11-3.2 4.9z"/>
<path fill="#cf0000" d="M591.5 435.3l-1.6-0.1-7-2-6-2.2-5.4-2.4-4.6-2.2-5.4-3.1-5.6-3.4-4.5-3.1-8.9-7.4-8-7.6-10.9-11.6-9.9-11.4-2.6-4-1.6-3.9-2.8-14.1-3.7-13.6-0.4-3 0-11 0-7.4 0.1-0.6 0.2-0.4 17-1.1 5 0.4 30-2.2 8-2.9 7-3 3.1-2.2 3.3-2 3.7-2.6 7.2-4.4 3.3-2.6 2.4-2.3 0.2 0.9 0.1 9 0.9 14.4 1.7 14 3.3 8.6 1 2 1.3 2 5 6 0.4 21.4-0.8 42.6-0.4 0.4-2.4 1.6-1.4 1.4-8.9 14.7-0.4 0.3z"/>
<path fill="#bf0000" d="M590.5 432.3l-2.6-0.5-6-1.7-5-1.7-4.9-2.2-4.5-2.2-4.6-2.6-4.2-2.6-4.2-3.1-8.6-6.7-5.3-4.8-3.1-3-10.6-11.1-10.1-11.9-2.5-4-2.2-5.4-2.3-11-2.3-8.6 2.3-23 0.1-0.4 10-1 5 0.3 29.6-1.7 6.3-1.6 8.7-2.8 1.5-0.8 4.9-3.5 5.5-4.9 6-4.6 4.1-2.7 0.1 0.7 0.5 17.6 1.5 14 3.5 9 1.2 2.4 1.2 1.7 3.5 4.3 1.9 2.2 0.6 19.8-1 42-2.6 2-1.4 1.8-7 11.9-0.6 0.2z"/>
<path fill="#af0000" d="M594 428.9l-3.4 0.3-1-0.1-6.6-1.7-5.4-1.9-5-2.2-5-2.5-5-2.9-4.6-2.9-4.4-3.3-4.6-3.6-9-8-10-10.5-6.4-7.4-3.7-4.4-2.3-3.8-0.2-1.2 5.6-42.6 0.6-0.1 1.4 0.1 30-1.5 8-1.7 7-1.8 6-3.1 5.6-3.7 5-4.5 3.4-3.8 0.3 1.7 0.2 9.4 1 13 0.2 1 3.7 9.6 1.2 2.2 1.5 2.2 3.6 4.6 1.9 2 0.2 0.4 0.5 18-1.1 41.6-0.3 0.4-1.9 1.6-1.4 1.8z"/>
<path fill="#9f0000" d="M594.5 425.9l-4.6 0.3-4.4-1.1-5-1.6-4.6-1.7-4.4-2.1-4.6-2.3-4-2.4-4.4-2.9-4.6-3.3-8.4-7.1-7-6.7-9.5-10.2-0.4-1-1.6-10 6.5-38.6 1-0.3 20.4-0.7 15-2.6 5.6-2.1 4.4-2.1 3.8-2.2 4.8-3.1 0.4 2.1 0.6 10 1.1 3.6 3.2 8 1.3 2.4 1.3 2 3.5 4.4 2.4 2.6 0.1 0.6 0.5 16.4-1 31.8-0.5 9.8-0.2 0.4-2.3 2.6-4 6.7z"/>
<path fill="#8f0000" d="M595 422.8l-5 0.3-5-1.2-4.4-1.5-4.6-1.7-4-1.8-4-2.1-7-4.3-7.4-5.4-8-6.8-4.8-4.5-0.8-1-2.8-13.6-1.1-5.4 3.9-18.8 3.8-14.8 0.8-0.2 10.4-0.2 15-1.7 4.6-1.1 4.4-1.3 8.6-3.3 0.2 2.4 0.7 2.4 4.3 10.6 2.2 3.4 5.4 6.6 1 16.4-1.4 20.8-4.2 26.8-0.2 0.8z"/>
<path fill="#800000" d="M586 418.9l-1-0.1-2.4-0.7-7-2.7-6-2.9-5.6-3.2-4.4-3-3.4-2.5-2.2-5.1-4.5-12.5-2.9-9.2-0.9-2.8 0-0.4 2.9-9.2 3-8.8 3.9-10 0.5-0.4 16.6-1 8-1 7.4-1.3 0.6 0.1 2.4 6 2.4 4 2.2 11 1.9 11-7.5 39.2-2.4 3.9-1.2 1.5z"/>
</g>
<rect x="393.3" y="264.5" width="249" height="197.5" fill="none" stroke="#262626" stroke-opacity="0.55" stroke-width="0.8"/>
<path d="M402 462v3.2M402 264.5v-3.2M442 462v3.2M442 264.5v-3.2M482 462v3.2M482 264.5v-3.2M522 462v3.2M522 264.5v-3.2M562 462v3.2M562 264.5v-3.2M602 462v3.2M602 264.5v-3.2M393.3 462h-3.2M642.3 462h3.2M393.3 412.62h-3.2M642.3 412.62h3.2M393.3 363.25h-3.2M642.3 363.25h3.2M393.3 313.88h-3.2M642.3 313.88h3.2M393.3 264.5h-3.2M642.3 264.5h3.2" stroke="#262626" stroke-width="1.1" fill="none"/>
<g font-size="12.7" fill="#262626"><text x="402" y="481.3" text-anchor="middle">2</text><text x="442" y="481.3" text-anchor="middle">2.5</text><text x="482" y="481.3" text-anchor="middle">3</text><text x="522" y="481.3" text-anchor="middle">3.5</text><text x="562" y="481.3" text-anchor="middle">4</text><text x="602" y="481.3" text-anchor="middle">4.5</text><text x="387.7" y="466.6" text-anchor="end">0</text><text x="387.7" y="417.23" text-anchor="end">20</text><text x="387.7" y="367.85" text-anchor="end">40</text><text x="387.7" y="318.48" text-anchor="end">60</text><text x="387.7" y="269.1" text-anchor="end">80</text></g>
<text x="517.8" y="499" font-size="14" fill="#262626" text-anchor="middle">Frequency (THz)</text>
<text transform="translate(368.5 363.25) rotate(-90)" font-size="14" fill="#262626" text-anchor="middle">Incidence Angle (degrees)</text>
<rect x="649.5" y="458.91" width="10.4" height="3.44" fill="#00008f"/><rect x="649.5" y="455.83" width="10.4" height="3.44" fill="#00009f"/><rect x="649.5" y="452.74" width="10.4" height="3.44" fill="#0000af"/><rect x="649.5" y="449.66" width="10.4" height="3.44" fill="#0000bf"/><rect x="649.5" y="446.57" width="10.4" height="3.44" fill="#0000cf"/><rect x="649.5" y="443.48" width="10.4" height="3.44" fill="#0000df"/><rect x="649.5" y="440.4" width="10.4" height="3.44" fill="#0000ef"/><rect x="649.5" y="437.31" width="10.4" height="3.44" fill="#0000ff"/><rect x="649.5" y="434.23" width="10.4" height="3.44" fill="#0010ff"/><rect x="649.5" y="431.14" width="10.4" height="3.44" fill="#0020ff"/><rect x="649.5" y="428.05" width="10.4" height="3.44" fill="#0030ff"/><rect x="649.5" y="424.97" width="10.4" height="3.44" fill="#0040ff"/><rect x="649.5" y="421.88" width="10.4" height="3.44" fill="#0050ff"/><rect x="649.5" y="418.8" width="10.4" height="3.44" fill="#0060ff"/><rect x="649.5" y="415.71" width="10.4" height="3.44" fill="#0070ff"/><rect x="649.5" y="412.62" width="10.4" height="3.44" fill="#0080ff"/><rect x="649.5" y="409.54" width="10.4" height="3.44" fill="#008fff"/><rect x="649.5" y="406.45" width="10.4" height="3.44" fill="#009fff"/><rect x="649.5" y="403.37" width="10.4" height="3.44" fill="#00afff"/><rect x="649.5" y="400.28" width="10.4" height="3.44" fill="#00bfff"/><rect x="649.5" y="397.2" width="10.4" height="3.44" fill="#00cfff"/><rect x="649.5" y="394.11" width="10.4" height="3.44" fill="#00dfff"/><rect x="649.5" y="391.02" width="10.4" height="3.44" fill="#00efff"/><rect x="649.5" y="387.94" width="10.4" height="3.44" fill="#00ffff"/><rect x="649.5" y="384.85" width="10.4" height="3.44" fill="#10ffef"/><rect x="649.5" y="381.77" width="10.4" height="3.44" fill="#20ffdf"/><rect x="649.5" y="378.68" width="10.4" height="3.44" fill="#30ffcf"/><rect x="649.5" y="375.59" width="10.4" height="3.44" fill="#40ffbf"/><rect x="649.5" y="372.51" width="10.4" height="3.44" fill="#50ffaf"/><rect x="649.5" y="369.42" width="10.4" height="3.44" fill="#60ff9f"/><rect x="649.5" y="366.34" width="10.4" height="3.44" fill="#70ff8f"/><rect x="649.5" y="363.25" width="10.4" height="3.44" fill="#80ff80"/><rect x="649.5" y="360.16" width="10.4" height="3.44" fill="#8fff70"/><rect x="649.5" y="357.08" width="10.4" height="3.44" fill="#9fff60"/><rect x="649.5" y="353.99" width="10.4" height="3.44" fill="#afff50"/><rect x="649.5" y="350.91" width="10.4" height="3.44" fill="#bfff40"/><rect x="649.5" y="347.82" width="10.4" height="3.44" fill="#cfff30"/><rect x="649.5" y="344.73" width="10.4" height="3.44" fill="#dfff20"/><rect x="649.5" y="341.65" width="10.4" height="3.44" fill="#efff10"/><rect x="649.5" y="338.56" width="10.4" height="3.44" fill="#ffff00"/><rect x="649.5" y="335.48" width="10.4" height="3.44" fill="#ffef00"/><rect x="649.5" y="332.39" width="10.4" height="3.44" fill="#ffdf00"/><rect x="649.5" y="329.3" width="10.4" height="3.44" fill="#ffcf00"/><rect x="649.5" y="326.22" width="10.4" height="3.44" fill="#ffbf00"/><rect x="649.5" y="323.13" width="10.4" height="3.44" fill="#ffaf00"/><rect x="649.5" y="320.05" width="10.4" height="3.44" fill="#ff9f00"/><rect x="649.5" y="316.96" width="10.4" height="3.44" fill="#ff8f00"/><rect x="649.5" y="313.88" width="10.4" height="3.44" fill="#ff8000"/><rect x="649.5" y="310.79" width="10.4" height="3.44" fill="#ff7000"/><rect x="649.5" y="307.7" width="10.4" height="3.44" fill="#ff6000"/><rect x="649.5" y="304.62" width="10.4" height="3.44" fill="#ff5000"/><rect x="649.5" y="301.53" width="10.4" height="3.44" fill="#ff4000"/><rect x="649.5" y="298.45" width="10.4" height="3.44" fill="#ff3000"/><rect x="649.5" y="295.36" width="10.4" height="3.44" fill="#ff2000"/><rect x="649.5" y="292.27" width="10.4" height="3.44" fill="#ff1000"/><rect x="649.5" y="289.19" width="10.4" height="3.44" fill="#ff0000"/><rect x="649.5" y="286.1" width="10.4" height="3.44" fill="#ef0000"/><rect x="649.5" y="283.02" width="10.4" height="3.44" fill="#df0000"/><rect x="649.5" y="279.93" width="10.4" height="3.44" fill="#cf0000"/><rect x="649.5" y="276.84" width="10.4" height="3.44" fill="#bf0000"/><rect x="649.5" y="273.76" width="10.4" height="3.44" fill="#af0000"/><rect x="649.5" y="270.67" width="10.4" height="3.44" fill="#9f0000"/><rect x="649.5" y="267.59" width="10.4" height="3.44" fill="#8f0000"/><rect x="649.5" y="264.5" width="10.4" height="3.44" fill="#800000"/>
<rect x="649.5" y="264.5" width="10.4" height="197.5" fill="none" stroke="#262626" stroke-width="0.9"/>
<path d="M659.9 462h2.4M659.9 441.62h2.4M659.9 421.24h2.4M659.9 400.85h2.4M659.9 380.47h2.4M659.9 360.09h2.4M659.9 339.71h2.4M659.9 319.33h2.4M659.9 298.95h2.4M659.9 278.56h2.4" stroke="#262626" stroke-width="1" fill="none"/>
<g font-size="11.5" fill="#262626"><text x="665.2" y="466.2">0</text><text x="665.2" y="445.82">0.1</text><text x="665.2" y="425.44">0.2</text><text x="665.2" y="405.05">0.3</text><text x="665.2" y="384.67">0.4</text><text x="665.2" y="364.29">0.5</text><text x="665.2" y="343.91">0.6</text><text x="665.2" y="323.53">0.7</text><text x="665.2" y="303.15">0.8</text><text x="665.2" y="282.76">0.9</text></g>
<text transform="translate(401.9 450.8) scale(1 1.04)" font-size="22.5" font-weight="bold" fill="#fff">(d)</text>
<g font-size="21" font-weight="bold" font-style="italic"><text x="184.7" y="87.5" fill="#f5a3c8">d1</text><text x="184.1" y="119" fill="#f5a3c8">d2</text><text x="484.4" y="69" fill="#f5a3c8">d3</text><text x="538.6" y="88.1" fill="#93ee6c">a1</text><text x="188.3" y="369.9" fill="#93ee6c">a2</text><text x="481.5" y="343.7" fill="#93ee6c">a3</text></g>
</svg>
</body></html>
